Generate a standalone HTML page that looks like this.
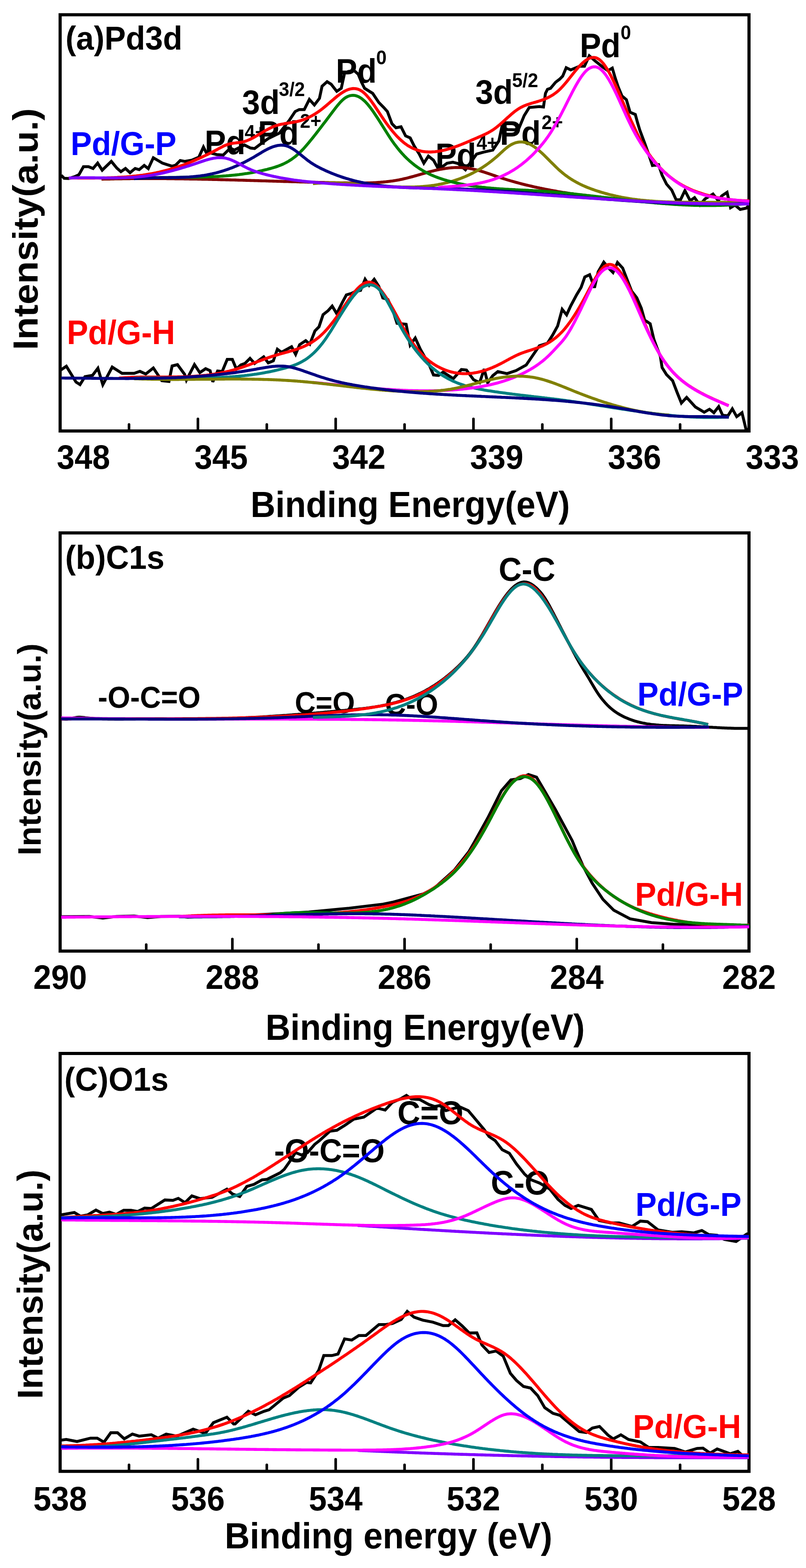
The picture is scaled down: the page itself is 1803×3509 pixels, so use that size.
<!DOCTYPE html>
<html><head><meta charset="utf-8"><style>html,body{margin:0;padding:0;background:#fff;}svg{display:block;}</style></head>
<body><svg width="1803" height="3509" viewBox="0 0 1803 3509" font-family="&quot;Liberation Sans&quot;, Arial, sans-serif" font-weight="bold">
<rect width="1803" height="3509" fill="#fff"/>
<rect x="134.5" y="33" width="1541.0" height="931.5" fill="none" stroke="#000" stroke-width="7"/>
<rect x="134.5" y="1192.6" width="1541.0" height="935.8000000000002" fill="none" stroke="#000" stroke-width="7"/>
<rect x="134.5" y="2357.5" width="1541.0" height="935.1999999999998" fill="none" stroke="#000" stroke-width="7"/>
<line x1="288.6" y1="964.5" x2="288.6" y2="950.0" stroke="#000" stroke-width="5.8" stroke-linecap="round"/>
<line x1="442.7" y1="964.5" x2="442.7" y2="937.5" stroke="#000" stroke-width="5.8" stroke-linecap="round"/>
<line x1="596.8" y1="964.5" x2="596.8" y2="950.0" stroke="#000" stroke-width="5.8" stroke-linecap="round"/>
<line x1="750.9" y1="964.5" x2="750.9" y2="937.5" stroke="#000" stroke-width="5.8" stroke-linecap="round"/>
<line x1="905.0" y1="964.5" x2="905.0" y2="950.0" stroke="#000" stroke-width="5.8" stroke-linecap="round"/>
<line x1="1059.1" y1="964.5" x2="1059.1" y2="937.5" stroke="#000" stroke-width="5.8" stroke-linecap="round"/>
<line x1="1213.2" y1="964.5" x2="1213.2" y2="950.0" stroke="#000" stroke-width="5.8" stroke-linecap="round"/>
<line x1="1367.3" y1="964.5" x2="1367.3" y2="937.5" stroke="#000" stroke-width="5.8" stroke-linecap="round"/>
<line x1="1521.4" y1="964.5" x2="1521.4" y2="950.0" stroke="#000" stroke-width="5.8" stroke-linecap="round"/>
<line x1="327.1" y1="2128.4" x2="327.1" y2="2113.9" stroke="#000" stroke-width="5.8" stroke-linecap="round"/>
<line x1="519.8" y1="2128.4" x2="519.8" y2="2101.4" stroke="#000" stroke-width="5.8" stroke-linecap="round"/>
<line x1="712.4" y1="2128.4" x2="712.4" y2="2113.9" stroke="#000" stroke-width="5.8" stroke-linecap="round"/>
<line x1="905.0" y1="2128.4" x2="905.0" y2="2101.4" stroke="#000" stroke-width="5.8" stroke-linecap="round"/>
<line x1="1097.6" y1="2128.4" x2="1097.6" y2="2113.9" stroke="#000" stroke-width="5.8" stroke-linecap="round"/>
<line x1="1290.2" y1="2128.4" x2="1290.2" y2="2101.4" stroke="#000" stroke-width="5.8" stroke-linecap="round"/>
<line x1="1482.9" y1="2128.4" x2="1482.9" y2="2113.9" stroke="#000" stroke-width="5.8" stroke-linecap="round"/>
<line x1="288.6" y1="3292.7" x2="288.6" y2="3278.2" stroke="#000" stroke-width="5.8" stroke-linecap="round"/>
<line x1="442.7" y1="3292.7" x2="442.7" y2="3265.7" stroke="#000" stroke-width="5.8" stroke-linecap="round"/>
<line x1="596.8" y1="3292.7" x2="596.8" y2="3278.2" stroke="#000" stroke-width="5.8" stroke-linecap="round"/>
<line x1="750.9" y1="3292.7" x2="750.9" y2="3265.7" stroke="#000" stroke-width="5.8" stroke-linecap="round"/>
<line x1="905.0" y1="3292.7" x2="905.0" y2="3278.2" stroke="#000" stroke-width="5.8" stroke-linecap="round"/>
<line x1="1059.1" y1="3292.7" x2="1059.1" y2="3265.7" stroke="#000" stroke-width="5.8" stroke-linecap="round"/>
<line x1="1213.2" y1="3292.7" x2="1213.2" y2="3278.2" stroke="#000" stroke-width="5.8" stroke-linecap="round"/>
<line x1="1367.3" y1="3292.7" x2="1367.3" y2="3265.7" stroke="#000" stroke-width="5.8" stroke-linecap="round"/>
<line x1="1521.4" y1="3292.7" x2="1521.4" y2="3278.2" stroke="#000" stroke-width="5.8" stroke-linecap="round"/>
<text transform="translate(126.9,1048.5) scale(1,1.05)" font-size="71.5" fill="#000">348</text>
<text transform="translate(435.1,1048.5) scale(1,1.05)" font-size="71.5" fill="#000">345</text>
<text transform="translate(743.3,1048.5) scale(1,1.05)" font-size="71.5" fill="#000">342</text>
<text transform="translate(1051.5,1048.5) scale(1,1.05)" font-size="71.5" fill="#000">339</text>
<text transform="translate(1359.7,1048.5) scale(1,1.05)" font-size="71.5" fill="#000">336</text>
<text transform="translate(1667.9,1048.5) scale(1,1.05)" font-size="71.5" fill="#000">333</text>
<text transform="translate(134.5,2213.3) scale(1,1.05)" font-size="72" fill="#000" text-anchor="middle">290</text>
<text transform="translate(519.8,2213.3) scale(1,1.05)" font-size="72" fill="#000" text-anchor="middle">288</text>
<text transform="translate(905.0,2213.3) scale(1,1.05)" font-size="72" fill="#000" text-anchor="middle">286</text>
<text transform="translate(1290.2,2213.3) scale(1,1.05)" font-size="72" fill="#000" text-anchor="middle">284</text>
<text transform="translate(1675.5,2213.3) scale(1,1.05)" font-size="72" fill="#000" text-anchor="middle">282</text>
<text transform="translate(134.5,3379.8) scale(1,1.05)" font-size="72" fill="#000" text-anchor="middle">538</text>
<text transform="translate(442.7,3379.8) scale(1,1.05)" font-size="72" fill="#000" text-anchor="middle">536</text>
<text transform="translate(750.9,3379.8) scale(1,1.05)" font-size="72" fill="#000" text-anchor="middle">534</text>
<text transform="translate(1059.1,3379.8) scale(1,1.05)" font-size="72" fill="#000" text-anchor="middle">532</text>
<text transform="translate(1367.3,3379.8) scale(1,1.05)" font-size="72" fill="#000" text-anchor="middle">530</text>
<text transform="translate(1675.5,3379.8) scale(1,1.05)" font-size="72" fill="#000" text-anchor="middle">528</text>
<text transform="translate(560.5,1156.8) scale(1,1.05)" font-size="77" fill="#000">Binding Energy(eV)</text>
<text transform="translate(593.9,2326.7) scale(1,1.05)" font-size="77" fill="#000">Binding Energy(eV)</text>
<text transform="translate(502.7,3464.8) scale(1,1.05)" font-size="77.6" fill="#000">Binding energy (eV)</text>
<text transform="translate(84.0,783.3) rotate(-90) scale(1.061,1)" font-size="78.5" fill="#000">Intensity(a.u.)</text>
<text transform="translate(90.8,1914.4) rotate(-90) scale(1.0,1)" font-size="73" fill="#000">Intensity(a.u.)</text>
<text transform="translate(95.0,3130.7) rotate(-90) scale(1.0,1)" font-size="79" fill="#000">Intensity(a.u.)</text>
<text transform="translate(146.6,110.8) scale(1,1.05)" font-size="71.3" fill="#000">(a)Pd3d</text>
<text transform="translate(145.8,1273.0) scale(1,1.05)" font-size="71.4" fill="#000">(b)C1s</text>
<text transform="translate(144.0,2440.7) scale(1,1.05)" font-size="71.1" fill="#000">(C)O1s</text>
<text transform="translate(157.9,347.1) scale(1,1.05)" font-size="71" fill="#0000FF">Pd/G-P</text>
<text transform="translate(149.4,770.0) scale(1,1.05)" font-size="71.5" fill="#FF0000">Pd/G-H</text>
<text transform="translate(541.6,254.6) scale(1,1.05)" font-size="72" fill="#000">3d</text>
<text transform="translate(623.8,214.5) scale(1,1.05)" font-size="42" fill="#000">3/2</text>
<text transform="translate(457.8,344.8) scale(1,1.05)" font-size="71.5" fill="#000">Pd</text>
<text transform="translate(547.2,311.0) scale(1,1.05)" font-size="42" fill="#000">4+</text>
<text transform="translate(577.0,324.4) scale(1,1.05)" font-size="71.5" fill="#000">Pd</text>
<text transform="translate(670.9,285.5) scale(1,1.05)" font-size="42" fill="#000">2+</text>
<text transform="translate(751.3,184.9) scale(1,1.05)" font-size="71.5" fill="#000">Pd</text>
<text transform="translate(841.4,143.5) scale(1,1.05)" font-size="42" fill="#000">0</text>
<text transform="translate(1063.2,232.0) scale(1,1.05)" font-size="72" fill="#000">3d</text>
<text transform="translate(1145.5,195.1) scale(1,1.05)" font-size="42" fill="#000">5/2</text>
<text transform="translate(973.9,373.5) scale(1,1.05)" font-size="71.5" fill="#000">Pd</text>
<text transform="translate(1065.9,335.2) scale(1,1.05)" font-size="42" fill="#000">4+</text>
<text transform="translate(1118.2,324.3) scale(1,1.05)" font-size="71.5" fill="#000">Pd</text>
<text transform="translate(1211.5,289.2) scale(1,1.05)" font-size="42" fill="#000">2+</text>
<text transform="translate(1296.9,127.7) scale(1,1.05)" font-size="71.5" fill="#000">Pd</text>
<text transform="translate(1388.3,87.5) scale(1,1.05)" font-size="42" fill="#000">0</text>
<text transform="translate(1115.5,1300.2) scale(1,1.05)" font-size="71.3" fill="#000">C-C</text>
<text transform="translate(219.0,1583.9) scale(1,1.05)" font-size="65.1" fill="#000">-O-C=O</text>
<text transform="translate(659.4,1596.3) scale(1,1.05)" font-size="64.6" fill="#000">C=O</text>
<text transform="translate(861.3,1599.8) scale(1,1.05)" font-size="64.9" fill="#000">C-O</text>
<text transform="translate(1425.8,1579.3) scale(1,1.05)" font-size="71" fill="#0000FF">Pd/G-P</text>
<text transform="translate(1420.6,2026.5) scale(1,1.05)" font-size="71.2" fill="#FF0000">Pd/G-H</text>
<text transform="translate(889.1,2516.0) scale(1,1.05)" font-size="70.8" fill="#000">C=O</text>
<text transform="translate(613.3,2600.6) scale(1,1.05)" font-size="70.1" fill="#000">-O-C=O</text>
<text transform="translate(1098.0,2673.0) scale(1,1.05)" font-size="71.5" fill="#000">C-O</text>
<text transform="translate(1421.6,2720.8) scale(1,1.05)" font-size="71.1" fill="#0000FF">Pd/G-P</text>
<text transform="translate(1415.8,3218.4) scale(1,1.05)" font-size="71.4" fill="#FF0000">Pd/G-H</text>
<path d="M137.0,392.2 L143.6,399.0 L153.8,399.4 L166.3,395.6 L176.5,391.0 L186.7,372.9 L198.0,372.9 L208.2,377.0 L218.4,365.0 L228.6,380.8 L249.0,361.1 L261.4,376.3 L270.5,384.2 L280.7,377.0 L290.9,386.5 L302.2,377.0 L311.3,379.7 L322.6,370.2 L331.7,377.4 L343.0,353.0 L363.4,365.0 L373.6,368.4 L384.9,371.8 L392.9,369.5 L403.1,359.3 L413.3,361.1 L429.0,358.5 L444.9,351.7 L455.1,329.0 L461.9,342.6 L472.1,342.6 L485.0,346.0 L499.3,347.1 L515.2,331.3 L524.2,335.8 L546.9,324.5 L560.5,331.3 L569.6,332.4 L583.2,322.2 L600.0,310.0 L625.0,298.0 L646.6,270.1 L660.2,249.7 L669.3,245.2 L680.6,245.2 L692.0,222.5 L703.3,235.0 L714.6,220.2 L720.4,193.0 L731.7,182.9 L740.8,188.5 L753.3,204.4 L763.4,197.6 L770.7,164.0 L779.3,160.0 L792.9,158.6 L801.3,166.0 L808.7,184.0 L815.6,197.6 L833.7,208.9 L847.3,229.3 L858.6,240.6 L866.6,249.7 L876.8,276.9 L885.8,286.0 L897.1,283.7 L907.3,304.1 L917.5,308.6 L926.6,326.8 L937.9,344.9 L948.1,365.3 L958.3,349.4 L969.7,358.5 L979.9,376.6 L987.8,374.3 L1000.0,365.3 L1013.0,363.0 L1025.0,366.0 L1041.2,380.0 L1066.1,344.9 L1082.0,340.3 L1102.4,335.8 L1116.0,315.4 L1122.8,283.7 L1135.0,290.0 L1152.2,290.5 L1161.3,286.0 L1172.6,258.8 L1183.9,240.6 L1206.6,238.4 L1215.7,239.5 L1220.2,208.9 L1224.7,199.9 L1231.5,197.6 L1242.9,184.0 L1251.9,177.2 L1258.7,170.4 L1266.6,151.5 L1276.6,156.5 L1296.6,148.2 L1307.4,148.2 L1318.2,124.9 L1331.5,136.6 L1348.1,149.9 L1359.7,158.2 L1369.7,152.3 L1376.3,174.8 L1383.0,194.7 L1391.3,214.7 L1401.2,223.0 L1409.5,251.2 L1421.2,256.2 L1426.2,274.5 L1431.2,291.1 L1441.8,319.5 L1449.6,341.1 L1459.5,370.5 L1473.2,368.6 L1481.1,392.1 L1490.9,411.8 L1502.7,425.5 L1512.5,447.1 L1522.3,447.1 L1532.1,426.5 L1543.9,449.1 L1553.7,442.2 L1565.5,458.9 L1577.3,445.1 L1595.0,434.3 L1606.7,449.1 L1614.6,438.3 L1626.4,430.4 L1634.2,464.8 L1644.1,458.9 L1655.8,468.7 L1669.6,465.8 L1675.5,458.9" fill="none" stroke="#000000" stroke-width="6.5" stroke-linejoin="miter" stroke-miterlimit="3"/>
<path d="M153.8,398.3 L156.8,398.3 L159.8,398.3 L162.8,398.3 L165.8,398.3 L168.8,398.3 L171.8,398.3 L174.8,398.4 L177.8,398.4 L180.8,398.4 L183.8,398.4 L186.8,398.4 L189.8,398.4 L192.8,398.4 L195.8,398.4 L198.8,398.4 L201.8,398.4 L204.8,398.4 L207.8,398.4 L210.8,398.4 L213.8,398.3 L216.8,398.3 L219.9,398.3 L222.9,398.2 L225.9,398.2 L228.9,398.2 L231.9,398.1 L234.9,398.0 L237.9,398.0 L240.9,397.9 L243.9,397.8 L246.9,397.7 L249.9,397.6 L252.9,397.5 L255.9,397.4 L258.9,397.2 L261.9,397.1 L264.9,396.9 L267.9,396.8 L270.9,396.6 L273.9,396.4 L276.9,396.2 L279.9,396.0 L282.9,395.8 L285.9,395.5 L288.9,395.3 L291.9,395.0 L294.9,394.7 L297.9,394.4 L300.9,394.1 L303.9,393.8 L306.9,393.4 L309.9,393.1 L312.9,392.7 L315.9,392.3 L318.9,391.9 L321.9,391.4 L324.9,391.0 L327.9,390.5 L330.9,390.0 L333.9,389.5 L336.9,389.0 L339.9,388.5 L342.9,387.9 L346.0,387.3 L349.0,386.7 L352.0,386.0 L355.0,385.4 L358.0,384.7 L361.0,384.0 L364.0,383.3 L367.0,382.5 L370.0,381.8 L373.0,381.0 L376.0,380.2 L379.0,379.3 L382.0,378.4 L385.0,377.5 L388.0,376.6 L391.0,375.7 L394.0,374.7 L397.0,373.7 L400.0,372.7 L403.0,371.6 L406.0,370.6 L409.0,369.5 L412.0,368.4 L415.0,367.2 L418.0,366.1 L421.0,364.9 L424.0,363.7 L427.0,362.5 L430.0,361.2 L433.0,359.9 L436.0,358.7 L439.0,357.3 L442.0,356.0 L445.0,354.7 L448.0,353.3 L451.0,351.9 L454.0,350.5 L457.0,349.1 L460.0,347.6 L463.0,346.2 L466.0,344.7 L469.0,343.2 L472.1,341.7 L475.1,340.1 L478.1,338.6 L481.1,337.0 L484.1,335.5 L487.1,333.9 L490.1,332.2 L493.1,330.6 L496.1,329.1 L499.1,327.5 L502.1,326.1 L505.1,324.8 L508.1,323.7 L511.1,322.7 L514.1,321.9 L517.1,321.2 L520.1,320.7 L523.1,320.3 L526.1,320.0 L529.1,319.6 L532.1,319.3 L535.1,319.0 L538.1,318.6 L541.1,318.0 L544.1,317.4 L547.1,316.6 L550.1,315.6 L553.1,314.5 L556.1,313.3 L559.1,312.0 L562.1,310.5 L565.1,309.0 L568.1,307.4 L571.1,305.7 L574.1,304.0 L577.1,302.2 L580.1,300.4 L583.1,298.6 L586.1,296.8 L589.1,295.0 L592.1,293.2 L595.1,291.5 L598.2,289.8 L601.2,288.2 L604.2,286.7 L607.2,285.3 L610.2,283.9 L613.2,282.7 L616.2,281.6 L619.2,280.7 L622.2,279.8 L625.2,279.0 L628.2,278.3 L631.2,277.7 L634.2,277.2 L637.2,276.6 L640.2,276.1 L643.2,275.7 L646.2,275.2 L649.2,274.8 L652.2,274.3 L655.2,273.8 L658.2,273.3 L661.2,272.7 L664.2,272.1 L667.2,271.3 L670.2,270.5 L673.2,269.7 L676.2,268.7 L679.2,267.6 L682.2,266.5 L685.2,265.2 L688.2,263.9 L691.2,262.4 L694.2,260.9 L697.2,259.3 L700.2,257.6 L703.2,255.8 L706.2,254.0 L709.2,252.0 L712.2,250.0 L715.2,247.8 L718.2,245.6 L721.2,243.3 L724.2,240.9 L727.3,238.4 L730.3,235.9 L733.3,233.3 L736.3,230.7 L739.3,228.1 L742.3,225.5 L745.3,222.9 L748.3,220.4 L751.3,217.9 L754.3,215.4 L757.3,213.1 L760.3,210.9 L763.3,208.8 L766.3,206.8 L769.3,205.0 L772.3,203.4 L775.3,201.9 L778.3,200.7 L781.3,199.7 L784.3,198.9 L787.3,198.4 L790.3,198.1 L793.3,198.2 L796.3,198.5 L799.3,199.2 L802.3,200.2 L805.3,201.6 L808.3,203.3 L811.3,205.4 L814.3,207.9 L817.3,210.7 L820.3,213.8 L823.3,217.3 L826.3,220.9 L829.3,224.8 L832.3,228.8 L835.3,233.0 L838.3,237.4 L841.3,241.8 L844.3,246.3 L847.3,250.9 L850.3,255.4 L853.4,260.0 L856.4,264.4 L859.4,268.8 L862.4,273.1 L865.4,277.3 L868.4,281.4 L871.4,285.3 L874.4,289.2 L877.4,292.9 L880.4,296.4 L883.4,299.9 L886.4,303.2 L889.4,306.4 L892.4,309.4 L895.4,312.3 L898.4,315.0 L901.4,317.6 L904.4,320.0 L907.4,322.3 L910.4,324.4 L913.4,326.4 L916.4,328.2 L919.4,329.8 L922.4,331.4 L925.4,332.7 L928.4,334.0 L931.4,335.1 L934.4,336.1 L937.4,337.0 L940.4,337.8 L943.4,338.4 L946.4,338.9 L949.4,339.4 L952.4,339.7 L955.4,339.9 L958.4,340.1 L961.4,340.1 L964.4,340.1 L967.4,339.9 L970.4,339.7 L973.4,339.5 L976.4,339.1 L979.5,338.7 L982.5,338.2 L985.5,337.7 L988.5,337.1 L991.5,336.5 L994.5,335.8 L997.5,335.0 L1000.5,334.2 L1003.5,333.3 L1006.5,332.5 L1009.5,331.5 L1012.5,330.5 L1015.5,329.5 L1018.5,328.5 L1021.5,327.4 L1024.5,326.3 L1027.5,325.1 L1030.5,324.0 L1033.5,322.8 L1036.5,321.6 L1039.5,320.3 L1042.5,319.1 L1045.5,317.8 L1048.5,316.5 L1051.5,315.2 L1054.5,313.9 L1057.5,312.6 L1060.5,311.3 L1063.5,310.0 L1066.5,308.7 L1069.5,307.4 L1072.5,306.1 L1075.5,304.8 L1078.5,303.5 L1081.5,302.1 L1084.5,300.7 L1087.5,299.3 L1090.5,297.8 L1093.5,296.2 L1096.5,294.5 L1099.5,292.7 L1102.5,290.7 L1105.6,288.7 L1108.6,286.5 L1111.6,284.1 L1114.6,281.7 L1117.6,279.2 L1120.6,276.6 L1123.6,273.9 L1126.6,271.2 L1129.6,268.5 L1132.6,265.8 L1135.6,263.0 L1138.6,260.4 L1141.6,257.7 L1144.6,255.1 L1147.6,252.6 L1150.6,250.2 L1153.6,247.9 L1156.6,245.8 L1159.6,243.8 L1162.6,241.9 L1165.6,240.2 L1168.6,238.7 L1171.6,237.3 L1174.6,236.0 L1177.6,234.9 L1180.6,233.8 L1183.6,232.8 L1186.6,231.8 L1189.6,230.9 L1192.6,230.1 L1195.6,229.2 L1198.6,228.4 L1201.6,227.5 L1204.6,226.6 L1207.6,225.7 L1210.6,224.7 L1213.6,223.6 L1216.6,222.5 L1219.6,221.2 L1222.6,219.9 L1225.6,218.5 L1228.6,217.0 L1231.6,215.4 L1234.7,213.6 L1237.7,211.7 L1240.7,209.6 L1243.7,207.4 L1246.7,205.0 L1249.7,202.4 L1252.7,199.6 L1255.7,196.5 L1258.7,193.3 L1261.7,189.9 L1264.7,186.4 L1267.7,182.8 L1270.7,179.1 L1273.7,175.3 L1276.7,171.5 L1279.7,167.7 L1282.7,164.0 L1285.7,160.2 L1288.7,156.6 L1291.7,153.1 L1294.7,149.6 L1297.7,146.4 L1300.7,143.3 L1303.7,140.5 L1306.7,137.9 L1309.7,135.5 L1312.7,133.5 L1315.7,131.7 L1318.7,130.3 L1321.7,129.3 L1324.7,128.7 L1327.7,128.5 L1330.7,128.8 L1333.7,129.5 L1336.7,130.8 L1339.7,132.6 L1342.7,134.9 L1345.7,137.8 L1348.7,141.1 L1351.7,144.9 L1354.7,149.2 L1357.7,153.9 L1360.8,158.9 L1363.8,164.3 L1366.8,169.9 L1369.8,175.9 L1372.8,182.1 L1375.8,188.5 L1378.8,195.0 L1381.8,201.7 L1384.8,208.6 L1387.8,215.5 L1390.8,222.4 L1393.8,229.4 L1396.8,236.3 L1399.8,243.2 L1402.8,250.0 L1405.8,256.7 L1408.8,263.4 L1411.8,270.0 L1414.8,276.5 L1417.8,283.0 L1420.8,289.4 L1423.8,295.7 L1426.8,301.9 L1429.8,307.9 L1432.8,313.7 L1435.8,319.2 L1438.8,324.5 L1441.8,329.6 L1444.8,334.4 L1447.8,339.1 L1450.8,343.5 L1453.8,347.8 L1456.8,351.9 L1459.8,355.8 L1462.8,359.6 L1465.8,363.3 L1468.8,366.8 L1471.8,370.2 L1474.8,373.5 L1477.8,376.7 L1480.8,379.7 L1483.8,382.7 L1486.9,385.6 L1489.9,388.3 L1492.9,391.0 L1495.9,393.5 L1498.9,396.0 L1501.9,398.4 L1504.9,400.7 L1507.9,402.9 L1510.9,405.0 L1513.9,407.0 L1516.9,409.0 L1519.9,410.8 L1522.9,412.6 L1525.9,414.4 L1528.9,416.0 L1531.9,417.6 L1534.9,419.2 L1537.9,420.6 L1540.9,422.0 L1543.9,423.4 L1546.9,424.7 L1549.9,426.0 L1552.9,427.2 L1555.9,428.3 L1558.9,429.4 L1561.9,430.5 L1564.9,431.5 L1567.9,432.5 L1570.9,433.5 L1573.9,434.4 L1576.9,435.3 L1579.9,436.2 L1582.9,437.0 L1585.9,437.8 L1588.9,438.6 L1591.9,439.4 L1594.9,440.1 L1597.9,440.8 L1600.9,441.4 L1603.9,442.0 L1606.9,442.6 L1609.9,443.2 L1613.0,443.7 L1616.0,444.3 L1619.0,444.7 L1622.0,445.2 L1625.0,445.6 L1628.0,446.1 L1631.0,446.4 L1634.0,446.8 L1637.0,447.1 L1640.0,447.4 L1643.0,447.7 L1646.0,448.0 L1649.0,448.2 L1652.0,448.5 L1655.0,448.7 L1658.0,448.8 L1661.0,449.0 L1664.0,449.1 L1667.0,449.3 L1670.0,449.4 L1673.0,449.4 L1676.0,449.5" fill="none" stroke="#FF0000" stroke-width="6.6" stroke-linejoin="round"/>
<path d="M227.0,401.0 L230.0,400.9 L233.0,400.8 L236.0,400.8 L239.0,400.7 L242.0,400.6 L245.0,400.6 L248.0,400.5 L251.0,400.4 L254.0,400.4 L257.0,400.3 L260.0,400.3 L263.0,400.2 L266.0,400.2 L269.0,400.1 L272.0,400.1 L275.0,400.0 L278.0,400.0 L281.0,400.0 L284.0,399.9 L287.0,399.9 L290.0,399.9 L293.0,399.8 L296.0,399.8 L299.0,399.8 L302.0,399.8 L305.0,399.7 L308.0,399.7 L311.0,399.7 L314.0,399.7 L317.0,399.7 L320.0,399.7 L323.0,399.7 L326.0,399.7 L329.0,399.7 L332.0,399.7 L335.0,399.7 L338.0,399.7 L341.0,399.7 L344.0,399.7 L347.0,399.7 L350.0,399.7 L353.0,399.7 L356.0,399.7 L359.0,399.8 L362.0,399.8 L365.0,399.8 L368.0,399.8 L371.0,399.8 L374.0,399.9 L377.0,399.9 L380.0,399.9 L383.0,400.0 L386.0,400.0 L389.0,400.0 L392.0,400.1 L395.0,400.1 L398.0,400.1 L401.0,400.2 L404.0,400.2 L407.0,400.3 L410.0,400.3 L413.0,400.4 L416.0,400.4 L419.0,400.5 L422.0,400.5 L425.0,400.6 L428.0,400.6 L431.0,400.7 L434.0,400.7 L437.0,400.8 L440.0,400.8 L443.0,400.9 L446.0,401.0 L449.0,401.0 L452.0,401.1 L455.0,401.1 L458.0,401.2 L461.0,401.3 L464.0,401.3 L467.0,401.4 L470.0,401.5 L473.0,401.5 L476.0,401.6 L479.0,401.7 L482.0,401.8 L485.0,401.8 L488.0,401.9 L491.0,402.0 L494.0,402.1 L497.0,402.1 L500.0,402.2 L503.0,402.3 L506.0,402.4 L509.0,402.4 L512.0,402.5 L515.0,402.6 L518.0,402.7 L521.0,402.8 L524.0,402.8 L527.0,402.9 L530.0,403.0 L533.0,403.1 L536.0,403.2 L539.0,403.3 L542.0,403.3 L545.0,403.4 L548.0,403.5 L551.0,403.6 L554.0,403.7 L557.0,403.8 L560.0,403.9 L563.0,404.0 L566.0,404.0 L569.0,404.1 L572.0,404.2 L575.0,404.3 L578.0,404.4 L581.0,404.5 L584.0,404.6 L587.0,404.7 L590.0,404.7 L593.0,404.8 L596.0,404.9 L599.0,405.0 L602.0,405.1 L605.0,405.2 L608.0,405.3 L611.0,405.4 L614.0,405.5 L617.0,405.5 L620.0,405.6 L623.0,405.7 L626.0,405.8 L629.0,405.9 L632.0,406.0 L635.0,406.1 L638.0,406.2 L641.0,406.2 L644.0,406.3 L647.0,406.4 L650.0,406.5 L653.0,406.6 L656.0,406.7 L659.0,406.8 L662.0,406.8 L665.0,406.9 L668.0,407.0 L671.0,407.1 L674.0,407.2 L677.0,407.2 L680.0,407.3 L683.0,407.4 L686.0,407.5 L689.0,407.6 L692.0,407.6 L695.0,407.7 L698.0,407.8 L701.0,407.9 L704.0,407.9 L707.0,408.0 L710.0,408.1 L713.0,408.2 L716.0,408.2 L719.0,408.3 L722.0,408.4 L725.0,408.4 L728.0,408.5 L731.0,408.6 L734.0,408.6 L737.0,408.7 L740.0,408.8 L743.0,408.8 L746.0,408.9 L749.0,408.9 L752.0,409.0 L755.0,409.1 L758.0,409.1 L761.0,409.2 L764.0,409.2 L767.0,409.3 L770.0,409.3 L773.0,409.4 L776.0,409.4 L779.0,409.5 L782.0,409.5 L785.0,409.5 L788.0,409.6 L791.0,409.6 L794.0,409.6 L797.0,409.6 L800.0,409.6 L803.0,409.6 L806.0,409.6 L809.0,409.6 L812.0,409.6 L815.0,409.5 L818.0,409.5 L821.0,409.4 L824.0,409.3 L827.0,409.2 L830.0,409.1 L833.0,409.0 L836.0,408.8 L839.0,408.7 L842.0,408.5 L845.0,408.3 L848.0,408.1 L851.0,407.9 L854.0,407.6 L857.0,407.4 L860.0,407.1 L863.0,406.8 L866.0,406.4 L869.0,406.1 L872.0,405.7 L875.0,405.3 L878.0,404.9 L881.0,404.4 L884.0,404.0 L887.0,403.5 L890.0,402.9 L893.0,402.4 L896.0,401.8 L899.0,401.2 L902.0,400.5 L905.0,399.8 L908.0,399.1 L911.0,398.4 L914.0,397.6 L917.0,396.8 L920.0,396.0 L923.0,395.2 L926.0,394.4 L929.0,393.5 L932.0,392.7 L935.0,391.8 L938.0,391.0 L941.0,390.1 L944.0,389.2 L947.0,388.4 L950.0,387.5 L953.0,386.7 L956.0,385.8 L959.0,385.0 L962.0,384.2 L965.0,383.4 L968.0,382.7 L971.0,381.9 L974.0,381.2 L977.0,380.6 L980.0,379.9 L983.0,379.3 L986.0,378.7 L989.0,378.2 L992.0,377.7 L995.0,377.2 L998.0,376.7 L1001.0,376.4 L1004.0,376.0 L1007.0,375.7 L1010.0,375.4 L1013.0,375.2 L1016.0,375.0 L1019.0,374.9 L1022.0,374.9 L1025.0,374.8 L1028.0,374.9 L1031.0,375.0 L1034.0,375.1 L1037.0,375.3 L1040.0,375.6 L1043.0,375.9 L1046.0,376.3 L1049.0,376.7 L1052.0,377.2 L1055.0,377.8 L1058.0,378.4 L1061.0,379.1 L1064.0,379.8 L1067.0,380.5 L1070.0,381.3 L1073.0,382.2 L1076.0,383.1 L1079.0,384.0 L1082.0,384.9 L1085.0,385.9 L1088.0,386.9 L1091.0,387.9 L1094.0,388.9 L1097.0,389.9 L1100.0,390.9 L1103.0,392.0 L1106.0,393.0 L1109.0,394.0 L1112.0,395.1 L1115.0,396.1 L1118.0,397.1 L1121.0,398.1 L1124.0,399.0 L1127.0,400.0 L1130.0,400.9 L1133.0,401.9 L1136.0,402.8 L1139.0,403.7 L1142.0,404.6 L1145.0,405.4 L1148.0,406.3 L1151.0,407.1 L1154.0,408.0 L1157.0,408.8 L1160.0,409.6 L1163.0,410.4 L1166.0,411.2 L1169.0,412.0 L1172.0,412.7 L1175.0,413.5 L1178.0,414.2 L1181.0,414.9 L1184.0,415.6 L1187.0,416.3 L1190.0,417.0 L1193.0,417.7 L1196.0,418.4 L1199.0,419.0 L1202.0,419.7 L1205.0,420.3 L1208.0,421.0 L1211.0,421.6 L1214.0,422.2 L1217.0,422.8 L1220.0,423.4 L1223.0,424.0 L1226.0,424.6 L1229.0,425.1 L1232.0,425.7 L1235.0,426.2 L1238.0,426.8 L1241.0,427.3 L1244.0,427.8 L1247.0,428.4 L1250.0,428.9 L1253.0,429.4 L1256.0,429.9 L1259.0,430.4 L1262.0,430.8 L1265.0,431.3 L1268.0,431.8 L1271.0,432.3 L1274.0,432.7 L1277.0,433.2 L1280.0,433.6 L1283.0,434.1 L1286.0,434.5 L1289.0,434.9 L1292.0,435.4 L1295.0,435.8 L1298.0,436.2 L1301.0,436.6 L1304.0,437.0 L1307.0,437.4 L1310.0,437.8 L1313.0,438.2 L1316.0,438.6 L1319.0,439.0 L1322.0,439.3 L1325.0,439.7 L1328.0,440.1 L1331.0,440.4 L1334.0,440.8 L1337.0,441.2 L1340.0,441.5 L1343.0,441.8 L1346.0,442.2 L1349.0,442.5 L1352.0,442.8 L1355.0,443.2 L1358.0,443.5 L1361.0,443.8 L1364.0,444.1 L1367.0,444.4 L1370.0,444.7 L1373.0,445.0 L1376.0,445.3 L1379.0,445.6 L1382.0,445.8 L1385.0,446.1 L1388.0,446.4 L1391.0,446.6 L1394.0,446.9 L1397.0,447.2 L1400.0,447.4 L1403.0,447.7 L1406.0,447.9 L1409.0,448.1 L1412.0,448.4 L1415.0,448.6 L1418.0,448.8 L1421.0,449.1 L1424.0,449.3 L1427.0,449.5 L1430.0,449.7 L1433.0,449.9 L1436.0,450.1 L1439.0,450.3 L1442.0,450.5 L1445.0,450.7 L1448.0,450.9 L1451.0,451.1 L1454.0,451.2 L1457.0,451.4 L1460.0,451.6 L1463.0,451.7 L1466.0,451.9 L1469.0,452.1 L1472.0,452.2 L1475.0,452.4 L1478.0,452.5 L1481.0,452.7 L1484.0,452.8 L1487.0,452.9 L1490.0,453.1 L1493.0,453.2 L1496.0,453.3 L1499.0,453.4 L1502.0,453.6 L1505.0,453.7 L1508.0,453.8 L1511.0,453.9 L1514.0,454.0 L1517.0,454.1 L1520.0,454.2 L1523.0,454.3 L1526.0,454.4 L1529.0,454.4 L1532.0,454.5 L1535.0,454.6 L1538.0,454.7 L1541.0,454.8 L1544.0,454.8 L1547.0,454.9 L1550.0,455.0 L1553.0,455.0 L1556.0,455.1 L1559.0,455.1 L1562.0,455.2 L1565.0,455.2 L1568.0,455.3 L1571.0,455.3 L1574.0,455.3 L1577.0,455.4 L1580.0,455.4 L1583.0,455.4 L1586.0,455.5 L1589.0,455.5 L1592.0,455.5 L1595.0,455.5 L1598.0,455.5 L1601.0,455.6 L1604.0,455.6 L1607.0,455.6 L1610.0,455.6 L1613.0,455.6 L1616.0,455.6 L1619.0,455.6 L1622.0,455.6 L1625.0,455.5 L1628.0,455.5 L1631.0,455.5 L1634.0,455.5 L1637.0,455.5 L1640.0,455.5 L1643.0,455.4 L1646.0,455.4 L1649.0,455.4 L1652.0,455.4 L1655.0,455.3 L1658.0,455.3 L1661.0,455.2 L1664.0,455.2 L1667.0,455.2 L1670.0,455.1 L1673.0,455.1 L1676.0,455.0" fill="none" stroke="#800000" stroke-width="6.6" stroke-linejoin="round"/>
<path d="M700.0,410.9 L703.0,410.6 L706.0,410.4 L709.0,410.2 L712.0,410.0 L715.0,409.9 L718.0,409.7 L721.0,409.6 L724.0,409.5 L727.0,409.4 L730.0,409.4 L733.0,409.3 L736.0,409.3 L739.0,409.3 L742.0,409.3 L745.0,409.3 L748.0,409.4 L751.1,409.4 L754.1,409.5 L757.1,409.6 L760.1,409.7 L763.1,409.8 L766.1,409.9 L769.1,410.1 L772.1,410.2 L775.1,410.4 L778.1,410.6 L781.1,410.7 L784.1,410.9 L787.1,411.1 L790.1,411.3 L793.1,411.5 L796.1,411.7 L799.1,411.9 L802.1,412.2 L805.1,412.4 L808.1,412.6 L811.1,412.9 L814.1,413.1 L817.1,413.3 L820.1,413.6 L823.1,413.8 L826.1,414.1 L829.1,414.3 L832.1,414.6 L835.1,414.8 L838.1,415.0 L841.1,415.3 L844.1,415.5 L847.2,415.7 L850.2,416.0 L853.2,416.2 L856.2,416.4 L859.2,416.6 L862.2,416.8 L865.2,417.0 L868.2,417.2 L871.2,417.4 L874.2,417.5 L877.2,417.7 L880.2,417.8 L883.2,418.0 L886.2,418.1 L889.2,418.2 L892.2,418.3 L895.2,418.4 L898.2,418.5 L901.2,418.6 L904.2,418.6 L907.2,418.6 L910.2,418.6 L913.2,418.6 L916.2,418.6 L919.2,418.6 L922.2,418.5 L925.2,418.5 L928.2,418.4 L931.2,418.2 L934.2,418.1 L937.2,418.0 L940.2,417.8 L943.2,417.6 L946.3,417.4 L949.3,417.1 L952.3,416.8 L955.3,416.5 L958.3,416.2 L961.3,415.9 L964.3,415.5 L967.3,415.1 L970.3,414.7 L973.3,414.2 L976.3,413.7 L979.3,413.2 L982.3,412.6 L985.3,412.1 L988.3,411.4 L991.3,410.8 L994.3,410.1 L997.3,409.4 L1000.3,408.7 L1003.3,407.9 L1006.3,407.1 L1009.3,406.2 L1012.3,405.4 L1015.3,404.4 L1018.3,403.5 L1021.3,402.5 L1024.3,401.5 L1027.3,400.4 L1030.3,399.3 L1033.3,398.1 L1036.3,396.9 L1039.3,395.7 L1042.4,394.4 L1045.4,393.1 L1048.4,391.7 L1051.4,390.3 L1054.4,388.8 L1057.4,387.3 L1060.4,385.7 L1063.4,384.1 L1066.4,382.4 L1069.4,380.7 L1072.4,378.9 L1075.4,377.1 L1078.4,375.2 L1081.4,373.3 L1084.4,371.3 L1087.4,369.2 L1090.4,367.1 L1093.4,364.9 L1096.4,362.6 L1099.4,360.3 L1102.4,357.9 L1105.4,355.5 L1108.4,353.0 L1111.4,350.4 L1114.4,347.7 L1117.4,345.0 L1120.4,342.2 L1123.4,339.5 L1126.4,336.7 L1129.4,334.0 L1132.4,331.5 L1135.4,329.1 L1138.4,326.9 L1141.5,324.9 L1144.5,323.2 L1147.5,321.7 L1150.5,320.5 L1153.5,319.4 L1156.5,318.7 L1159.5,318.1 L1162.5,317.8 L1165.5,317.7 L1168.5,317.8 L1171.5,318.2 L1174.5,318.8 L1177.5,319.6 L1180.5,320.6 L1183.5,321.8 L1186.5,323.3 L1189.5,325.0 L1192.5,326.8 L1195.5,328.8 L1198.5,331.0 L1201.5,333.3 L1204.5,335.8 L1207.5,338.4 L1210.5,341.1 L1213.5,343.8 L1216.5,346.7 L1219.5,349.6 L1222.5,352.6 L1225.5,355.6 L1228.5,358.6 L1231.5,361.7 L1234.5,364.7 L1237.6,367.7 L1240.6,370.7 L1243.6,373.6 L1246.6,376.5 L1249.6,379.3 L1252.6,382.0 L1255.6,384.6 L1258.6,387.1 L1261.6,389.5 L1264.6,391.8 L1267.6,394.0 L1270.6,396.2 L1273.6,398.2 L1276.6,400.2 L1279.6,402.1 L1282.6,404.0 L1285.6,405.7 L1288.6,407.4 L1291.6,409.0 L1294.6,410.6 L1297.6,412.1 L1300.6,413.6 L1303.6,415.0 L1306.6,416.3 L1309.6,417.6 L1312.6,418.9 L1315.6,420.1 L1318.6,421.2 L1321.6,422.4 L1324.6,423.5 L1327.6,424.5 L1330.6,425.6 L1333.6,426.6 L1336.7,427.6 L1339.7,428.5 L1342.7,429.5 L1345.7,430.4 L1348.7,431.3 L1351.7,432.1 L1354.7,433.0 L1357.7,433.8 L1360.7,434.6 L1363.7,435.4 L1366.7,436.1 L1369.7,436.8 L1372.7,437.6 L1375.7,438.2 L1378.7,438.9 L1381.7,439.5 L1384.7,440.2 L1387.7,440.8 L1390.7,441.4 L1393.7,441.9 L1396.7,442.5 L1399.7,443.0 L1402.7,443.5 L1405.7,444.0 L1408.7,444.5 L1411.7,444.9 L1414.7,445.4 L1417.7,445.8 L1420.7,446.2 L1423.7,446.6 L1426.7,447.0 L1429.7,447.3 L1432.8,447.7 L1435.8,448.0 L1438.8,448.3 L1441.8,448.6 L1444.8,448.9 L1447.8,449.2 L1450.8,449.4 L1453.8,449.7 L1456.8,449.9 L1459.8,450.1 L1462.8,450.3 L1465.8,450.5 L1468.8,450.7 L1471.8,450.9 L1474.8,451.0 L1477.8,451.2 L1480.8,451.3 L1483.8,451.5 L1486.8,451.6 L1489.8,451.7 L1492.8,451.8 L1495.8,451.9 L1498.8,452.0 L1501.8,452.1 L1504.8,452.2 L1507.8,452.3 L1510.8,452.3 L1513.8,452.4 L1516.8,452.4 L1519.8,452.5 L1522.8,452.5 L1525.8,452.6 L1528.8,452.6 L1531.9,452.6 L1534.9,452.6 L1537.9,452.6 L1540.9,452.7 L1543.9,452.7 L1546.9,452.7 L1549.9,452.7 L1552.9,452.7 L1555.9,452.7 L1558.9,452.7 L1561.9,452.7 L1564.9,452.7 L1567.9,452.7 L1570.9,452.7 L1573.9,452.7 L1576.9,452.7 L1579.9,452.7 L1582.9,452.7 L1585.9,452.7 L1588.9,452.7 L1591.9,452.7 L1594.9,452.7 L1597.9,452.7 L1600.9,452.7 L1603.9,452.7 L1606.9,452.8 L1609.9,452.8 L1612.9,452.8 L1615.9,452.8 L1618.9,452.9 L1621.9,452.9 L1624.9,453.0 L1628.0,453.0 L1631.0,453.1 L1634.0,453.2 L1637.0,453.2 L1640.0,453.3 L1643.0,453.4 L1646.0,453.5 L1649.0,453.6 L1652.0,453.7 L1655.0,453.9 L1658.0,454.0 L1661.0,454.1 L1664.0,454.3 L1667.0,454.4 L1670.0,454.6 L1673.0,454.8 L1676.0,455.0" fill="none" stroke="#808000" stroke-width="6.6" stroke-linejoin="round"/>
<path d="M300.0,399.5 L303.0,399.4 L306.0,399.2 L309.0,399.0 L312.0,398.8 L315.0,398.7 L318.0,398.6 L321.0,398.4 L324.0,398.3 L327.0,398.2 L330.0,398.1 L333.0,398.0 L336.1,397.9 L339.1,397.8 L342.1,397.7 L345.1,397.6 L348.1,397.6 L351.1,397.5 L354.1,397.5 L357.1,397.4 L360.1,397.4 L363.1,397.3 L366.1,397.3 L369.1,397.2 L372.1,397.2 L375.1,397.2 L378.1,397.1 L381.1,397.1 L384.1,397.1 L387.1,397.1 L390.1,397.0 L393.1,397.0 L396.1,397.0 L399.1,397.0 L402.1,396.9 L405.2,396.9 L408.2,396.9 L411.2,396.9 L414.2,396.8 L417.2,396.8 L420.2,396.8 L423.2,396.7 L426.2,396.7 L429.2,396.7 L432.2,396.6 L435.2,396.6 L438.2,396.5 L441.2,396.5 L444.2,396.4 L447.2,396.3 L450.2,396.3 L453.2,396.2 L456.2,396.1 L459.2,396.0 L462.2,395.9 L465.2,395.8 L468.2,395.7 L471.2,395.6 L474.3,395.5 L477.3,395.3 L480.3,395.2 L483.3,395.0 L486.3,394.9 L489.3,394.7 L492.3,394.5 L495.3,394.3 L498.3,394.1 L501.3,393.9 L504.3,393.7 L507.3,393.4 L510.3,393.2 L513.3,392.9 L516.3,392.6 L519.3,392.3 L522.3,392.0 L525.3,391.7 L528.3,391.4 L531.3,391.0 L534.3,390.7 L537.3,390.3 L540.3,389.9 L543.4,389.5 L546.4,389.1 L549.4,388.6 L552.4,388.2 L555.4,387.7 L558.4,387.2 L561.4,386.7 L564.4,386.2 L567.4,385.6 L570.4,385.1 L573.4,384.5 L576.4,383.9 L579.4,383.2 L582.4,382.6 L585.4,381.9 L588.4,381.2 L591.4,380.5 L594.4,379.8 L597.4,379.1 L600.4,378.3 L603.4,377.5 L606.4,376.7 L609.4,375.8 L612.5,374.9 L615.5,374.0 L618.5,373.0 L621.5,372.0 L624.5,370.8 L627.5,369.7 L630.5,368.4 L633.5,367.1 L636.5,365.6 L639.5,364.1 L642.5,362.5 L645.5,360.8 L648.5,358.9 L651.5,357.0 L654.5,354.9 L657.5,352.7 L660.5,350.4 L663.5,347.9 L666.5,345.2 L669.5,342.4 L672.5,339.5 L675.5,336.4 L678.6,333.2 L681.6,329.9 L684.6,326.4 L687.6,322.9 L690.6,319.3 L693.6,315.7 L696.6,312.0 L699.6,308.3 L702.6,304.5 L705.6,300.7 L708.6,296.9 L711.6,293.0 L714.6,289.1 L717.6,285.2 L720.6,281.3 L723.6,277.3 L726.6,273.4 L729.6,269.4 L732.6,265.4 L735.6,261.4 L738.6,257.5 L741.6,253.5 L744.6,249.5 L747.7,245.5 L750.7,241.6 L753.7,237.8 L756.7,234.1 L759.7,230.6 L762.7,227.3 L765.7,224.4 L768.7,221.7 L771.7,219.4 L774.7,217.5 L777.7,216.0 L780.7,214.8 L783.7,213.9 L786.7,213.5 L789.7,213.3 L792.7,213.5 L795.7,214.1 L798.7,215.0 L801.7,216.2 L804.7,217.8 L807.7,219.7 L810.7,221.9 L813.7,224.5 L816.8,227.3 L819.8,230.5 L822.8,233.9 L825.8,237.6 L828.8,241.4 L831.8,245.5 L834.8,249.7 L837.8,254.1 L840.8,258.6 L843.8,263.1 L846.8,267.8 L849.8,272.5 L852.8,277.3 L855.8,282.0 L858.8,286.8 L861.8,291.6 L864.8,296.3 L867.8,301.0 L870.8,305.6 L873.8,310.2 L876.8,314.6 L879.8,318.9 L882.8,323.1 L885.9,327.1 L888.9,331.0 L891.9,334.7 L894.9,338.3 L897.9,341.7 L900.9,345.1 L903.9,348.3 L906.9,351.3 L909.9,354.3 L912.9,357.1 L915.9,359.9 L918.9,362.5 L921.9,365.0 L924.9,367.4 L927.9,369.8 L930.9,372.0 L933.9,374.1 L936.9,376.2 L939.9,378.2 L942.9,380.0 L945.9,381.9 L948.9,383.6 L951.9,385.2 L955.0,386.8 L958.0,388.3 L961.0,389.8 L964.0,391.2 L967.0,392.5 L970.0,393.8 L973.0,395.0 L976.0,396.2 L979.0,397.3 L982.0,398.4 L985.0,399.4 L988.0,400.4 L991.0,401.4 L994.0,402.3 L997.0,403.2 L1000.0,404.1 L1003.0,404.9 L1006.0,405.7 L1009.0,406.5 L1012.0,407.3 L1015.0,408.0 L1018.0,408.8 L1021.0,409.5 L1024.1,410.1 L1027.1,410.8 L1030.1,411.4 L1033.1,412.0 L1036.1,412.6 L1039.1,413.2 L1042.1,413.7 L1045.1,414.3 L1048.1,414.8 L1051.1,415.3 L1054.1,415.7 L1057.1,416.2 L1060.1,416.7 L1063.1,417.1 L1066.1,417.5 L1069.1,417.9 L1072.1,418.3 L1075.1,418.6 L1078.1,419.0 L1081.1,419.3 L1084.1,419.6 L1087.1,420.0 L1090.1,420.3 L1093.2,420.5 L1096.2,420.8 L1099.2,421.1 L1102.2,421.3 L1105.2,421.6 L1108.2,421.8 L1111.2,422.1 L1114.2,422.3 L1117.2,422.5 L1120.2,422.7 L1123.2,422.9 L1126.2,423.1 L1129.2,423.3 L1132.2,423.5 L1135.2,423.6 L1138.2,423.8 L1141.2,424.0 L1144.2,424.1 L1147.2,424.3 L1150.2,424.4 L1153.2,424.6 L1156.2,424.7 L1159.2,424.9 L1162.3,425.0 L1165.3,425.2 L1168.3,425.3 L1171.3,425.5 L1174.3,425.6 L1177.3,425.8 L1180.3,425.9 L1183.3,426.1 L1186.3,426.2 L1189.3,426.4 L1192.3,426.6 L1195.3,426.7 L1198.3,426.9 L1201.3,427.1 L1204.3,427.3 L1207.3,427.5 L1210.3,427.7 L1213.3,427.9 L1216.3,428.1 L1219.3,428.3 L1222.3,428.5 L1225.3,428.7 L1228.3,429.0 L1231.4,429.2 L1234.4,429.4 L1237.4,429.7 L1240.4,429.9 L1243.4,430.2 L1246.4,430.5 L1249.4,430.7 L1252.4,431.0 L1255.4,431.3 L1258.4,431.5 L1261.4,431.8 L1264.4,432.1 L1267.4,432.4 L1270.4,432.7 L1273.4,433.0 L1276.4,433.3 L1279.4,433.6 L1282.4,433.9 L1285.4,434.2 L1288.4,434.5 L1291.4,434.9 L1294.4,435.2 L1297.4,435.5 L1300.5,435.8 L1303.5,436.2 L1306.5,436.5 L1309.5,436.8 L1312.5,437.2 L1315.5,437.5 L1318.5,437.8 L1321.5,438.2 L1324.5,438.5 L1327.5,438.9 L1330.5,439.2 L1333.5,439.6 L1336.5,439.9 L1339.5,440.3 L1342.5,440.6 L1345.5,441.0 L1348.5,441.3 L1351.5,441.7 L1354.5,442.0 L1357.5,442.4 L1360.5,442.7 L1363.5,443.1 L1366.6,443.4 L1369.6,443.8 L1372.6,444.1 L1375.6,444.5 L1378.6,444.8 L1381.6,445.2 L1384.6,445.5 L1387.6,445.8 L1390.6,446.2 L1393.6,446.5 L1396.6,446.9 L1399.6,447.2 L1402.6,447.6 L1405.6,447.9 L1408.6,448.2 L1411.6,448.6 L1414.6,448.9 L1417.6,449.2 L1420.6,449.5 L1423.6,449.9 L1426.6,450.2 L1429.6,450.5 L1432.6,450.8 L1435.7,451.1 L1438.7,451.4 L1441.7,451.7 L1444.7,452.0 L1447.7,452.3 L1450.7,452.6 L1453.7,452.9 L1456.7,453.2 L1459.7,453.5 L1462.7,453.8 L1465.7,454.1 L1468.7,454.3 L1471.7,454.6 L1474.7,454.8 L1477.7,455.1 L1480.7,455.4 L1483.7,455.6 L1486.7,455.8 L1489.7,456.1 L1492.7,456.3 L1495.7,456.5 L1498.7,456.7 L1501.7,457.0 L1504.8,457.2 L1507.8,457.4 L1510.8,457.6 L1513.8,457.7 L1516.8,457.9 L1519.8,458.1 L1522.8,458.3 L1525.8,458.4 L1528.8,458.6 L1531.8,458.7 L1534.8,458.9 L1537.8,459.0 L1540.8,459.1 L1543.8,459.2 L1546.8,459.4 L1549.8,459.5 L1552.8,459.6 L1555.8,459.6 L1558.8,459.7 L1561.8,459.8 L1564.8,459.8 L1567.8,459.9 L1570.8,459.9 L1573.9,460.0 L1576.9,460.0 L1579.9,460.0 L1582.9,460.0 L1585.9,460.0 L1588.9,460.0 L1591.9,460.0 L1594.9,460.0 L1597.9,459.9 L1600.9,459.9 L1603.9,459.8 L1606.9,459.8 L1609.9,459.7 L1612.9,459.6 L1615.9,459.5 L1618.9,459.4 L1621.9,459.2 L1624.9,459.1 L1627.9,459.0 L1630.9,458.8 L1633.9,458.6 L1636.9,458.5 L1639.9,458.3 L1643.0,458.1 L1646.0,457.9 L1649.0,457.6 L1652.0,457.4 L1655.0,457.1 L1658.0,456.9 L1661.0,456.6 L1664.0,456.3 L1667.0,456.0 L1670.0,455.7 L1673.0,455.4 L1676.0,455.0" fill="none" stroke="#008000" stroke-width="6.6" stroke-linejoin="round"/>
<path d="M300.0,399.9 L303.0,399.7 L306.0,399.4 L309.0,399.2 L312.0,399.0 L315.0,398.8 L318.0,398.7 L321.0,398.5 L324.0,398.4 L327.0,398.3 L330.0,398.2 L333.0,398.1 L336.1,398.0 L339.1,397.9 L342.1,397.8 L345.1,397.8 L348.1,397.7 L351.1,397.7 L354.1,397.7 L357.1,397.6 L360.1,397.6 L363.1,397.6 L366.1,397.5 L369.1,397.5 L372.1,397.5 L375.1,397.5 L378.1,397.4 L381.1,397.4 L384.1,397.4 L387.1,397.3 L390.1,397.3 L393.1,397.2 L396.1,397.1 L399.1,397.1 L402.1,397.0 L405.2,396.9 L408.2,396.8 L411.2,396.6 L414.2,396.5 L417.2,396.3 L420.2,396.2 L423.2,396.0 L426.2,395.7 L429.2,395.5 L432.2,395.3 L435.2,395.0 L438.2,394.7 L441.2,394.4 L444.2,394.0 L447.2,393.7 L450.2,393.3 L453.2,392.8 L456.2,392.4 L459.2,391.9 L462.2,391.4 L465.2,390.8 L468.2,390.3 L471.2,389.6 L474.3,389.0 L477.3,388.3 L480.3,387.6 L483.3,386.9 L486.3,386.1 L489.3,385.3 L492.3,384.4 L495.3,383.5 L498.3,382.6 L501.3,381.7 L504.3,380.7 L507.3,379.7 L510.3,378.6 L513.3,377.5 L516.3,376.4 L519.3,375.3 L522.3,374.1 L525.3,372.8 L528.3,371.6 L531.3,370.3 L534.3,368.9 L537.3,367.6 L540.3,366.1 L543.4,364.7 L546.4,363.2 L549.4,361.7 L552.4,360.1 L555.4,358.5 L558.4,356.9 L561.4,355.2 L564.4,353.5 L567.4,351.8 L570.4,350.0 L573.4,348.2 L576.4,346.4 L579.4,344.6 L582.4,342.8 L585.4,341.0 L588.4,339.2 L591.4,337.5 L594.4,335.9 L597.4,334.3 L600.4,332.8 L603.4,331.4 L606.4,330.1 L609.4,328.9 L612.5,327.9 L615.5,327.0 L618.5,326.2 L621.5,325.6 L624.5,325.2 L627.5,324.9 L630.5,324.9 L633.5,325.1 L636.5,325.5 L639.5,326.1 L642.5,327.0 L645.5,328.2 L648.5,329.5 L651.5,331.1 L654.5,332.9 L657.5,334.8 L660.5,336.9 L663.5,339.1 L666.5,341.4 L669.5,343.8 L672.5,346.2 L675.5,348.6 L678.6,351.1 L681.6,353.5 L684.6,355.9 L687.6,358.3 L690.6,360.5 L693.6,362.7 L696.6,364.7 L699.6,366.7 L702.6,368.5 L705.6,370.3 L708.6,372.0 L711.6,373.6 L714.6,375.2 L717.6,376.7 L720.6,378.2 L723.6,379.6 L726.6,381.0 L729.6,382.4 L732.6,383.7 L735.6,385.0 L738.6,386.3 L741.6,387.6 L744.6,388.8 L747.7,390.0 L750.7,391.1 L753.7,392.3 L756.7,393.4 L759.7,394.4 L762.7,395.5 L765.7,396.5 L768.7,397.5 L771.7,398.4 L774.7,399.3 L777.7,400.2 L780.7,401.1 L783.7,402.0 L786.7,402.8 L789.7,403.6 L792.7,404.4 L795.7,405.1 L798.7,405.9 L801.7,406.6 L804.7,407.2 L807.7,407.9 L810.7,408.5 L813.7,409.2 L816.8,409.8 L819.8,410.3 L822.8,410.9 L825.8,411.4 L828.8,411.9 L831.8,412.4 L834.8,412.9 L837.8,413.4 L840.8,413.8 L843.8,414.2 L846.8,414.6 L849.8,415.0 L852.8,415.4 L855.8,415.7 L858.8,416.1 L861.8,416.4 L864.8,416.7 L867.8,417.0 L870.8,417.3 L873.8,417.6 L876.8,417.8 L879.8,418.1 L882.8,418.3 L885.9,418.5 L888.9,418.7 L891.9,418.9 L894.9,419.1 L897.9,419.3 L900.9,419.4 L903.9,419.6 L906.9,419.7 L909.9,419.9 L912.9,420.0 L915.9,420.1 L918.9,420.2 L921.9,420.3 L924.9,420.4 L927.9,420.5 L930.9,420.6 L933.9,420.7 L936.9,420.8 L939.9,420.9 L942.9,420.9 L945.9,421.0 L948.9,421.1 L951.9,421.1 L955.0,421.2 L958.0,421.2 L961.0,421.3 L964.0,421.3 L967.0,421.4 L970.0,421.4 L973.0,421.5 L976.0,421.5 L979.0,421.6 L982.0,421.6 L985.0,421.7 L988.0,421.7 L991.0,421.8 L994.0,421.9 L997.0,421.9 L1000.0,422.0 L1003.0,422.1 L1006.0,422.1 L1009.0,422.2 L1012.0,422.3 L1015.0,422.4 L1018.0,422.5 L1021.0,422.6 L1024.1,422.7 L1027.1,422.8 L1030.1,422.9 L1033.1,423.0 L1036.1,423.1 L1039.1,423.2 L1042.1,423.3 L1045.1,423.4 L1048.1,423.6 L1051.1,423.7 L1054.1,423.8 L1057.1,424.0 L1060.1,424.1 L1063.1,424.2 L1066.1,424.4 L1069.1,424.5 L1072.1,424.7 L1075.1,424.8 L1078.1,425.0 L1081.1,425.1 L1084.1,425.3 L1087.1,425.5 L1090.1,425.6 L1093.2,425.8 L1096.2,426.0 L1099.2,426.1 L1102.2,426.3 L1105.2,426.5 L1108.2,426.7 L1111.2,426.9 L1114.2,427.0 L1117.2,427.2 L1120.2,427.4 L1123.2,427.6 L1126.2,427.8 L1129.2,428.0 L1132.2,428.2 L1135.2,428.4 L1138.2,428.6 L1141.2,428.8 L1144.2,429.0 L1147.2,429.2 L1150.2,429.4 L1153.2,429.7 L1156.2,429.9 L1159.2,430.1 L1162.3,430.3 L1165.3,430.5 L1168.3,430.7 L1171.3,431.0 L1174.3,431.2 L1177.3,431.4 L1180.3,431.6 L1183.3,431.9 L1186.3,432.1 L1189.3,432.3 L1192.3,432.6 L1195.3,432.8 L1198.3,433.0 L1201.3,433.3 L1204.3,433.5 L1207.3,433.7 L1210.3,434.0 L1213.3,434.2 L1216.3,434.5 L1219.3,434.7 L1222.3,434.9 L1225.3,435.2 L1228.3,435.4 L1231.4,435.7 L1234.4,435.9 L1237.4,436.2 L1240.4,436.4 L1243.4,436.6 L1246.4,436.9 L1249.4,437.1 L1252.4,437.4 L1255.4,437.6 L1258.4,437.9 L1261.4,438.1 L1264.4,438.4 L1267.4,438.6 L1270.4,438.9 L1273.4,439.1 L1276.4,439.4 L1279.4,439.6 L1282.4,439.9 L1285.4,440.1 L1288.4,440.4 L1291.4,440.6 L1294.4,440.8 L1297.4,441.1 L1300.5,441.3 L1303.5,441.6 L1306.5,441.8 L1309.5,442.1 L1312.5,442.3 L1315.5,442.6 L1318.5,442.8 L1321.5,443.1 L1324.5,443.3 L1327.5,443.5 L1330.5,443.8 L1333.5,444.0 L1336.5,444.3 L1339.5,444.5 L1342.5,444.7 L1345.5,445.0 L1348.5,445.2 L1351.5,445.4 L1354.5,445.7 L1357.5,445.9 L1360.5,446.1 L1363.5,446.4 L1366.6,446.6 L1369.6,446.8 L1372.6,447.0 L1375.6,447.3 L1378.6,447.5 L1381.6,447.7 L1384.6,447.9 L1387.6,448.1 L1390.6,448.4 L1393.6,448.6 L1396.6,448.8 L1399.6,449.0 L1402.6,449.2 L1405.6,449.4 L1408.6,449.6 L1411.6,449.8 L1414.6,450.0 L1417.6,450.2 L1420.6,450.4 L1423.6,450.6 L1426.6,450.8 L1429.6,451.0 L1432.6,451.2 L1435.7,451.4 L1438.7,451.5 L1441.7,451.7 L1444.7,451.9 L1447.7,452.1 L1450.7,452.3 L1453.7,452.4 L1456.7,452.6 L1459.7,452.8 L1462.7,452.9 L1465.7,453.1 L1468.7,453.2 L1471.7,453.4 L1474.7,453.6 L1477.7,453.7 L1480.7,453.8 L1483.7,454.0 L1486.7,454.1 L1489.7,454.3 L1492.7,454.4 L1495.7,454.5 L1498.7,454.7 L1501.7,454.8 L1504.8,454.9 L1507.8,455.0 L1510.8,455.1 L1513.8,455.2 L1516.8,455.4 L1519.8,455.5 L1522.8,455.6 L1525.8,455.7 L1528.8,455.8 L1531.8,455.8 L1534.8,455.9 L1537.8,456.0 L1540.8,456.1 L1543.8,456.2 L1546.8,456.2 L1549.8,456.3 L1552.8,456.4 L1555.8,456.4 L1558.8,456.5 L1561.8,456.5 L1564.8,456.6 L1567.8,456.6 L1570.8,456.7 L1573.9,456.7 L1576.9,456.7 L1579.9,456.7 L1582.9,456.8 L1585.9,456.8 L1588.9,456.8 L1591.9,456.8 L1594.9,456.8 L1597.9,456.8 L1600.9,456.8 L1603.9,456.8 L1606.9,456.8 L1609.9,456.7 L1612.9,456.7 L1615.9,456.7 L1618.9,456.6 L1621.9,456.6 L1624.9,456.6 L1627.9,456.5 L1630.9,456.5 L1633.9,456.4 L1636.9,456.3 L1639.9,456.3 L1643.0,456.2 L1646.0,456.1 L1649.0,456.0 L1652.0,455.9 L1655.0,455.8 L1658.0,455.7 L1661.0,455.6 L1664.0,455.5 L1667.0,455.4 L1670.0,455.2 L1673.0,455.1 L1676.0,455.0" fill="none" stroke="#000080" stroke-width="6.6" stroke-linejoin="round"/>
<path d="M980.0,419.7 L983.0,419.5 L986.0,419.2 L989.0,418.9 L992.0,418.7 L995.0,418.4 L998.0,418.2 L1001.0,418.0 L1004.0,417.7 L1007.0,417.5 L1010.0,417.3 L1013.0,417.0 L1016.0,416.8 L1019.0,416.6 L1022.0,416.3 L1025.0,416.1 L1028.0,415.8 L1031.0,415.5 L1034.0,415.2 L1037.0,414.9 L1040.0,414.6 L1043.0,414.3 L1046.0,413.9 L1049.0,413.5 L1052.1,413.1 L1055.1,412.7 L1058.1,412.3 L1061.1,411.8 L1064.1,411.3 L1067.1,410.8 L1070.1,410.2 L1073.1,409.7 L1076.1,409.0 L1079.1,408.4 L1082.1,407.7 L1085.1,407.0 L1088.1,406.2 L1091.1,405.4 L1094.1,404.6 L1097.1,403.7 L1100.1,402.8 L1103.1,401.8 L1106.1,400.8 L1109.1,399.7 L1112.1,398.6 L1115.1,397.5 L1118.1,396.2 L1121.1,395.0 L1124.1,393.6 L1127.1,392.3 L1130.1,390.8 L1133.1,389.3 L1136.1,387.8 L1139.1,386.1 L1142.1,384.4 L1145.1,382.7 L1148.1,380.9 L1151.1,379.0 L1154.1,377.0 L1157.1,375.0 L1160.1,372.9 L1163.1,370.7 L1166.1,368.5 L1169.1,366.1 L1172.1,363.7 L1175.1,361.2 L1178.1,358.7 L1181.1,356.0 L1184.1,353.3 L1187.1,350.5 L1190.2,347.6 L1193.2,344.6 L1196.2,341.5 L1199.2,338.3 L1202.2,335.1 L1205.2,331.7 L1208.2,328.3 L1211.2,324.7 L1214.2,321.1 L1217.2,317.3 L1220.2,313.4 L1223.2,309.3 L1226.2,305.1 L1229.2,300.7 L1232.2,296.1 L1235.2,291.3 L1238.2,286.4 L1241.2,281.2 L1244.2,276.0 L1247.2,270.6 L1250.2,265.0 L1253.2,259.4 L1256.2,253.7 L1259.2,247.8 L1262.2,242.0 L1265.2,236.0 L1268.2,230.0 L1271.2,224.0 L1274.2,218.1 L1277.2,212.2 L1280.2,206.3 L1283.2,200.6 L1286.2,195.0 L1289.2,189.7 L1292.2,184.5 L1295.2,179.5 L1298.2,174.9 L1301.2,170.5 L1304.2,166.5 L1307.2,162.8 L1310.2,159.6 L1313.2,156.7 L1316.2,154.3 L1319.2,152.4 L1322.2,151.0 L1325.2,150.0 L1328.2,149.6 L1331.3,149.6 L1334.3,150.1 L1337.3,151.1 L1340.3,152.7 L1343.3,154.8 L1346.3,157.4 L1349.3,160.5 L1352.3,164.0 L1355.3,168.0 L1358.3,172.4 L1361.3,177.2 L1364.3,182.3 L1367.3,187.7 L1370.3,193.4 L1373.3,199.3 L1376.3,205.4 L1379.3,211.7 L1382.3,218.1 L1385.3,224.7 L1388.3,231.3 L1391.3,237.9 L1394.3,244.6 L1397.3,251.2 L1400.3,257.8 L1403.3,264.3 L1406.3,270.7 L1409.3,276.9 L1412.3,283.0 L1415.3,288.9 L1418.3,294.5 L1421.3,300.1 L1424.3,305.4 L1427.3,310.6 L1430.3,315.6 L1433.3,320.5 L1436.3,325.2 L1439.3,329.7 L1442.3,334.2 L1445.3,338.4 L1448.3,342.6 L1451.3,346.6 L1454.3,350.5 L1457.3,354.3 L1460.3,358.0 L1463.3,361.5 L1466.3,365.0 L1469.4,368.4 L1472.4,371.6 L1475.4,374.8 L1478.4,377.8 L1481.4,380.8 L1484.4,383.7 L1487.4,386.5 L1490.4,389.2 L1493.4,391.9 L1496.4,394.4 L1499.4,396.9 L1502.4,399.2 L1505.4,401.5 L1508.4,403.8 L1511.4,405.9 L1514.4,408.0 L1517.4,410.0 L1520.4,411.9 L1523.4,413.8 L1526.4,415.5 L1529.4,417.3 L1532.4,418.9 L1535.4,420.5 L1538.4,422.0 L1541.4,423.5 L1544.4,424.9 L1547.4,426.3 L1550.4,427.5 L1553.4,428.8 L1556.4,430.0 L1559.4,431.1 L1562.4,432.2 L1565.4,433.2 L1568.4,434.2 L1571.4,435.1 L1574.4,436.0 L1577.4,436.9 L1580.4,437.7 L1583.4,438.4 L1586.4,439.2 L1589.4,439.8 L1592.4,440.5 L1595.4,441.1 L1598.4,441.7 L1601.4,442.3 L1604.4,442.8 L1607.5,443.3 L1610.5,443.8 L1613.5,444.2 L1616.5,444.6 L1619.5,445.0 L1622.5,445.4 L1625.5,445.8 L1628.5,446.1 L1631.5,446.5 L1634.5,446.8 L1637.5,447.1 L1640.5,447.4 L1643.5,447.7 L1646.5,447.9 L1649.5,448.2 L1652.5,448.5 L1655.5,448.7 L1658.5,449.0 L1661.5,449.2 L1664.5,449.5 L1667.5,449.7 L1670.5,450.0 L1673.5,450.3 L1676.5,450.5" fill="none" stroke="#FF00FF" stroke-width="6.6" stroke-linejoin="round"/>
<path d="M153.8,398.3 L156.8,398.2 L159.8,398.1 L162.8,398.0 L165.8,398.0 L168.8,397.9 L171.8,397.9 L174.8,397.9 L177.8,397.8 L180.8,397.8 L183.8,397.8 L186.8,397.8 L189.8,397.8 L192.8,397.8 L195.8,397.8 L198.8,397.8 L201.8,397.9 L204.8,397.9 L207.8,397.9 L210.8,397.9 L213.8,398.0 L216.8,398.0 L219.9,398.0 L222.9,398.1 L225.9,398.1 L228.9,398.1 L231.9,398.1 L234.9,398.2 L237.9,398.2 L240.9,398.2 L243.9,398.2 L246.9,398.2 L249.9,398.2 L252.9,398.2 L255.9,398.1 L258.9,398.1 L261.9,398.1 L264.9,398.0 L267.9,398.0 L270.9,397.9 L273.9,397.8 L276.9,397.7 L279.9,397.6 L282.9,397.5 L285.9,397.3 L288.9,397.2 L291.9,397.0 L294.9,396.9 L297.9,396.7 L300.9,396.5 L303.9,396.2 L306.9,396.0 L309.9,395.7 L312.9,395.4 L315.9,395.1 L318.9,394.8 L321.9,394.4 L324.9,394.1 L327.9,393.7 L330.9,393.3 L333.9,392.8 L336.9,392.4 L339.9,391.9 L342.9,391.4 L346.0,390.8 L349.0,390.3 L352.0,389.7 L355.0,389.1 L358.0,388.5 L361.0,387.8 L364.0,387.2 L367.0,386.5 L370.0,385.8 L373.0,385.1 L376.0,384.3 L379.0,383.6 L382.0,382.8 L385.0,382.0 L388.0,381.2 L391.0,380.4 L394.0,379.6 L397.0,378.7 L400.0,377.9 L403.0,377.0 L406.0,376.1 L409.0,375.2 L412.0,374.3 L415.0,373.3 L418.0,372.4 L421.0,371.5 L424.0,370.5 L427.0,369.5 L430.0,368.6 L433.0,367.6 L436.0,366.6 L439.0,365.6 L442.0,364.6 L445.0,363.5 L448.0,362.5 L451.0,361.5 L454.0,360.5 L457.0,359.5 L460.0,358.6 L463.0,357.7 L466.0,356.9 L469.0,356.1 L472.1,355.4 L475.1,354.7 L478.1,354.1 L481.1,353.7 L484.1,353.3 L487.1,353.0 L490.1,352.9 L493.1,352.8 L496.1,352.9 L499.1,353.2 L502.1,353.6 L505.1,354.1 L508.1,354.9 L511.1,355.7 L514.1,356.7 L517.1,357.9 L520.1,359.2 L523.1,360.5 L526.1,362.0 L529.1,363.5 L532.1,365.0 L535.1,366.6 L538.1,368.2 L541.1,369.9 L544.1,371.5 L547.1,373.1 L550.1,374.6 L553.1,376.1 L556.1,377.6 L559.1,378.9 L562.1,380.2 L565.1,381.4 L568.1,382.6 L571.1,383.6 L574.1,384.7 L577.1,385.6 L580.1,386.6 L583.1,387.4 L586.1,388.3 L589.1,389.1 L592.1,389.9 L595.1,390.7 L598.2,391.5 L601.2,392.2 L604.2,392.9 L607.2,393.6 L610.2,394.3 L613.2,395.0 L616.2,395.6 L619.2,396.2 L622.2,396.8 L625.2,397.4 L628.2,398.0 L631.2,398.5 L634.2,399.1 L637.2,399.6 L640.2,400.1 L643.2,400.6 L646.2,401.1 L649.2,401.6 L652.2,402.0 L655.2,402.4 L658.2,402.9 L661.2,403.3 L664.2,403.7 L667.2,404.1 L670.2,404.4 L673.2,404.8 L676.2,405.2 L679.2,405.5 L682.2,405.9 L685.2,406.2 L688.2,406.5 L691.2,406.8 L694.2,407.1 L697.2,407.4 L700.2,407.7 L703.2,408.0 L706.2,408.3 L709.2,408.5 L712.2,408.8 L715.2,409.1 L718.2,409.3 L721.2,409.6 L724.2,409.8 L727.3,410.0 L730.3,410.3 L733.3,410.5 L736.3,410.7 L739.3,411.0 L742.3,411.2 L745.3,411.4 L748.3,411.6 L751.3,411.8 L754.3,412.1 L757.3,412.3 L760.3,412.5 L763.3,412.7 L766.3,412.9 L769.3,413.0 L772.3,413.2 L775.3,413.4 L778.3,413.6 L781.3,413.8 L784.3,414.0 L787.3,414.1 L790.3,414.3 L793.3,414.5 L796.3,414.6 L799.3,414.8 L802.3,415.0 L805.3,415.1 L808.3,415.3 L811.3,415.4 L814.3,415.6 L817.3,415.7 L820.3,415.9 L823.3,416.0 L826.3,416.2 L829.3,416.3 L832.3,416.5 L835.3,416.6 L838.3,416.8 L841.3,416.9 L844.3,417.0 L847.3,417.2 L850.3,417.3 L853.4,417.4 L856.4,417.5 L859.4,417.7 L862.4,417.8 L865.4,417.9 L868.4,418.1 L871.4,418.2 L874.4,418.3 L877.4,418.4 L880.4,418.5 L883.4,418.7 L886.4,418.8 L889.4,418.9 L892.4,419.0 L895.4,419.1 L898.4,419.2 L901.4,419.4 L904.4,419.5 L907.4,419.6 L910.4,419.7 L913.4,419.8 L916.4,419.9 L919.4,420.1 L922.4,420.2 L925.4,420.3 L928.4,420.4 L931.4,420.5 L934.4,420.6 L937.4,420.8 L940.4,420.9 L943.4,421.0 L946.4,421.1 L949.4,421.2 L952.4,421.3 L955.4,421.5 L958.4,421.6 L961.4,421.7 L964.4,421.8 L967.4,422.0 L970.4,422.1 L973.4,422.2 L976.4,422.3 L979.5,422.5 L982.5,422.6 L985.5,422.7 L988.5,422.9 L991.5,423.0 L994.5,423.1 L997.5,423.3 L1000.5,423.4 L1003.5,423.5 L1006.5,423.7 L1009.5,423.8 L1012.5,424.0 L1015.5,424.1 L1018.5,424.3 L1021.5,424.4 L1024.5,424.6 L1027.5,424.7 L1030.5,424.9 L1033.5,425.0 L1036.5,425.2 L1039.5,425.3 L1042.5,425.5 L1045.5,425.7 L1048.5,425.8 L1051.5,426.0 L1054.5,426.2 L1057.5,426.3 L1060.5,426.5 L1063.5,426.7 L1066.5,426.8 L1069.5,427.0 L1072.5,427.2 L1075.5,427.3 L1078.5,427.5 L1081.5,427.7 L1084.5,427.9 L1087.5,428.1 L1090.5,428.2 L1093.5,428.4 L1096.5,428.6 L1099.5,428.8 L1102.5,429.0 L1105.6,429.1 L1108.6,429.3 L1111.6,429.5 L1114.6,429.7 L1117.6,429.9 L1120.6,430.1 L1123.6,430.3 L1126.6,430.5 L1129.6,430.7 L1132.6,430.8 L1135.6,431.0 L1138.6,431.2 L1141.6,431.4 L1144.6,431.6 L1147.6,431.8 L1150.6,432.0 L1153.6,432.2 L1156.6,432.4 L1159.6,432.6 L1162.6,432.8 L1165.6,433.0 L1168.6,433.2 L1171.6,433.4 L1174.6,433.6 L1177.6,433.8 L1180.6,434.0 L1183.6,434.2 L1186.6,434.4 L1189.6,434.6 L1192.6,434.8 L1195.6,435.0 L1198.6,435.2 L1201.6,435.4 L1204.6,435.6 L1207.6,435.8 L1210.6,436.0 L1213.6,436.3 L1216.6,436.5 L1219.6,436.7 L1222.6,436.9 L1225.6,437.1 L1228.6,437.3 L1231.6,437.5 L1234.7,437.7 L1237.7,437.9 L1240.7,438.1 L1243.7,438.3 L1246.7,438.5 L1249.7,438.7 L1252.7,438.9 L1255.7,439.1 L1258.7,439.3 L1261.7,439.5 L1264.7,439.7 L1267.7,439.9 L1270.7,440.2 L1273.7,440.4 L1276.7,440.6 L1279.7,440.8 L1282.7,441.0 L1285.7,441.2 L1288.7,441.4 L1291.7,441.6 L1294.7,441.8 L1297.7,442.0 L1300.7,442.2 L1303.7,442.4 L1306.7,442.6 L1309.7,442.8 L1312.7,443.0 L1315.7,443.2 L1318.7,443.4 L1321.7,443.6 L1324.7,443.8 L1327.7,444.0 L1330.7,444.1 L1333.7,444.3 L1336.7,444.5 L1339.7,444.7 L1342.7,444.9 L1345.7,445.1 L1348.7,445.3 L1351.7,445.5 L1354.7,445.7 L1357.7,445.9 L1360.8,446.1 L1363.8,446.2 L1366.8,446.4 L1369.8,446.6 L1372.8,446.8 L1375.8,447.0 L1378.8,447.2 L1381.8,447.3 L1384.8,447.5 L1387.8,447.7 L1390.8,447.9 L1393.8,448.0 L1396.8,448.2 L1399.8,448.4 L1402.8,448.6 L1405.8,448.7 L1408.8,448.9 L1411.8,449.1 L1414.8,449.2 L1417.8,449.4 L1420.8,449.6 L1423.8,449.7 L1426.8,449.9 L1429.8,450.1 L1432.8,450.2 L1435.8,450.4 L1438.8,450.5 L1441.8,450.7 L1444.8,450.8 L1447.8,451.0 L1450.8,451.1 L1453.8,451.3 L1456.8,451.4 L1459.8,451.6 L1462.8,451.7 L1465.8,451.9 L1468.8,452.0 L1471.8,452.2 L1474.8,452.3 L1477.8,452.4 L1480.8,452.6 L1483.8,452.7 L1486.9,452.8 L1489.9,452.9 L1492.9,453.1 L1495.9,453.2 L1498.9,453.3 L1501.9,453.4 L1504.9,453.6 L1507.9,453.7 L1510.9,453.8 L1513.9,453.9 L1516.9,454.0 L1519.9,454.1 L1522.9,454.2 L1525.9,454.3 L1528.9,454.4 L1531.9,454.5 L1534.9,454.6 L1537.9,454.7 L1540.9,454.8 L1543.9,454.9 L1546.9,455.0 L1549.9,455.1 L1552.9,455.2 L1555.9,455.3 L1558.9,455.3 L1561.9,455.4 L1564.9,455.5 L1567.9,455.6 L1570.9,455.6 L1573.9,455.7 L1576.9,455.8 L1579.9,455.8 L1582.9,455.9 L1585.9,456.0 L1588.9,456.0 L1591.9,456.1 L1594.9,456.1 L1597.9,456.2 L1600.9,456.2 L1603.9,456.3 L1606.9,456.3 L1609.9,456.3 L1613.0,456.4 L1616.0,456.4 L1619.0,456.4 L1622.0,456.5 L1625.0,456.5 L1628.0,456.5 L1631.0,456.5 L1634.0,456.5 L1637.0,456.6 L1640.0,456.6 L1643.0,456.6 L1646.0,456.6 L1649.0,456.6 L1652.0,456.6 L1655.0,456.6 L1658.0,456.6 L1661.0,456.6 L1664.0,456.5 L1667.0,456.5 L1670.0,456.5 L1673.0,456.5 L1676.0,456.4" fill="none" stroke="#8000FF" stroke-width="6.6" stroke-linejoin="round"/>
<path d="M136.0,828.0 L148.4,819.6 L170.0,855.0 L179.0,860.7 L190.0,843.0 L207.0,840.0 L219.0,824.0 L230.0,861.0 L251.0,821.4 L273.0,835.6 L300.0,835.6 L313.0,831.0 L326.0,837.0 L343.0,823.5 L362.0,852.0 L378.0,853.7 L385.0,819.0 L397.0,816.0 L413.0,837.7 L417.0,850.7 L435.0,816.0 L447.0,834.0 L460.0,825.0 L470.0,829.5 L476.0,854.6 L486.8,830.2 L497.0,831.4 L508.3,804.2 L519.7,804.2 L528.7,825.7 L538.9,816.7 L548.0,813.3 L559.3,801.9 L569.5,813.3 L589.9,798.5 L600.1,812.1 L611.4,807.6 L620.5,781.5 L629.6,788.3 L652.2,775.9 L661.3,792.9 L670.3,771.3 L683.9,762.3 L693.0,770.2 L704.5,740.5 L713.6,731.4 L722.7,704.2 L734.0,695.2 L743.1,685.0 L753.3,702.0 L765.7,677.0 L774.8,660.0 L786.1,656.7 L795.2,652.1 L806.5,649.9 L816.7,624.9 L825.8,638.5 L837.1,624.9 L847.3,640.8 L856.4,666.8 L867.7,670.2 L879.0,695.2 L888.1,723.5 L908.5,725.8 L917.5,772.2 L928.9,756.4 L940.2,781.3 L960.6,817.5 L969.7,839.1 L981.0,840.2 L991.3,832.7 L1014.0,847.4 L1032.1,827.0 L1043.4,828.1 L1059.3,849.7 L1072.9,856.5 L1083.1,825.9 L1091.0,856.5 L1102.4,840.6 L1113.7,831.5 L1134.1,836.1 L1154.5,829.3 L1177.1,816.8 L1206.6,773.7 L1224.7,768.1 L1236.1,750.0 L1247.4,729.6 L1257.6,692.2 L1267.5,704.6 L1276.6,684.6 L1289.9,659.7 L1299.9,643.1 L1308.2,619.8 L1319.0,614.8 L1329.8,643.9 L1338.1,608.2 L1350.6,586.6 L1361.4,599.9 L1371.3,609.9 L1381.3,587.4 L1392.9,599.9 L1401.2,621.5 L1412.9,651.4 L1424.5,666.3 L1434.5,689.6 L1442.0,716.2 L1454.4,724.5 L1462.7,759.4 L1469.4,777.7 L1477.1,797.0 L1481.1,822.5 L1490.9,838.2 L1504.6,851.9 L1514.4,877.5 L1524.3,902.0 L1536.0,889.3 L1555.7,910.9 L1575.3,922.6 L1587.1,915.8 L1596.9,923.6 L1607.7,909.9 L1616.6,929.5 L1628.3,930.5 L1638.2,914.8 L1648.0,932.5 L1659.8,923.6 L1668.6,960.0 L1675.0,963.9" fill="none" stroke="#000000" stroke-width="6.5" stroke-linejoin="miter" stroke-miterlimit="3"/>
<path d="M266.0,846.2 L269.0,845.9 L272.0,845.7 L275.0,845.5 L278.0,845.3 L281.0,845.1 L284.0,845.0 L287.0,844.8 L290.0,844.7 L293.0,844.5 L296.0,844.4 L299.0,844.3 L302.1,844.2 L305.1,844.1 L308.1,844.1 L311.1,844.0 L314.1,843.9 L317.1,843.9 L320.1,843.8 L323.1,843.8 L326.1,843.8 L329.1,843.8 L332.1,843.7 L335.1,843.7 L338.1,843.7 L341.1,843.7 L344.1,843.7 L347.1,843.7 L350.1,843.7 L353.1,843.7 L356.1,843.7 L359.1,843.7 L362.1,843.7 L365.1,843.7 L368.1,843.7 L371.2,843.7 L374.2,843.7 L377.2,843.6 L380.2,843.6 L383.2,843.6 L386.2,843.6 L389.2,843.6 L392.2,843.5 L395.2,843.5 L398.2,843.4 L401.2,843.4 L404.2,843.3 L407.2,843.2 L410.2,843.1 L413.2,843.0 L416.2,842.9 L419.2,842.8 L422.2,842.7 L425.2,842.5 L428.2,842.4 L431.2,842.2 L434.2,842.0 L437.3,841.8 L440.3,841.6 L443.3,841.4 L446.3,841.2 L449.3,840.9 L452.3,840.6 L455.3,840.3 L458.3,840.0 L461.3,839.7 L464.3,839.3 L467.3,839.0 L470.3,838.6 L473.3,838.1 L476.3,837.7 L479.3,837.3 L482.3,836.8 L485.3,836.3 L488.3,835.7 L491.3,835.2 L494.3,834.6 L497.3,834.0 L500.3,833.4 L503.3,832.7 L506.4,832.0 L509.4,831.3 L512.4,830.6 L515.4,829.8 L518.4,829.0 L521.4,828.2 L524.4,827.3 L527.4,826.5 L530.4,825.5 L533.4,824.6 L536.4,823.6 L539.4,822.6 L542.4,821.6 L545.4,820.6 L548.4,819.5 L551.4,818.4 L554.4,817.4 L557.4,816.3 L560.4,815.1 L563.4,814.0 L566.4,812.9 L569.4,811.8 L572.4,810.7 L575.5,809.5 L578.5,808.4 L581.5,807.3 L584.5,806.2 L587.5,805.1 L590.5,804.0 L593.5,802.9 L596.5,801.8 L599.5,800.7 L602.5,799.7 L605.5,798.7 L608.5,797.7 L611.5,796.7 L614.5,795.8 L617.5,794.9 L620.5,794.0 L623.5,793.1 L626.5,792.2 L629.5,791.4 L632.5,790.6 L635.5,789.8 L638.5,788.9 L641.6,788.1 L644.6,787.3 L647.6,786.4 L650.6,785.6 L653.6,784.7 L656.6,783.8 L659.6,782.8 L662.6,781.8 L665.6,780.8 L668.6,779.7 L671.6,778.6 L674.6,777.4 L677.6,776.2 L680.6,774.9 L683.6,773.5 L686.6,772.0 L689.6,770.5 L692.6,768.9 L695.6,767.1 L698.6,765.3 L701.6,763.3 L704.6,761.2 L707.6,759.0 L710.7,756.7 L713.7,754.3 L716.7,751.7 L719.7,748.9 L722.7,746.0 L725.7,743.0 L728.7,739.8 L731.7,736.5 L734.7,733.0 L737.7,729.4 L740.7,725.7 L743.7,721.9 L746.7,718.0 L749.7,714.0 L752.7,709.9 L755.7,705.8 L758.7,701.6 L761.7,697.3 L764.7,693.0 L767.7,688.7 L770.7,684.3 L773.7,679.9 L776.7,675.5 L779.8,671.2 L782.8,667.0 L785.8,662.9 L788.8,658.9 L791.8,655.0 L794.8,651.4 L797.8,648.0 L800.8,644.8 L803.8,641.9 L806.8,639.3 L809.8,637.0 L812.8,635.0 L815.8,633.5 L818.8,632.4 L821.8,631.7 L824.8,631.4 L827.8,631.7 L830.8,632.4 L833.8,633.6 L836.8,635.2 L839.8,637.3 L842.8,639.7 L845.9,642.6 L848.9,645.7 L851.9,649.2 L854.9,653.0 L857.9,657.1 L860.9,661.4 L863.9,665.9 L866.9,670.6 L869.9,675.6 L872.9,680.7 L875.9,685.9 L878.9,691.2 L881.9,696.6 L884.9,702.1 L887.9,707.6 L890.9,713.2 L893.9,718.7 L896.9,724.2 L899.9,729.7 L902.9,735.1 L905.9,740.4 L908.9,745.6 L911.9,750.6 L915.0,755.4 L918.0,760.1 L921.0,764.6 L924.0,768.9 L927.0,773.0 L930.0,776.9 L933.0,780.7 L936.0,784.3 L939.0,787.7 L942.0,791.0 L945.0,794.1 L948.0,797.0 L951.0,799.9 L954.0,802.6 L957.0,805.1 L960.0,807.5 L963.0,809.8 L966.0,812.0 L969.0,814.1 L972.0,816.0 L975.0,817.8 L978.0,819.6 L981.0,821.2 L984.1,822.8 L987.1,824.2 L990.1,825.6 L993.1,826.9 L996.1,828.1 L999.1,829.2 L1002.1,830.2 L1005.1,831.1 L1008.1,832.0 L1011.1,832.7 L1014.1,833.4 L1017.1,834.1 L1020.1,834.6 L1023.1,835.0 L1026.1,835.4 L1029.1,835.7 L1032.1,836.0 L1035.1,836.1 L1038.1,836.2 L1041.1,836.2 L1044.1,836.1 L1047.1,836.0 L1050.1,835.8 L1053.2,835.5 L1056.2,835.2 L1059.2,834.8 L1062.2,834.3 L1065.2,833.8 L1068.2,833.2 L1071.2,832.5 L1074.2,831.8 L1077.2,831.0 L1080.2,830.2 L1083.2,829.3 L1086.2,828.3 L1089.2,827.3 L1092.2,826.2 L1095.2,825.1 L1098.2,823.9 L1101.2,822.7 L1104.2,821.4 L1107.2,820.1 L1110.2,818.7 L1113.2,817.2 L1116.2,815.8 L1119.3,814.2 L1122.3,812.7 L1125.3,811.1 L1128.3,809.5 L1131.3,807.8 L1134.3,806.2 L1137.3,804.6 L1140.3,802.9 L1143.3,801.3 L1146.3,799.8 L1149.3,798.2 L1152.3,796.7 L1155.3,795.3 L1158.3,793.9 L1161.3,792.6 L1164.3,791.3 L1167.3,790.2 L1170.3,789.1 L1173.3,788.0 L1176.3,787.0 L1179.3,786.0 L1182.3,785.0 L1185.3,784.1 L1188.4,783.1 L1191.4,782.1 L1194.4,781.2 L1197.4,780.2 L1200.4,779.1 L1203.4,778.0 L1206.4,776.9 L1209.4,775.7 L1212.4,774.4 L1215.4,773.1 L1218.4,771.6 L1221.4,770.1 L1224.4,768.5 L1227.4,766.8 L1230.4,764.9 L1233.4,763.0 L1236.4,760.9 L1239.4,758.7 L1242.4,756.4 L1245.4,753.9 L1248.4,751.2 L1251.4,748.4 L1254.4,745.5 L1257.5,742.4 L1260.5,739.1 L1263.5,735.6 L1266.5,731.9 L1269.5,728.1 L1272.5,724.1 L1275.5,719.9 L1278.5,715.6 L1281.5,711.1 L1284.5,706.5 L1287.5,701.8 L1290.5,696.9 L1293.5,692.0 L1296.5,686.9 L1299.5,681.6 L1302.5,676.3 L1305.5,670.9 L1308.5,665.4 L1311.5,659.8 L1314.5,654.1 L1317.5,648.4 L1320.5,642.8 L1323.6,637.2 L1326.6,631.7 L1329.6,626.4 L1332.6,621.3 L1335.6,616.5 L1338.6,612.0 L1341.6,607.8 L1344.6,603.9 L1347.6,600.6 L1350.6,597.6 L1353.6,595.3 L1356.6,593.4 L1359.6,592.2 L1362.6,591.7 L1365.6,591.7 L1368.6,592.4 L1371.6,593.6 L1374.6,595.4 L1377.6,597.8 L1380.6,600.6 L1383.6,603.9 L1386.6,607.6 L1389.6,611.7 L1392.7,616.3 L1395.7,621.2 L1398.7,626.4 L1401.7,632.0 L1404.7,637.8 L1407.7,643.9 L1410.7,650.2 L1413.7,656.8 L1416.7,663.5 L1419.7,670.3 L1422.7,677.3 L1425.7,684.4 L1428.7,691.5 L1431.7,698.7 L1434.7,705.9 L1437.7,713.1 L1440.7,720.3 L1443.7,727.4 L1446.7,734.4 L1449.7,741.3 L1452.7,748.0 L1455.7,754.6 L1458.7,761.0 L1461.8,767.1 L1464.8,773.1 L1467.8,778.7 L1470.8,784.2 L1473.8,789.4 L1476.8,794.5 L1479.8,799.3 L1482.8,803.9 L1485.8,808.3 L1488.8,812.5 L1491.8,816.6 L1494.8,820.5 L1497.8,824.2 L1500.8,827.7 L1503.8,831.1 L1506.8,834.4 L1509.8,837.5 L1512.8,840.4 L1515.8,843.3 L1518.8,846.0 L1521.8,848.6 L1524.8,851.2 L1527.9,853.6 L1530.9,855.9 L1533.9,858.1 L1536.9,860.3 L1539.9,862.4 L1542.9,864.4 L1545.9,866.3 L1548.9,868.2 L1551.9,870.1 L1554.9,871.9 L1557.9,873.6 L1560.9,875.4 L1563.9,877.0 L1566.9,878.7 L1569.9,880.3 L1572.9,881.8 L1575.9,883.4 L1578.9,884.9 L1581.9,886.4 L1584.9,887.8 L1587.9,889.2 L1590.9,890.6 L1593.9,892.0 L1597.0,893.4 L1600.0,894.7 L1603.0,896.1 L1606.0,897.4 L1609.0,898.7 L1612.0,900.0 L1615.0,901.3 L1618.0,902.6 L1621.0,904.0 L1624.0,905.3 L1627.0,906.6 L1630.0,907.9" fill="none" stroke="#FF0000" stroke-width="6.6" stroke-linejoin="round"/>
<path d="M300.0,846.3 L303.0,846.2 L306.0,846.2 L309.0,846.1 L312.0,846.1 L315.0,846.0 L318.0,846.0 L321.0,845.9 L324.0,845.9 L327.0,845.9 L330.0,845.8 L333.0,845.8 L336.0,845.8 L339.0,845.8 L342.0,845.8 L345.0,845.8 L348.0,845.8 L351.0,845.8 L354.1,845.8 L357.1,845.8 L360.1,845.8 L363.1,845.8 L366.1,845.8 L369.1,845.8 L372.1,845.8 L375.1,845.9 L378.1,845.9 L381.1,845.9 L384.1,845.9 L387.1,845.9 L390.1,845.9 L393.1,846.0 L396.1,846.0 L399.1,846.0 L402.1,846.0 L405.1,846.0 L408.1,846.0 L411.1,846.0 L414.1,846.0 L417.1,846.0 L420.1,846.1 L423.1,846.1 L426.1,846.0 L429.1,846.0 L432.1,846.0 L435.1,846.0 L438.1,846.0 L441.1,846.0 L444.1,845.9 L447.1,845.9 L450.1,845.9 L453.1,845.8 L456.2,845.8 L459.2,845.7 L462.2,845.7 L465.2,845.6 L468.2,845.5 L471.2,845.5 L474.2,845.4 L477.2,845.3 L480.2,845.2 L483.2,845.1 L486.2,845.0 L489.2,844.8 L492.2,844.7 L495.2,844.6 L498.2,844.4 L501.2,844.3 L504.2,844.1 L507.2,843.9 L510.2,843.7 L513.2,843.6 L516.2,843.3 L519.2,843.1 L522.2,842.9 L525.2,842.7 L528.2,842.4 L531.2,842.2 L534.2,841.9 L537.2,841.6 L540.2,841.3 L543.2,841.0 L546.2,840.7 L549.2,840.3 L552.2,840.0 L555.2,839.6 L558.3,839.3 L561.3,838.9 L564.3,838.5 L567.3,838.1 L570.3,837.6 L573.3,837.2 L576.3,836.7 L579.3,836.3 L582.3,835.8 L585.3,835.3 L588.3,834.7 L591.3,834.2 L594.3,833.6 L597.3,833.1 L600.3,832.5 L603.3,831.9 L606.3,831.3 L609.3,830.6 L612.3,830.0 L615.3,829.3 L618.3,828.6 L621.3,827.9 L624.3,827.1 L627.3,826.4 L630.3,825.6 L633.3,824.8 L636.3,824.0 L639.3,823.2 L642.3,822.4 L645.3,821.5 L648.3,820.6 L651.3,819.6 L654.3,818.6 L657.3,817.5 L660.4,816.4 L663.4,815.2 L666.4,813.9 L669.4,812.5 L672.4,811.0 L675.4,809.4 L678.4,807.7 L681.4,805.9 L684.4,803.9 L687.4,801.9 L690.4,799.6 L693.4,797.3 L696.4,794.8 L699.4,792.1 L702.4,789.3 L705.4,786.4 L708.4,783.3 L711.4,780.0 L714.4,776.5 L717.4,772.9 L720.4,769.2 L723.4,765.2 L726.4,761.1 L729.4,756.8 L732.4,752.4 L735.4,747.8 L738.4,743.2 L741.4,738.4 L744.4,733.6 L747.4,728.7 L750.4,723.8 L753.4,718.9 L756.4,713.9 L759.4,709.0 L762.5,704.1 L765.5,699.3 L768.5,694.5 L771.5,689.8 L774.5,685.1 L777.5,680.6 L780.5,676.2 L783.5,672.0 L786.5,667.9 L789.5,664.0 L792.5,660.4 L795.5,656.9 L798.5,653.6 L801.5,650.6 L804.5,647.9 L807.5,645.4 L810.5,643.2 L813.5,641.4 L816.5,639.9 L819.5,638.7 L822.5,637.9 L825.5,637.4 L828.5,637.4 L831.5,637.7 L834.5,638.5 L837.5,639.7 L840.5,641.4 L843.5,643.5 L846.5,646.1 L849.5,649.2 L852.5,652.8 L855.5,656.8 L858.5,661.2 L861.5,666.0 L864.6,671.0 L867.6,676.3 L870.6,681.8 L873.6,687.5 L876.6,693.3 L879.6,699.1 L882.6,705.0 L885.6,710.9 L888.6,716.8 L891.6,722.5 L894.6,728.1 L897.6,733.6 L900.6,738.9 L903.6,744.1 L906.6,749.1 L909.6,754.0 L912.6,758.7 L915.6,763.3 L918.6,767.8 L921.6,772.2 L924.6,776.4 L927.6,780.4 L930.6,784.4 L933.6,788.2 L936.6,791.9 L939.6,795.5 L942.6,799.0 L945.6,802.3 L948.6,805.6 L951.6,808.7 L954.6,811.8 L957.6,814.7 L960.6,817.5 L963.6,820.2 L966.7,822.9 L969.7,825.4 L972.7,827.8 L975.7,830.2 L978.7,832.4 L981.7,834.6 L984.7,836.7 L987.7,838.7 L990.7,840.6 L993.7,842.4 L996.7,844.2 L999.7,845.9 L1002.7,847.6 L1005.7,849.1 L1008.7,850.6 L1011.7,852.1 L1014.7,853.4 L1017.7,854.7 L1020.7,856.0 L1023.7,857.2 L1026.7,858.4 L1029.7,859.5 L1032.7,860.5 L1035.7,861.5 L1038.7,862.5 L1041.7,863.4 L1044.7,864.3 L1047.7,865.1 L1050.7,865.9 L1053.7,866.7 L1056.7,867.4 L1059.7,868.1 L1062.7,868.8 L1065.7,869.5 L1068.8,870.1 L1071.8,870.7 L1074.8,871.3 L1077.8,871.8 L1080.8,872.3 L1083.8,872.9 L1086.8,873.4 L1089.8,873.9 L1092.8,874.4 L1095.8,874.8 L1098.8,875.3 L1101.8,875.8 L1104.8,876.2 L1107.8,876.7 L1110.8,877.1 L1113.8,877.5 L1116.8,878.0 L1119.8,878.4 L1122.8,878.8 L1125.8,879.2 L1128.8,879.6 L1131.8,880.0 L1134.8,880.4 L1137.8,880.8 L1140.8,881.2 L1143.8,881.6 L1146.8,882.0 L1149.8,882.3 L1152.8,882.7 L1155.8,883.1 L1158.8,883.4 L1161.8,883.8 L1164.8,884.2 L1167.8,884.5 L1170.9,884.9 L1173.9,885.2 L1176.9,885.6 L1179.9,885.9 L1182.9,886.3 L1185.9,886.6 L1188.9,887.0 L1191.9,887.3 L1194.9,887.7 L1197.9,888.0 L1200.9,888.4 L1203.9,888.7 L1206.9,889.1 L1209.9,889.4 L1212.9,889.8 L1215.9,890.1 L1218.9,890.5 L1221.9,890.8 L1224.9,891.2 L1227.9,891.5 L1230.9,891.9 L1233.9,892.3 L1236.9,892.6 L1239.9,893.0 L1242.9,893.4 L1245.9,893.7 L1248.9,894.1 L1251.9,894.5 L1254.9,894.9 L1257.9,895.3 L1260.9,895.7 L1263.9,896.1 L1266.9,896.5 L1269.9,896.9 L1273.0,897.3 L1276.0,897.7 L1279.0,898.2 L1282.0,898.6 L1285.0,899.0 L1288.0,899.5 L1291.0,899.9 L1294.0,900.3 L1297.0,900.8 L1300.0,901.2 L1303.0,901.7 L1306.0,902.1 L1309.0,902.6 L1312.0,903.0 L1315.0,903.5 L1318.0,904.0 L1321.0,904.4 L1324.0,904.9 L1327.0,905.4 L1330.0,905.8 L1333.0,906.3 L1336.0,906.8 L1339.0,907.2 L1342.0,907.7 L1345.0,908.2 L1348.0,908.6 L1351.0,909.1 L1354.0,909.6 L1357.0,910.1 L1360.0,910.5 L1363.0,911.0 L1366.0,911.5 L1369.0,911.9 L1372.0,912.4 L1375.1,912.9 L1378.1,913.3 L1381.1,913.8 L1384.1,914.3 L1387.1,914.7 L1390.1,915.2 L1393.1,915.7 L1396.1,916.1 L1399.1,916.6 L1402.1,917.0 L1405.1,917.5 L1408.1,917.9 L1411.1,918.4 L1414.1,918.8 L1417.1,919.2 L1420.1,919.7 L1423.1,920.1 L1426.1,920.5 L1429.1,921.0 L1432.1,921.4 L1435.1,921.8 L1438.1,922.2 L1441.1,922.6 L1444.1,923.0 L1447.1,923.4 L1450.1,923.8 L1453.1,924.2 L1456.1,924.6 L1459.1,925.0 L1462.1,925.4 L1465.1,925.7 L1468.1,926.1 L1471.1,926.4 L1474.1,926.8 L1477.2,927.1 L1480.2,927.5 L1483.2,927.8 L1486.2,928.1 L1489.2,928.5 L1492.2,928.8 L1495.2,929.1 L1498.2,929.4 L1501.2,929.7 L1504.2,930.0 L1507.2,930.2 L1510.2,930.5 L1513.2,930.8 L1516.2,931.0 L1519.2,931.3 L1522.2,931.5 L1525.2,931.7 L1528.2,931.9 L1531.2,932.1 L1534.2,932.3 L1537.2,932.5 L1540.2,932.7 L1543.2,932.9 L1546.2,933.1 L1549.2,933.2 L1552.2,933.4 L1555.2,933.5 L1558.2,933.6 L1561.2,933.7 L1564.2,933.8 L1567.2,933.9 L1570.2,934.0 L1573.2,934.1 L1576.2,934.1 L1579.3,934.2 L1582.3,934.2 L1585.3,934.2 L1588.3,934.3 L1591.3,934.3 L1594.3,934.2 L1597.3,934.2 L1600.3,934.2 L1603.3,934.1 L1606.3,934.1 L1609.3,934.0 L1612.3,933.9 L1615.3,933.8 L1618.3,933.7 L1621.3,933.6 L1624.3,933.4 L1627.3,933.3 L1630.3,933.1" fill="none" stroke="#008080" stroke-width="6.6" stroke-linejoin="round"/>
<path d="M700.0,855.9 L703.0,856.2 L706.0,856.4 L709.0,856.7 L712.0,857.0 L715.0,857.3 L718.0,857.6 L721.0,857.9 L724.0,858.2 L727.0,858.5 L730.0,858.8 L733.0,859.1 L736.0,859.4 L739.0,859.7 L742.0,860.0 L745.0,860.3 L748.0,860.6 L751.0,860.9 L754.0,861.2 L757.0,861.5 L760.0,861.8 L763.0,862.1 L766.0,862.4 L769.0,862.7 L772.0,863.0 L775.0,863.3 L778.0,863.6 L781.0,863.9 L784.0,864.2 L787.0,864.5 L790.0,864.8 L793.0,865.1 L796.0,865.3 L799.0,865.6 L802.0,865.9 L805.0,866.2 L808.0,866.5 L811.0,866.8 L814.0,867.0 L817.0,867.3 L820.0,867.6 L823.0,867.9 L826.0,868.1 L829.0,868.4 L832.0,868.6 L835.0,868.9 L838.0,869.2 L841.0,869.4 L844.0,869.7 L847.0,869.9 L850.0,870.1 L853.0,870.4 L856.0,870.6 L859.0,870.8 L862.0,871.0 L865.0,871.2 L868.0,871.4 L871.0,871.6 L874.0,871.8 L877.0,872.0 L880.0,872.2 L883.0,872.4 L886.0,872.6 L889.0,872.7 L892.0,872.9 L895.0,873.1 L898.0,873.2 L901.0,873.4 L904.0,873.5 L907.0,873.6 L910.0,873.7 L913.0,873.9 L916.0,874.0 L919.0,874.1 L922.0,874.1 L925.0,874.2 L928.0,874.3 L931.0,874.4 L934.0,874.4 L937.0,874.5 L940.0,874.5 L943.0,874.6 L946.0,874.6 L949.0,874.6 L952.0,874.6 L955.0,874.6 L958.0,874.6 L961.0,874.6 L964.0,874.5 L967.0,874.5 L970.0,874.5 L973.0,874.4 L976.0,874.3 L979.0,874.2 L982.0,874.2 L985.0,874.1 L988.0,873.9 L991.0,873.8 L994.0,873.7 L997.0,873.5 L1000.0,873.4 L1003.0,873.2 L1006.0,873.0 L1009.0,872.8 L1012.0,872.6 L1015.0,872.4 L1018.0,872.2 L1021.0,871.9 L1024.0,871.7 L1027.0,871.4 L1030.0,871.1 L1033.0,870.9 L1036.0,870.6 L1039.0,870.2 L1042.0,869.9 L1045.0,869.6 L1048.0,869.2 L1051.0,868.8 L1054.0,868.4 L1057.0,868.0 L1060.0,867.6 L1063.0,867.2 L1066.0,866.7 L1069.0,866.3 L1072.0,865.8 L1075.0,865.3 L1078.0,864.8 L1081.0,864.2 L1084.0,863.6 L1087.0,863.1 L1090.0,862.4 L1093.0,861.8 L1096.0,861.2 L1099.0,860.5 L1102.0,859.8 L1105.0,859.0 L1108.0,858.3 L1111.0,857.5 L1114.0,856.7 L1117.0,855.8 L1120.0,854.9 L1123.0,854.0 L1126.0,853.1 L1129.0,852.1 L1132.0,851.1 L1135.0,850.1 L1138.0,849.1 L1141.0,848.0 L1144.0,846.8 L1147.0,845.7 L1150.0,844.5 L1153.0,843.2 L1156.0,842.0 L1159.0,840.6 L1162.0,839.3 L1165.0,837.9 L1168.0,836.5 L1171.0,835.0 L1174.0,833.5 L1177.0,831.9 L1180.0,830.3 L1183.0,828.7 L1186.0,827.0 L1189.0,825.2 L1192.0,823.4 L1195.0,821.5 L1198.0,819.5 L1201.0,817.5 L1204.0,815.4 L1207.0,813.2 L1210.0,810.9 L1213.0,808.6 L1216.0,806.1 L1219.0,803.6 L1222.0,800.9 L1225.0,798.2 L1228.0,795.3 L1231.0,792.4 L1234.0,789.3 L1237.0,786.2 L1240.0,783.0 L1243.0,779.8 L1246.0,776.5 L1249.0,773.2 L1252.0,770.0 L1255.0,766.7 L1258.0,763.4 L1261.0,759.7 L1264.0,755.8 L1267.0,751.6 L1270.0,747.0 L1273.0,742.2 L1276.0,737.2 L1279.0,732.0 L1282.0,726.5 L1285.0,720.9 L1288.0,715.1 L1291.0,709.1 L1294.0,703.1 L1297.0,696.9 L1300.0,690.7 L1303.0,684.4 L1306.0,678.1 L1309.0,671.8 L1312.0,665.5 L1315.0,659.2 L1318.0,653.0 L1321.0,647.0 L1324.0,641.1 L1327.0,635.5 L1330.0,630.1 L1333.0,625.1 L1336.0,620.4 L1339.0,616.1 L1342.0,612.2 L1345.0,608.8 L1348.0,606.0 L1351.0,603.6 L1354.0,601.7 L1357.0,600.4 L1360.0,599.6 L1363.0,599.2 L1366.0,599.4 L1369.0,600.1 L1372.0,601.3 L1375.0,603.1 L1378.0,605.3 L1381.0,608.1 L1384.0,611.3 L1387.0,614.9 L1390.0,619.0 L1393.0,623.5 L1396.0,628.3 L1399.0,633.5 L1402.0,638.9 L1405.0,644.7 L1408.0,650.6 L1411.0,656.8 L1414.0,663.2 L1417.0,669.7 L1420.0,676.4 L1423.0,683.1 L1426.0,690.0 L1429.0,696.9 L1432.0,703.8 L1435.0,710.7 L1438.0,717.5 L1441.0,724.3 L1444.0,731.0 L1447.0,737.5 L1450.0,743.9 L1453.0,750.2 L1456.0,756.3 L1459.0,762.3 L1462.0,768.2 L1465.0,773.8 L1468.0,779.3 L1471.0,784.6 L1474.0,789.8 L1477.0,794.7 L1480.0,799.5 L1483.0,804.1 L1486.0,808.4 L1489.0,812.6 L1492.0,816.7 L1495.0,820.5 L1498.0,824.2 L1501.0,827.8 L1504.0,831.2 L1507.0,834.4 L1510.0,837.5 L1513.0,840.5 L1516.0,843.4 L1519.0,846.2 L1522.0,848.8 L1525.0,851.3 L1528.0,853.8 L1531.0,856.1 L1534.0,858.4 L1537.0,860.6 L1540.0,862.7 L1543.0,864.7 L1546.0,866.7 L1549.0,868.6 L1552.0,870.5 L1555.0,872.3 L1558.0,874.1 L1561.0,875.8 L1564.0,877.5 L1567.0,879.1 L1570.0,880.7 L1573.0,882.3 L1576.0,883.8 L1579.0,885.3 L1582.0,886.8 L1585.0,888.2 L1588.0,889.7 L1591.0,891.1 L1594.0,892.4 L1597.0,893.8 L1600.0,895.1 L1603.0,896.4 L1606.0,897.7 L1609.0,899.1 L1612.0,900.3 L1615.0,901.6 L1618.0,902.9 L1621.0,904.2 L1624.0,905.5 L1627.0,906.8 L1630.0,908.1" fill="none" stroke="#FF00FF" stroke-width="6.6" stroke-linejoin="round"/>
<path d="M300.0,847.4 L303.0,847.6 L306.0,847.7 L309.0,847.8 L312.0,847.9 L315.0,848.0 L318.0,848.1 L321.0,848.2 L324.1,848.3 L327.1,848.3 L330.1,848.4 L333.1,848.5 L336.1,848.5 L339.1,848.6 L342.1,848.7 L345.1,848.7 L348.1,848.8 L351.1,848.8 L354.1,848.8 L357.1,848.9 L360.1,848.9 L363.1,848.9 L366.1,849.0 L369.2,849.0 L372.2,849.0 L375.2,849.0 L378.2,849.0 L381.2,849.0 L384.2,849.1 L387.2,849.1 L390.2,849.1 L393.2,849.1 L396.2,849.1 L399.2,849.1 L402.2,849.0 L405.2,849.0 L408.2,849.0 L411.3,849.0 L414.3,849.0 L417.3,849.0 L420.3,849.0 L423.3,849.0 L426.3,848.9 L429.3,848.9 L432.3,848.9 L435.3,848.9 L438.3,848.8 L441.3,848.8 L444.3,848.8 L447.3,848.8 L450.3,848.7 L453.3,848.7 L456.4,848.7 L459.4,848.7 L462.4,848.6 L465.4,848.6 L468.4,848.6 L471.4,848.6 L474.4,848.5 L477.4,848.5 L480.4,848.5 L483.4,848.5 L486.4,848.4 L489.4,848.4 L492.4,848.4 L495.4,848.4 L498.4,848.4 L501.5,848.4 L504.5,848.3 L507.5,848.3 L510.5,848.3 L513.5,848.3 L516.5,848.3 L519.5,848.3 L522.5,848.3 L525.5,848.3 L528.5,848.3 L531.5,848.3 L534.5,848.3 L537.5,848.3 L540.5,848.4 L543.5,848.4 L546.6,848.4 L549.6,848.4 L552.6,848.4 L555.6,848.5 L558.6,848.5 L561.6,848.5 L564.6,848.6 L567.6,848.6 L570.6,848.7 L573.6,848.7 L576.6,848.8 L579.6,848.9 L582.6,848.9 L585.6,849.0 L588.7,849.1 L591.7,849.2 L594.7,849.2 L597.7,849.3 L600.7,849.4 L603.7,849.5 L606.7,849.6 L609.7,849.8 L612.7,849.9 L615.7,850.0 L618.7,850.1 L621.7,850.3 L624.7,850.4 L627.7,850.5 L630.7,850.7 L633.8,850.9 L636.8,851.0 L639.8,851.2 L642.8,851.4 L645.8,851.6 L648.8,851.8 L651.8,852.0 L654.8,852.2 L657.8,852.4 L660.8,852.6 L663.8,852.8 L666.8,853.1 L669.8,853.3 L672.8,853.6 L675.8,853.8 L678.9,854.1 L681.9,854.4 L684.9,854.6 L687.9,854.9 L690.9,855.2 L693.9,855.5 L696.9,855.8 L699.9,856.1 L702.9,856.4 L705.9,856.7 L708.9,857.0 L711.9,857.3 L714.9,857.7 L717.9,858.0 L720.9,858.3 L724.0,858.7 L727.0,859.0 L730.0,859.3 L733.0,859.7 L736.0,860.0 L739.0,860.4 L742.0,860.7 L745.0,861.1 L748.0,861.4 L751.0,861.8 L754.0,862.1 L757.0,862.5 L760.0,862.8 L763.0,863.2 L766.1,863.5 L769.1,863.9 L772.1,864.2 L775.1,864.6 L778.1,864.9 L781.1,865.3 L784.1,865.6 L787.1,866.0 L790.1,866.3 L793.1,866.7 L796.1,867.0 L799.1,867.4 L802.1,867.7 L805.1,868.0 L808.1,868.4 L811.2,868.7 L814.2,869.0 L817.2,869.3 L820.2,869.6 L823.2,870.0 L826.2,870.3 L829.2,870.6 L832.2,870.9 L835.2,871.2 L838.2,871.5 L841.2,871.7 L844.2,872.0 L847.2,872.3 L850.2,872.6 L853.2,872.8 L856.3,873.1 L859.3,873.3 L862.3,873.6 L865.3,873.8 L868.3,874.0 L871.3,874.2 L874.3,874.5 L877.3,874.7 L880.3,874.9 L883.3,875.0 L886.3,875.2 L889.3,875.4 L892.3,875.5 L895.3,875.7 L898.4,875.8 L901.4,876.0 L904.4,876.1 L907.4,876.2 L910.4,876.3 L913.4,876.4 L916.4,876.5 L919.4,876.5 L922.4,876.6 L925.4,876.6 L928.4,876.6 L931.4,876.6 L934.4,876.6 L937.4,876.6 L940.4,876.6 L943.5,876.5 L946.5,876.5 L949.5,876.4 L952.5,876.3 L955.5,876.2 L958.5,876.1 L961.5,875.9 L964.5,875.7 L967.5,875.5 L970.5,875.3 L973.5,875.1 L976.5,874.9 L979.5,874.6 L982.5,874.3 L985.5,874.0 L988.6,873.6 L991.6,873.3 L994.6,872.9 L997.6,872.5 L1000.6,872.1 L1003.6,871.6 L1006.6,871.2 L1009.6,870.7 L1012.6,870.1 L1015.6,869.6 L1018.6,869.0 L1021.6,868.4 L1024.6,867.8 L1027.6,867.1 L1030.6,866.4 L1033.7,865.7 L1036.7,865.0 L1039.7,864.3 L1042.7,863.5 L1045.7,862.8 L1048.7,862.0 L1051.7,861.2 L1054.7,860.5 L1057.7,859.7 L1060.7,858.9 L1063.7,858.1 L1066.7,857.3 L1069.7,856.5 L1072.7,855.7 L1075.8,854.9 L1078.8,854.1 L1081.8,853.4 L1084.8,852.6 L1087.8,851.9 L1090.8,851.1 L1093.8,850.4 L1096.8,849.7 L1099.8,849.0 L1102.8,848.4 L1105.8,847.7 L1108.8,847.1 L1111.8,846.5 L1114.8,846.0 L1117.8,845.5 L1120.9,845.0 L1123.9,844.5 L1126.9,844.1 L1129.9,843.7 L1132.9,843.4 L1135.9,843.0 L1138.9,842.7 L1141.9,842.5 L1144.9,842.3 L1147.9,842.1 L1150.9,842.0 L1153.9,841.9 L1156.9,841.8 L1159.9,841.8 L1162.9,841.9 L1166.0,841.9 L1169.0,842.0 L1172.0,842.2 L1175.0,842.4 L1178.0,842.6 L1181.0,842.9 L1184.0,843.3 L1187.0,843.7 L1190.0,844.1 L1193.0,844.6 L1196.0,845.1 L1199.0,845.7 L1202.0,846.3 L1205.0,847.0 L1208.0,847.8 L1211.1,848.5 L1214.1,849.3 L1217.1,850.2 L1220.1,851.1 L1223.1,852.0 L1226.1,853.0 L1229.1,854.0 L1232.1,855.0 L1235.1,856.0 L1238.1,857.1 L1241.1,858.2 L1244.1,859.3 L1247.1,860.5 L1250.1,861.6 L1253.2,862.8 L1256.2,864.0 L1259.2,865.2 L1262.2,866.4 L1265.2,867.6 L1268.2,868.9 L1271.2,870.1 L1274.2,871.3 L1277.2,872.5 L1280.2,873.8 L1283.2,875.0 L1286.2,876.2 L1289.2,877.4 L1292.2,878.6 L1295.2,879.8 L1298.3,881.0 L1301.3,882.1 L1304.3,883.3 L1307.3,884.4 L1310.3,885.6 L1313.3,886.7 L1316.3,887.8 L1319.3,888.9 L1322.3,890.0 L1325.3,891.1 L1328.3,892.1 L1331.3,893.2 L1334.3,894.2 L1337.3,895.3 L1340.3,896.3 L1343.4,897.3 L1346.4,898.3 L1349.4,899.3 L1352.4,900.3 L1355.4,901.2 L1358.4,902.2 L1361.4,903.1 L1364.4,904.0 L1367.4,904.9 L1370.4,905.8 L1373.4,906.7 L1376.4,907.5 L1379.4,908.4 L1382.4,909.2 L1385.4,910.0 L1388.5,910.8 L1391.5,911.6 L1394.5,912.4 L1397.5,913.2 L1400.5,913.9 L1403.5,914.6 L1406.5,915.4 L1409.5,916.1 L1412.5,916.7 L1415.5,917.4 L1418.5,918.1 L1421.5,918.7 L1424.5,919.3 L1427.5,919.9 L1430.6,920.5 L1433.6,921.1 L1436.6,921.6 L1439.6,922.2 L1442.6,922.7 L1445.6,923.2 L1448.6,923.7 L1451.6,924.1 L1454.6,924.6 L1457.6,925.0 L1460.6,925.4 L1463.6,925.8 L1466.6,926.2 L1469.6,926.5 L1472.6,926.9 L1475.7,927.2 L1478.7,927.5 L1481.7,927.8 L1484.7,928.0 L1487.7,928.3 L1490.7,928.5 L1493.7,928.7 L1496.7,928.9" fill="none" stroke="#808000" stroke-width="6.6" stroke-linejoin="round"/>
<path d="M137.0,846.0 L140.0,846.0 L143.0,846.0 L146.0,846.1 L149.0,846.1 L152.0,846.1 L155.0,846.1 L158.0,846.1 L161.0,846.2 L164.0,846.2 L167.0,846.2 L170.1,846.2 L173.1,846.3 L176.1,846.3 L179.1,846.3 L182.1,846.3 L185.1,846.4 L188.1,846.4 L191.1,846.4 L194.1,846.5 L197.1,846.5 L200.1,846.5 L203.1,846.5 L206.1,846.6 L209.1,846.6 L212.1,846.6 L215.1,846.7 L218.1,846.7 L221.1,846.7 L224.1,846.7 L227.1,846.8 L230.1,846.8 L233.1,846.8 L236.2,846.8 L239.2,846.9 L242.2,846.9 L245.2,846.9 L248.2,846.9 L251.2,846.9 L254.2,847.0 L257.2,847.0 L260.2,847.0 L263.2,847.0 L266.2,847.0 L269.2,847.0 L272.2,847.0 L275.2,847.0 L278.2,847.0 L281.2,847.1 L284.2,847.1 L287.2,847.1 L290.2,847.0 L293.2,847.0 L296.2,847.0 L299.2,847.0 L302.3,847.0 L305.3,847.0 L308.3,847.0 L311.3,847.0 L314.3,846.9 L317.3,846.9 L320.3,846.9 L323.3,846.8 L326.3,846.8 L329.3,846.8 L332.3,846.7 L335.3,846.7 L338.3,846.6 L341.3,846.6 L344.3,846.5 L347.3,846.5 L350.3,846.4 L353.3,846.3 L356.3,846.3 L359.3,846.2 L362.3,846.1 L365.4,846.0 L368.4,845.9 L371.4,845.9 L374.4,845.8 L377.4,845.7 L380.4,845.6 L383.4,845.4 L386.4,845.3 L389.4,845.2 L392.4,845.1 L395.4,845.0 L398.4,844.8 L401.4,844.7 L404.4,844.6 L407.4,844.4 L410.4,844.3 L413.4,844.1 L416.4,843.9 L419.4,843.8 L422.4,843.6 L425.4,843.4 L428.4,843.2 L431.5,843.0 L434.5,842.8 L437.5,842.6 L440.5,842.4 L443.5,842.2 L446.5,842.0 L449.5,841.8 L452.5,841.5 L455.5,841.3 L458.5,841.0 L461.5,840.8 L464.5,840.5 L467.5,840.3 L470.5,840.0 L473.5,839.7 L476.5,839.4 L479.5,839.1 L482.5,838.8 L485.5,838.5 L488.5,838.2 L491.5,837.9 L494.6,837.6 L497.6,837.2 L500.6,836.9 L503.6,836.5 L506.6,836.2 L509.6,835.8 L512.6,835.4 L515.6,835.1 L518.6,834.7 L521.6,834.3 L524.6,833.9 L527.6,833.4 L530.6,833.0 L533.6,832.6 L536.6,832.1 L539.6,831.7 L542.6,831.2 L545.6,830.8 L548.6,830.3 L551.6,829.8 L554.6,829.3 L557.6,828.8 L560.7,828.3 L563.7,827.8 L566.7,827.3 L569.7,826.7 L572.7,826.2 L575.7,825.6 L578.7,825.1 L581.7,824.5 L584.7,824.0 L587.7,823.5 L590.7,822.9 L593.7,822.4 L596.7,821.9 L599.7,821.5 L602.7,821.1 L605.7,820.7 L608.7,820.3 L611.7,820.0 L614.7,819.8 L617.7,819.5 L620.7,819.4 L623.7,819.3 L626.8,819.3 L629.8,819.3 L632.8,819.4 L635.8,819.6 L638.8,819.9 L641.8,820.2 L644.8,820.6 L647.8,821.2 L650.8,821.8 L653.8,822.4 L656.8,823.2 L659.8,824.0 L662.8,824.8 L665.8,825.8 L668.8,826.7 L671.8,827.7 L674.8,828.7 L677.8,829.7 L680.8,830.8 L683.8,831.8 L686.8,832.9 L689.9,834.0 L692.9,835.0 L695.9,836.1 L698.9,837.2 L701.9,838.2 L704.9,839.2 L707.9,840.3 L710.9,841.3 L713.9,842.3 L716.9,843.3 L719.9,844.3 L722.9,845.2 L725.9,846.2 L728.9,847.1 L731.9,848.0 L734.9,848.9 L737.9,849.7 L740.9,850.5 L743.9,851.3 L746.9,852.1 L749.9,852.9 L752.9,853.6 L756.0,854.3 L759.0,855.0 L762.0,855.7 L765.0,856.4 L768.0,857.0 L771.0,857.7 L774.0,858.3 L777.0,858.9 L780.0,859.5 L783.0,860.1 L786.0,860.6 L789.0,861.2 L792.0,861.7 L795.0,862.3 L798.0,862.8 L801.0,863.3 L804.0,863.8 L807.0,864.3 L810.0,864.7 L813.0,865.2 L816.0,865.7 L819.1,866.1 L822.1,866.6 L825.1,867.0 L828.1,867.5 L831.1,867.9 L834.1,868.3 L837.1,868.7 L840.1,869.1 L843.1,869.5 L846.1,869.9 L849.1,870.3 L852.1,870.7 L855.1,871.1 L858.1,871.4 L861.1,871.8 L864.1,872.2 L867.1,872.5 L870.1,872.9 L873.1,873.2 L876.1,873.5 L879.1,873.9 L882.1,874.2 L885.2,874.5 L888.2,874.8 L891.2,875.1 L894.2,875.4 L897.2,875.7 L900.2,876.0 L903.2,876.3 L906.2,876.6 L909.2,876.9 L912.2,877.1 L915.2,877.4 L918.2,877.7 L921.2,877.9 L924.2,878.2 L927.2,878.4 L930.2,878.7 L933.2,878.9 L936.2,879.1 L939.2,879.4 L942.2,879.6 L945.2,879.8 L948.2,880.1 L951.3,880.3 L954.3,880.5 L957.3,880.7 L960.3,880.9 L963.3,881.1 L966.3,881.3 L969.3,881.5 L972.3,881.7 L975.3,881.9 L978.3,882.1 L981.3,882.3 L984.3,882.4 L987.3,882.6 L990.3,882.8 L993.3,883.0 L996.3,883.1 L999.3,883.3 L1002.3,883.5 L1005.3,883.6 L1008.3,883.8 L1011.3,884.0 L1014.4,884.1 L1017.4,884.3 L1020.4,884.4 L1023.4,884.6 L1026.4,884.7 L1029.4,884.9 L1032.4,885.0 L1035.4,885.2 L1038.4,885.3 L1041.4,885.4 L1044.4,885.6 L1047.4,885.7 L1050.4,885.9 L1053.4,886.0 L1056.4,886.1 L1059.4,886.3 L1062.4,886.4 L1065.4,886.5 L1068.4,886.7 L1071.4,886.8 L1074.4,886.9 L1077.4,887.1 L1080.5,887.2 L1083.5,887.3 L1086.5,887.5 L1089.5,887.6 L1092.5,887.7 L1095.5,887.9 L1098.5,888.0 L1101.5,888.1 L1104.5,888.3 L1107.5,888.4 L1110.5,888.5 L1113.5,888.7 L1116.5,888.8 L1119.5,888.9 L1122.5,889.1 L1125.5,889.2 L1128.5,889.3 L1131.5,889.5 L1134.5,889.6 L1137.5,889.8 L1140.5,889.9 L1143.6,890.0 L1146.6,890.2 L1149.6,890.3 L1152.6,890.5 L1155.6,890.6 L1158.6,890.8 L1161.6,890.9 L1164.6,891.1 L1167.6,891.2 L1170.6,891.4 L1173.6,891.6 L1176.6,891.7 L1179.6,891.9 L1182.6,892.1 L1185.6,892.2 L1188.6,892.4 L1191.6,892.6 L1194.6,892.8 L1197.6,892.9 L1200.6,893.1 L1203.6,893.3 L1206.6,893.5 L1209.7,893.7 L1212.7,893.9 L1215.7,894.1 L1218.7,894.3 L1221.7,894.5 L1224.7,894.7 L1227.7,894.9 L1230.7,895.1 L1233.7,895.4 L1236.7,895.6 L1239.7,895.8 L1242.7,896.0 L1245.7,896.3 L1248.7,896.5 L1251.7,896.8 L1254.7,897.0 L1257.7,897.3 L1260.7,897.5 L1263.7,897.8 L1266.7,898.1 L1269.7,898.3 L1272.7,898.6 L1275.8,898.9 L1278.8,899.2 L1281.8,899.5 L1284.8,899.8 L1287.8,900.1 L1290.8,900.4 L1293.8,900.7 L1296.8,901.0 L1299.8,901.3 L1302.8,901.7 L1305.8,902.0 L1308.8,902.3 L1311.8,902.7 L1314.8,903.0 L1317.8,903.4 L1320.8,903.7 L1323.8,904.1 L1326.8,904.5 L1329.8,904.9 L1332.8,905.3 L1335.8,905.7 L1338.9,906.1 L1341.9,906.5 L1344.9,906.9 L1347.9,907.3 L1350.9,907.7 L1353.9,908.2 L1356.9,908.6 L1359.9,909.1 L1362.9,909.5 L1365.9,910.0 L1368.9,910.4 L1371.9,910.9 L1374.9,911.4 L1377.9,911.9 L1380.9,912.4 L1383.9,912.9 L1386.9,913.4 L1389.9,913.9 L1392.9,914.5 L1395.9,915.0 L1398.9,915.5 L1401.9,916.1 L1405.0,916.6 L1408.0,917.1 L1411.0,917.7 L1414.0,918.2 L1417.0,918.7 L1420.0,919.3 L1423.0,919.8 L1426.0,920.3 L1429.0,920.9 L1432.0,921.4 L1435.0,921.9 L1438.0,922.4 L1441.0,922.9 L1444.0,923.4 L1447.0,923.9 L1450.0,924.4 L1453.0,924.8 L1456.0,925.3 L1459.0,925.8 L1462.0,926.2 L1465.0,926.6 L1468.1,927.0 L1471.1,927.4 L1474.1,927.8 L1477.1,928.2 L1480.1,928.6 L1483.1,928.9 L1486.1,929.2 L1489.1,929.5 L1492.1,929.8 L1495.1,930.1 L1498.1,930.4 L1501.1,930.6 L1504.1,930.8 L1507.1,931.0 L1510.1,931.2 L1513.1,931.3 L1516.1,931.5 L1519.1,931.6 L1522.1,931.7 L1525.1,931.8 L1528.1,931.9 L1531.1,932.0 L1534.2,932.1 L1537.2,932.1 L1540.2,932.2 L1543.2,932.2 L1546.2,932.3 L1549.2,932.3 L1552.2,932.3 L1555.2,932.3 L1558.2,932.4 L1561.2,932.4 L1564.2,932.4 L1567.2,932.4 L1570.2,932.4 L1573.2,932.4 L1576.2,932.4 L1579.2,932.4 L1582.2,932.4 L1585.2,932.5 L1588.2,932.5 L1591.2,932.5 L1594.2,932.5 L1597.2,932.6 L1600.3,932.6 L1603.3,932.7 L1606.3,932.7 L1609.3,932.8 L1612.3,932.9 L1615.3,933.0 L1618.3,933.1 L1621.3,933.2 L1624.3,933.4 L1627.3,933.5 L1630.3,933.7" fill="none" stroke="#000080" stroke-width="6.6" stroke-linejoin="round"/>
<path d="M137.0,1607.6 L140.0,1608.5 L143.0,1609.0 L146.0,1609.2 L149.0,1609.2 L152.0,1608.9 L155.0,1608.5 L158.0,1607.9 L161.0,1607.3 L164.0,1606.7 L167.0,1606.1 L170.0,1605.6 L173.0,1605.2 L176.0,1605.0 L179.0,1605.0 L182.0,1605.2 L185.0,1605.5 L188.0,1605.8 L191.0,1606.2 L194.0,1606.5 L197.0,1606.8 L200.0,1607.1 L203.0,1607.4 L206.0,1607.6 L209.0,1607.8 L212.0,1608.0 L215.0,1608.2 L218.0,1608.4 L221.0,1608.5 L224.0,1608.7 L227.0,1608.8 L230.0,1608.9 L233.0,1609.0 L236.0,1609.0 L239.0,1609.1 L242.0,1609.2 L245.0,1609.2 L248.0,1609.2 L251.0,1609.2 L254.0,1609.3 L257.0,1609.3 L260.0,1609.3 L263.0,1609.2 L266.0,1609.2 L269.0,1609.2 L272.0,1609.2 L275.0,1609.2 L278.0,1609.1 L281.0,1609.1 L284.0,1609.1 L287.0,1609.0 L290.0,1609.0 L293.0,1608.9 L296.0,1608.9 L299.0,1608.9 L302.0,1608.9 L305.0,1608.8 L308.0,1608.8 L311.0,1608.8 L314.0,1608.8 L317.0,1608.8 L320.0,1608.8 L323.0,1608.7 L326.0,1608.7 L329.0,1608.7 L332.0,1608.7 L335.0,1608.7 L338.0,1608.7 L341.0,1608.8 L344.0,1608.8 L347.0,1608.8 L350.0,1608.8 L353.0,1608.8 L356.0,1608.8 L359.0,1608.8 L362.0,1608.8 L365.0,1608.8 L368.0,1608.9 L371.0,1608.9 L374.0,1608.9 L377.0,1608.9 L380.0,1608.9 L383.0,1608.9 L386.0,1609.0 L389.0,1609.0 L392.0,1609.0 L395.0,1609.0 L398.0,1609.0 L401.0,1609.0 L404.0,1609.0 L407.0,1609.1 L410.0,1609.1 L413.0,1609.1 L416.0,1609.1 L419.0,1609.1 L422.0,1609.1 L425.0,1609.1 L428.0,1609.1 L431.0,1609.1 L434.0,1609.1 L437.0,1609.1 L440.0,1609.1 L443.0,1609.0 L446.0,1609.0 L449.0,1609.0 L452.0,1609.0 L455.0,1609.0 L458.0,1608.9 L461.0,1608.9 L464.0,1608.9 L467.0,1608.8 L470.0,1608.8 L473.0,1608.7 L476.0,1608.7 L479.0,1608.6 L482.0,1608.5 L485.0,1608.5 L488.0,1608.4 L491.0,1608.3 L494.0,1608.3 L497.0,1608.2 L500.0,1608.1 L503.0,1608.0 L506.0,1607.9 L509.0,1607.8 L512.0,1607.7 L515.0,1607.6 L518.0,1607.5 L521.0,1607.4 L524.0,1607.3 L527.0,1607.2 L530.0,1607.1 L533.0,1606.9 L536.0,1606.8 L539.0,1606.7 L542.0,1606.6 L545.0,1606.4 L548.0,1606.3 L551.0,1606.1 L554.0,1606.0 L557.0,1605.8 L560.0,1605.7 L563.0,1605.5 L566.0,1605.4 L569.0,1605.2 L572.0,1605.1 L575.0,1604.9 L578.0,1604.7 L581.0,1604.6 L584.0,1604.4 L587.0,1604.2 L590.0,1604.0 L593.0,1603.9 L596.0,1603.7 L599.0,1603.5 L602.0,1603.3 L605.0,1603.1 L608.0,1602.9 L611.0,1602.7 L614.0,1602.5 L617.0,1602.3 L620.0,1602.1 L623.0,1601.9 L626.0,1601.7 L629.0,1601.5 L632.0,1601.3 L635.0,1601.1 L638.0,1600.9 L641.0,1600.7 L644.0,1600.4 L647.0,1600.2 L650.0,1600.0 L653.0,1599.8 L656.0,1599.5 L659.0,1599.3 L662.0,1599.1 L665.0,1598.9 L668.0,1598.6 L671.0,1598.4 L674.0,1598.2 L677.0,1597.9 L680.0,1597.7 L683.0,1597.4 L686.0,1597.2 L689.0,1597.0 L692.0,1596.7 L695.0,1596.5 L698.0,1596.2 L701.0,1596.0 L704.0,1595.7 L707.0,1595.5 L710.0,1595.2 L713.0,1594.9 L716.0,1594.7 L719.0,1594.4 L722.0,1594.2 L725.0,1593.9 L728.0,1593.6 L731.0,1593.4 L734.0,1593.1 L737.0,1592.9 L740.0,1592.6 L743.0,1592.3 L746.0,1592.1 L749.0,1591.8 L752.0,1591.5 L755.0,1591.2 L758.0,1591.0 L761.0,1590.7 L764.0,1590.4 L767.0,1590.1 L770.0,1589.9 L773.0,1589.6 L776.0,1589.3 L779.0,1589.0 L782.0,1588.7 L785.0,1588.5 L788.0,1588.2 L791.0,1587.9 L794.0,1587.6 L797.0,1587.3 L800.0,1586.9 L803.0,1586.6 L806.0,1586.3 L809.0,1586.0 L812.0,1585.6 L815.0,1585.2 L818.0,1584.9 L821.0,1584.5 L824.0,1584.1 L827.0,1583.7 L830.0,1583.3 L833.0,1582.8 L836.0,1582.4 L839.0,1581.9 L842.0,1581.4 L845.0,1580.9 L848.0,1580.4 L851.0,1579.9 L854.0,1579.3 L857.0,1578.7 L860.0,1578.1 L863.0,1577.5 L866.0,1576.8 L869.0,1576.2 L872.0,1575.5 L875.0,1574.7 L878.0,1574.0 L881.0,1573.2 L884.0,1572.4 L887.0,1571.6 L890.0,1570.7 L893.0,1569.8 L896.0,1568.9 L899.0,1568.0 L902.0,1567.0 L905.0,1566.0 L908.0,1565.0 L911.0,1563.9 L914.0,1562.8 L917.0,1561.6 L920.0,1560.4 L923.0,1559.2 L926.0,1558.0 L929.0,1556.7 L932.0,1555.3 L935.0,1554.0 L938.0,1552.5 L941.0,1551.1 L944.0,1549.6 L947.0,1548.1 L950.0,1546.5 L953.0,1544.9 L956.0,1543.2 L959.0,1541.5 L962.0,1539.7 L965.0,1537.9 L968.0,1536.1 L971.0,1534.2 L974.0,1532.3 L977.0,1530.3 L980.0,1528.2 L983.0,1526.1 L986.0,1524.0 L989.0,1521.8 L992.0,1519.6 L995.0,1517.3 L998.0,1514.9 L1001.0,1512.5 L1004.0,1510.1 L1007.0,1507.6 L1010.0,1505.0 L1013.0,1502.4 L1016.0,1499.7 L1019.0,1497.0 L1022.0,1494.2 L1025.0,1491.3 L1028.0,1488.3 L1031.0,1485.3 L1034.0,1482.2 L1037.0,1478.9 L1040.0,1475.6 L1043.0,1472.1 L1046.0,1468.6 L1049.0,1464.9 L1052.0,1461.0 L1055.0,1457.0 L1058.0,1452.9 L1061.0,1448.6 L1064.0,1444.1 L1067.0,1439.5 L1070.0,1434.7 L1073.0,1429.8 L1076.0,1424.8 L1079.0,1419.8 L1082.0,1414.6 L1085.0,1409.4 L1088.0,1404.1 L1091.0,1398.9 L1094.0,1393.6 L1097.0,1388.3 L1100.0,1383.0 L1103.0,1377.8 L1106.0,1372.6 L1109.0,1367.5 L1112.0,1362.5 L1115.0,1357.5 L1118.0,1352.7 L1121.0,1348.0 L1124.0,1343.5 L1127.0,1339.1 L1130.0,1334.9 L1133.0,1330.9 L1136.0,1327.1 L1139.0,1323.6 L1142.0,1320.2 L1145.0,1317.1 L1148.0,1314.3 L1151.0,1311.7 L1154.0,1309.4 L1157.0,1307.4 L1160.0,1305.7 L1163.0,1304.4 L1166.0,1303.4 L1169.0,1302.7 L1172.0,1302.3 L1175.0,1302.4 L1178.0,1302.8 L1181.0,1303.6 L1184.0,1304.8 L1187.0,1306.3 L1190.0,1308.1 L1193.0,1310.2 L1196.0,1312.5 L1199.0,1315.0 L1202.0,1317.8 L1205.0,1320.9 L1208.0,1324.2 L1211.0,1327.7 L1214.0,1331.6 L1217.0,1335.8 L1220.0,1340.4 L1223.0,1345.2 L1226.0,1350.3 L1229.0,1355.7 L1232.0,1361.2 L1235.0,1366.9 L1238.0,1372.6 L1241.0,1378.4 L1244.0,1384.3 L1247.0,1390.1 L1250.0,1396.0 L1253.0,1401.8 L1256.0,1407.7 L1259.0,1413.5 L1262.0,1419.3 L1265.0,1425.1 L1268.0,1430.9 L1271.0,1436.7 L1274.0,1442.5 L1277.0,1448.2 L1280.0,1453.8 L1283.0,1459.5 L1286.0,1465.0 L1289.0,1470.6 L1292.0,1476.0 L1295.0,1481.4 L1298.0,1486.6 L1301.0,1491.7 L1304.0,1496.7 L1307.0,1501.5 L1310.0,1506.4 L1313.0,1511.2 L1316.0,1516.1 L1319.0,1521.2 L1322.0,1526.3 L1325.0,1531.4 L1328.0,1536.5 L1331.0,1541.5 L1334.0,1546.4 L1337.0,1551.0 L1340.0,1555.4 L1343.0,1559.6 L1346.0,1563.5 L1349.0,1567.2 L1352.0,1570.7 L1355.0,1574.1 L1358.0,1577.2 L1361.0,1580.2 L1364.0,1583.0 L1367.0,1585.6 L1370.0,1588.1 L1373.0,1590.4 L1376.0,1592.6 L1379.0,1594.7 L1382.0,1596.6 L1385.0,1598.4 L1388.0,1600.1 L1391.0,1601.7 L1394.0,1603.3 L1397.0,1604.7 L1400.0,1606.1 L1403.0,1607.3 L1406.0,1608.6 L1409.0,1609.7 L1412.0,1610.8 L1415.0,1611.9 L1418.0,1612.9 L1421.0,1613.8 L1424.0,1614.7 L1427.0,1615.5 L1430.0,1616.2 L1433.0,1617.0 L1436.0,1617.6 L1439.0,1618.3 L1442.0,1618.8 L1445.0,1619.4 L1448.0,1619.9 L1451.0,1620.3 L1454.0,1620.8 L1457.0,1621.2 L1460.0,1621.5 L1463.0,1621.8 L1466.0,1622.1 L1469.0,1622.4 L1472.0,1622.6 L1475.0,1622.9 L1478.0,1623.1 L1481.0,1623.2 L1484.0,1623.4 L1487.0,1623.5 L1490.0,1623.6 L1493.0,1623.7 L1496.0,1623.8 L1499.0,1623.9 L1502.0,1624.0 L1505.0,1624.1 L1508.0,1624.1 L1511.0,1624.2 L1514.0,1624.2 L1517.0,1624.3 L1520.0,1624.4 L1523.0,1624.4 L1526.0,1624.5 L1529.0,1624.6 L1532.0,1624.7 L1535.0,1624.8 L1538.0,1624.9 L1541.0,1625.0 L1544.0,1625.1 L1547.0,1625.2 L1550.0,1625.4 L1553.0,1625.5 L1556.0,1625.6 L1559.0,1625.8 L1562.0,1625.9 L1565.0,1626.1 L1568.0,1626.3 L1571.0,1626.4 L1574.0,1626.6 L1577.0,1626.8 L1580.0,1626.9 L1583.0,1627.1 L1586.0,1627.3 L1589.0,1627.4 L1592.0,1627.6 L1595.0,1627.8 L1598.0,1627.9 L1601.0,1628.1 L1604.0,1628.3 L1607.0,1628.4 L1610.0,1628.6 L1613.0,1628.7 L1616.0,1628.9 L1619.0,1629.0 L1622.0,1629.2 L1625.0,1629.3 L1628.0,1629.4 L1631.0,1629.5 L1634.0,1629.6 L1637.0,1629.7 L1640.0,1629.8 L1643.0,1629.9 L1646.0,1630.0 L1649.0,1630.0 L1652.0,1630.1 L1655.0,1630.1 L1658.0,1630.1 L1661.0,1630.1 L1664.0,1630.1 L1667.0,1630.1 L1670.0,1630.1 L1673.0,1630.1 L1676.0,1630.0" fill="none" stroke="#000000" stroke-width="6.5" stroke-linejoin="round"/>
<path d="M137.0,1609.1 L140.0,1609.1 L143.0,1609.0 L146.0,1609.0 L149.0,1609.0 L152.0,1608.9 L155.0,1608.9 L158.0,1608.9 L161.0,1608.8 L164.0,1608.8 L167.0,1608.8 L170.0,1608.8 L173.0,1608.7 L176.0,1608.7 L179.0,1608.7 L182.0,1608.7 L185.0,1608.7 L188.0,1608.6 L191.0,1608.6 L194.0,1608.6 L197.0,1608.6 L200.1,1608.6 L203.1,1608.6 L206.1,1608.6 L209.1,1608.6 L212.1,1608.5 L215.1,1608.5 L218.1,1608.5 L221.1,1608.5 L224.1,1608.5 L227.1,1608.5 L230.1,1608.5 L233.1,1608.5 L236.1,1608.5 L239.1,1608.5 L242.1,1608.5 L245.1,1608.5 L248.1,1608.5 L251.1,1608.5 L254.1,1608.5 L257.1,1608.5 L260.1,1608.5 L263.1,1608.5 L266.1,1608.5 L269.1,1608.5 L272.1,1608.5 L275.1,1608.5 L278.1,1608.5 L281.1,1608.5 L284.1,1608.5 L287.1,1608.5 L290.1,1608.5 L293.1,1608.5 L296.1,1608.5 L299.1,1608.5 L302.1,1608.5 L305.1,1608.5 L308.1,1608.5 L311.1,1608.5 L314.1,1608.5 L317.1,1608.5 L320.2,1608.5 L323.2,1608.5 L326.2,1608.5 L329.2,1608.5 L332.2,1608.5 L335.2,1608.5 L338.2,1608.5 L341.2,1608.5 L344.2,1608.5 L347.2,1608.5 L350.2,1608.5 L353.2,1608.5 L356.2,1608.5 L359.2,1608.5 L362.2,1608.5 L365.2,1608.5 L368.2,1608.5 L371.2,1608.5 L374.2,1608.5 L377.2,1608.5 L380.2,1608.5 L383.2,1608.5 L386.2,1608.5 L389.2,1608.5 L392.2,1608.4 L395.2,1608.4 L398.2,1608.4 L401.2,1608.4 L404.2,1608.4 L407.2,1608.4 L410.2,1608.4 L413.2,1608.4 L416.2,1608.3 L419.2,1608.3 L422.2,1608.3 L425.2,1608.3 L428.2,1608.3 L431.2,1608.2 L434.2,1608.2 L437.2,1608.2 L440.3,1608.2 L443.3,1608.1 L446.3,1608.1 L449.3,1608.1 L452.3,1608.0 L455.3,1608.0 L458.3,1608.0 L461.3,1607.9 L464.3,1607.9 L467.3,1607.9 L470.3,1607.8 L473.3,1607.8 L476.3,1607.7 L479.3,1607.7 L482.3,1607.7 L485.3,1607.6 L488.3,1607.6 L491.3,1607.5 L494.3,1607.5 L497.3,1607.4 L500.3,1607.3 L503.3,1607.3 L506.3,1607.2 L509.3,1607.2 L512.3,1607.1 L515.3,1607.0 L518.3,1607.0 L521.3,1606.9 L524.3,1606.8 L527.3,1606.8 L530.3,1606.7 L533.3,1606.6 L536.3,1606.5 L539.3,1606.4 L542.3,1606.4 L545.3,1606.3 L548.3,1606.2 L551.3,1606.1 L554.3,1606.0 L557.3,1605.9 L560.4,1605.8 L563.4,1605.7 L566.4,1605.6 L569.4,1605.5 L572.4,1605.4 L575.4,1605.3 L578.4,1605.2 L581.4,1605.1 L584.4,1604.9 L587.4,1604.8 L590.4,1604.7 L593.4,1604.6 L596.4,1604.4 L599.4,1604.3 L602.4,1604.2 L605.4,1604.1 L608.4,1603.9 L611.4,1603.8 L614.4,1603.6 L617.4,1603.5 L620.4,1603.3 L623.4,1603.2 L626.4,1603.0 L629.4,1602.9 L632.4,1602.7 L635.4,1602.5 L638.4,1602.4 L641.4,1602.2 L644.4,1602.0 L647.4,1601.9 L650.4,1601.7 L653.4,1601.5 L656.4,1601.3 L659.4,1601.1 L662.4,1600.9 L665.4,1600.7 L668.4,1600.5 L671.4,1600.3 L674.4,1600.1 L677.4,1599.9 L680.5,1599.7 L683.5,1599.5 L686.5,1599.3 L689.5,1599.1 L692.5,1598.8 L695.5,1598.6 L698.5,1598.4 L701.5,1598.1 L704.5,1597.9 L707.5,1597.6 L710.5,1597.4 L713.5,1597.2 L716.5,1596.9 L719.5,1596.6 L722.5,1596.4 L725.5,1596.1 L728.5,1595.8 L731.5,1595.6 L734.5,1595.3 L737.5,1595.0 L740.5,1594.7 L743.5,1594.4 L746.5,1594.1 L749.5,1593.8 L752.5,1593.5 L755.5,1593.2 L758.5,1592.9 L761.5,1592.6 L764.5,1592.2 L767.5,1591.9 L770.5,1591.6 L773.5,1591.2 L776.5,1590.9 L779.5,1590.5 L782.5,1590.2 L785.5,1589.8 L788.5,1589.4 L791.5,1589.0 L794.5,1588.6 L797.5,1588.3 L800.6,1587.9 L803.6,1587.5 L806.6,1587.0 L809.6,1586.6 L812.6,1586.2 L815.6,1585.8 L818.6,1585.3 L821.6,1584.9 L824.6,1584.4 L827.6,1584.0 L830.6,1583.5 L833.6,1583.0 L836.6,1582.5 L839.6,1582.1 L842.6,1581.5 L845.6,1581.0 L848.6,1580.5 L851.6,1580.0 L854.6,1579.4 L857.6,1578.8 L860.6,1578.3 L863.6,1577.7 L866.6,1577.0 L869.6,1576.4 L872.6,1575.7 L875.6,1575.0 L878.6,1574.3 L881.6,1573.6 L884.6,1572.8 L887.6,1572.1 L890.6,1571.3 L893.6,1570.4 L896.6,1569.5 L899.6,1568.6 L902.6,1567.7 L905.6,1566.7 L908.6,1565.7 L911.6,1564.7 L914.6,1563.6 L917.6,1562.5 L920.6,1561.4 L923.7,1560.2 L926.7,1559.0 L929.7,1557.7 L932.7,1556.4 L935.7,1555.1 L938.7,1553.7 L941.7,1552.2 L944.7,1550.7 L947.7,1549.2 L950.7,1547.6 L953.7,1546.0 L956.7,1544.4 L959.7,1542.7 L962.7,1540.9 L965.7,1539.1 L968.7,1537.3 L971.7,1535.4 L974.7,1533.4 L977.7,1531.4 L980.7,1529.4 L983.7,1527.3 L986.7,1525.1 L989.7,1522.9 L992.7,1520.6 L995.7,1518.3 L998.7,1516.0 L1001.7,1513.6 L1004.7,1511.1 L1007.7,1508.6 L1010.7,1506.0 L1013.7,1503.3 L1016.7,1500.6 L1019.7,1497.9 L1022.7,1495.1 L1025.7,1492.2 L1028.7,1489.2 L1031.7,1486.1 L1034.7,1483.0 L1037.7,1479.7 L1040.7,1476.4 L1043.8,1472.9 L1046.8,1469.3 L1049.8,1465.5 L1052.8,1461.6 L1055.8,1457.6 L1058.8,1453.4 L1061.8,1449.1 L1064.8,1444.6 L1067.8,1440.0 L1070.8,1435.2 L1073.8,1430.3 L1076.8,1425.3 L1079.8,1420.2 L1082.8,1415.1 L1085.8,1409.9 L1088.8,1404.6 L1091.8,1399.4 L1094.8,1394.1 L1097.8,1388.9 L1100.8,1383.6 L1103.8,1378.4 L1106.8,1373.3 L1109.8,1368.3 L1112.8,1363.3 L1115.8,1358.4 L1118.8,1353.7 L1121.8,1349.1 L1124.8,1344.6 L1127.8,1340.4 L1130.8,1336.3 L1133.8,1332.4 L1136.8,1328.7 L1139.8,1325.2 L1142.8,1322.0 L1145.8,1319.1 L1148.8,1316.4 L1151.8,1314.1 L1154.8,1312.0 L1157.8,1310.3 L1160.8,1308.8 L1163.9,1307.7 L1166.9,1306.9 L1169.9,1306.4 L1172.9,1306.3 L1175.9,1306.5 L1178.9,1307.0 L1181.9,1307.8 L1184.9,1308.9 L1187.9,1310.4 L1190.9,1312.2 L1193.9,1314.4 L1196.9,1316.9 L1199.9,1319.7 L1202.9,1322.9 L1205.9,1326.3 L1208.9,1330.0 L1211.9,1333.9 L1214.9,1338.1 L1217.9,1342.5 L1220.9,1347.1 L1223.9,1351.9 L1226.9,1356.8 L1229.9,1361.9 L1232.9,1367.1 L1235.9,1372.4 L1238.9,1377.8 L1241.9,1383.3 L1244.9,1388.8 L1247.9,1394.4 L1250.9,1400.0 L1253.9,1405.5 L1256.9,1411.1 L1259.9,1416.7 L1262.9,1422.2 L1265.9,1427.7 L1268.9,1433.1 L1271.9,1438.5 L1274.9,1443.8 L1277.9,1448.9 L1280.9,1454.0 L1284.0,1458.9 L1287.0,1463.7 L1290.0,1468.3 L1293.0,1472.8 L1296.0,1477.1 L1299.0,1481.4 L1302.0,1485.4 L1305.0,1489.4 L1308.0,1493.2 L1311.0,1497.0 L1314.0,1500.6 L1317.0,1504.1 L1320.0,1507.5 L1323.0,1510.8 L1326.0,1514.1 L1329.0,1517.2 L1332.0,1520.3 L1335.0,1523.3 L1338.0,1526.3 L1341.0,1529.1 L1344.0,1531.9 L1347.0,1534.6 L1350.0,1537.3 L1353.0,1539.8 L1356.0,1542.4 L1359.0,1544.8 L1362.0,1547.2 L1365.0,1549.5 L1368.0,1551.7 L1371.0,1553.9 L1374.0,1556.1 L1377.0,1558.1 L1380.0,1560.1 L1383.0,1562.1 L1386.0,1564.0 L1389.0,1565.8 L1392.0,1567.6 L1395.0,1569.4 L1398.0,1571.0 L1401.0,1572.7 L1404.1,1574.3 L1407.1,1575.8 L1410.1,1577.3 L1413.1,1578.7 L1416.1,1580.1 L1419.1,1581.5 L1422.1,1582.8 L1425.1,1584.1 L1428.1,1585.3 L1431.1,1586.5 L1434.1,1587.6 L1437.1,1588.7 L1440.1,1589.8 L1443.1,1590.9 L1446.1,1591.9 L1449.1,1592.8 L1452.1,1593.8 L1455.1,1594.7 L1458.1,1595.6 L1461.1,1596.4 L1464.1,1597.3 L1467.1,1598.1 L1470.1,1598.9 L1473.1,1599.6 L1476.1,1600.4 L1479.1,1601.1 L1482.1,1601.8 L1485.1,1602.4 L1488.1,1603.1 L1491.1,1603.7 L1494.1,1604.3 L1497.1,1604.9 L1500.1,1605.5 L1503.1,1606.1 L1506.1,1606.7 L1509.1,1607.2 L1512.1,1607.8 L1515.1,1608.3 L1518.1,1608.9 L1521.1,1609.4 L1524.2,1609.9 L1527.2,1610.5 L1530.2,1611.0 L1533.2,1611.5 L1536.2,1612.0 L1539.2,1612.5 L1542.2,1613.1 L1545.2,1613.6 L1548.2,1614.1 L1551.2,1614.6 L1554.2,1615.2 L1557.2,1615.7 L1560.2,1616.3 L1563.2,1616.9 L1566.2,1617.4 L1569.2,1618.0 L1572.2,1618.6 L1575.2,1619.3 L1578.2,1619.9 L1581.2,1620.5 L1584.2,1621.2" fill="none" stroke="#FF0000" stroke-width="6.6" stroke-linejoin="round"/>
<path d="M137.0,1606.5 L140.0,1606.6 L143.0,1606.7 L146.0,1606.7 L149.0,1606.8 L152.0,1606.8 L155.0,1606.9 L158.0,1606.9 L161.0,1607.0 L164.1,1607.1 L167.1,1607.1 L170.1,1607.2 L173.1,1607.2 L176.1,1607.3 L179.1,1607.3 L182.1,1607.4 L185.1,1607.4 L188.1,1607.5 L191.1,1607.5 L194.1,1607.5 L197.1,1607.6 L200.1,1607.6 L203.1,1607.7 L206.1,1607.7 L209.1,1607.8 L212.1,1607.8 L215.2,1607.8 L218.2,1607.9 L221.2,1607.9 L224.2,1608.0 L227.2,1608.0 L230.2,1608.0 L233.2,1608.1 L236.2,1608.1 L239.2,1608.1 L242.2,1608.2 L245.2,1608.2 L248.2,1608.2 L251.2,1608.3 L254.2,1608.3 L257.2,1608.3 L260.2,1608.4 L263.2,1608.4 L266.2,1608.4 L269.3,1608.4 L272.3,1608.5 L275.3,1608.5 L278.3,1608.5 L281.3,1608.5 L284.3,1608.6 L287.3,1608.6 L290.3,1608.6 L293.3,1608.6 L296.3,1608.7 L299.3,1608.7 L302.3,1608.7 L305.3,1608.7 L308.3,1608.7 L311.3,1608.8 L314.3,1608.8 L317.3,1608.8 L320.4,1608.8 L323.4,1608.8 L326.4,1608.9 L329.4,1608.9 L332.4,1608.9 L335.4,1608.9 L338.4,1608.9 L341.4,1608.9 L344.4,1608.9 L347.4,1609.0 L350.4,1609.0 L353.4,1609.0 L356.4,1609.0 L359.4,1609.0 L362.4,1609.0 L365.4,1609.0 L368.4,1609.0 L371.5,1609.1 L374.5,1609.1 L377.5,1609.1 L380.5,1609.1 L383.5,1609.1 L386.5,1609.1 L389.5,1609.1 L392.5,1609.1 L395.5,1609.1 L398.5,1609.1 L401.5,1609.1 L404.5,1609.1 L407.5,1609.2 L410.5,1609.2 L413.5,1609.2 L416.5,1609.2 L419.5,1609.2 L422.6,1609.2 L425.6,1609.2 L428.6,1609.2 L431.6,1609.2 L434.6,1609.2 L437.6,1609.2 L440.6,1609.2 L443.6,1609.2 L446.6,1609.2 L449.6,1609.2 L452.6,1609.2 L455.6,1609.2 L458.6,1609.2 L461.6,1609.2 L464.6,1609.2 L467.6,1609.2 L470.6,1609.2 L473.7,1609.2 L476.7,1609.2 L479.7,1609.2 L482.7,1609.2 L485.7,1609.2 L488.7,1609.2 L491.7,1609.2 L494.7,1609.2 L497.7,1609.2 L500.7,1609.2 L503.7,1609.3 L506.7,1609.3 L509.7,1609.3 L512.7,1609.3 L515.7,1609.3 L518.7,1609.3 L521.7,1609.3 L524.7,1609.3 L527.8,1609.3 L530.8,1609.3 L533.8,1609.3 L536.8,1609.3 L539.8,1609.3 L542.8,1609.3 L545.8,1609.3 L548.8,1609.3 L551.8,1609.3 L554.8,1609.3 L557.8,1609.3 L560.8,1609.3 L563.8,1609.3 L566.8,1609.3 L569.8,1609.3 L572.8,1609.3 L575.8,1609.3 L578.9,1609.3 L581.9,1609.3 L584.9,1609.3 L587.9,1609.3 L590.9,1609.3 L593.9,1609.3 L596.9,1609.3 L599.9,1609.3 L602.9,1609.3 L605.9,1609.3 L608.9,1609.3 L611.9,1609.3 L614.9,1609.3 L617.9,1609.3 L620.9,1609.3 L623.9,1609.3 L626.9,1609.3 L630.0,1609.3 L633.0,1609.3 L636.0,1609.3 L639.0,1609.3 L642.0,1609.3 L645.0,1609.3 L648.0,1609.4 L651.0,1609.4 L654.0,1609.4 L657.0,1609.4 L660.0,1609.4 L663.0,1609.4 L666.0,1609.4 L669.0,1609.4 L672.0,1609.4 L675.0,1609.4 L678.0,1609.4 L681.1,1609.4 L684.1,1609.4 L687.1,1609.5 L690.1,1609.5 L693.1,1609.5 L696.1,1609.5 L699.1,1609.5 L702.1,1609.5 L705.1,1609.5 L708.1,1609.5 L711.1,1609.6 L714.1,1609.6 L717.1,1609.6 L720.1,1609.6 L723.1,1609.6 L726.1,1609.6 L729.1,1609.6 L732.2,1609.7 L735.2,1609.7 L738.2,1609.7 L741.2,1609.7 L744.2,1609.7 L747.2,1609.8 L750.2,1609.8 L753.2,1609.8 L756.2,1609.8 L759.2,1609.8 L762.2,1609.9 L765.2,1609.9 L768.2,1609.9 L771.2,1609.9 L774.2,1610.0 L777.2,1610.0 L780.2,1610.0 L783.2,1610.0 L786.3,1610.1 L789.3,1610.1 L792.3,1610.1 L795.3,1610.1 L798.3,1610.2 L801.3,1610.2 L804.3,1610.2 L807.3,1610.3 L810.3,1610.3 L813.3,1610.3 L816.3,1610.4 L819.3,1610.4 L822.3,1610.4 L825.3,1610.5 L828.3,1610.5 L831.3,1610.5 L834.3,1610.6 L837.4,1610.6 L840.4,1610.6 L843.4,1610.7 L846.4,1610.7 L849.4,1610.8 L852.4,1610.8 L855.4,1610.9 L858.4,1610.9 L861.4,1610.9 L864.4,1611.0 L867.4,1611.0 L870.4,1611.1 L873.4,1611.1 L876.4,1611.2 L879.4,1611.2 L882.4,1611.3 L885.4,1611.3 L888.5,1611.4 L891.5,1611.4 L894.5,1611.5 L897.5,1611.5 L900.5,1611.6 L903.5,1611.6 L906.5,1611.7 L909.5,1611.8 L912.5,1611.8 L915.5,1611.9 L918.5,1611.9 L921.5,1612.0 L924.5,1612.1 L927.5,1612.1 L930.5,1612.2 L933.5,1612.2 L936.5,1612.3 L939.6,1612.4 L942.6,1612.4 L945.6,1612.5 L948.6,1612.6 L951.6,1612.6 L954.6,1612.7 L957.6,1612.8 L960.6,1612.9 L963.6,1612.9 L966.6,1613.0 L969.6,1613.1 L972.6,1613.2 L975.6,1613.2 L978.6,1613.3 L981.6,1613.4 L984.6,1613.5 L987.6,1613.5 L990.6,1613.6 L993.7,1613.7 L996.7,1613.8 L999.7,1613.8 L1002.7,1613.9 L1005.7,1614.0 L1008.7,1614.1 L1011.7,1614.2 L1014.7,1614.2 L1017.7,1614.3 L1020.7,1614.4 L1023.7,1614.5 L1026.7,1614.6 L1029.7,1614.7 L1032.7,1614.7 L1035.7,1614.8 L1038.7,1614.9 L1041.7,1615.0 L1044.8,1615.1 L1047.8,1615.2 L1050.8,1615.3 L1053.8,1615.3 L1056.8,1615.4 L1059.8,1615.5 L1062.8,1615.6 L1065.8,1615.7 L1068.8,1615.8 L1071.8,1615.9 L1074.8,1616.0 L1077.8,1616.1 L1080.8,1616.2 L1083.8,1616.2 L1086.8,1616.3 L1089.8,1616.4 L1092.8,1616.5 L1095.9,1616.6 L1098.9,1616.7 L1101.9,1616.8 L1104.9,1616.9 L1107.9,1617.0 L1110.9,1617.1 L1113.9,1617.2 L1116.9,1617.3 L1119.9,1617.4 L1122.9,1617.4 L1125.9,1617.5 L1128.9,1617.6 L1131.9,1617.7 L1134.9,1617.8 L1137.9,1617.9 L1140.9,1618.0 L1143.9,1618.1 L1147.0,1618.2 L1150.0,1618.3 L1153.0,1618.4 L1156.0,1618.5 L1159.0,1618.6 L1162.0,1618.7 L1165.0,1618.8 L1168.0,1618.9 L1171.0,1619.0 L1174.0,1619.1 L1177.0,1619.1 L1180.0,1619.2 L1183.0,1619.3 L1186.0,1619.4 L1189.0,1619.5 L1192.0,1619.6 L1195.0,1619.7 L1198.1,1619.8 L1201.1,1619.9 L1204.1,1620.0 L1207.1,1620.1 L1210.1,1620.2 L1213.1,1620.3 L1216.1,1620.4 L1219.1,1620.5 L1222.1,1620.6 L1225.1,1620.7 L1228.1,1620.7 L1231.1,1620.8 L1234.1,1620.9 L1237.1,1621.0 L1240.1,1621.1 L1243.1,1621.2 L1246.1,1621.3 L1249.1,1621.4 L1252.2,1621.5 L1255.2,1621.6 L1258.2,1621.7 L1261.2,1621.8 L1264.2,1621.8 L1267.2,1621.9 L1270.2,1622.0 L1273.2,1622.1 L1276.2,1622.2 L1279.2,1622.3 L1282.2,1622.4 L1285.2,1622.5 L1288.2,1622.6 L1291.2,1622.6 L1294.2,1622.7 L1297.2,1622.8 L1300.2,1622.9 L1303.3,1623.0 L1306.3,1623.1 L1309.3,1623.2 L1312.3,1623.2 L1315.3,1623.3 L1318.3,1623.4 L1321.3,1623.5 L1324.3,1623.6 L1327.3,1623.7 L1330.3,1623.7 L1333.3,1623.8 L1336.3,1623.9 L1339.3,1624.0 L1342.3,1624.0 L1345.3,1624.1 L1348.3,1624.2 L1351.3,1624.3 L1354.4,1624.4 L1357.4,1624.4 L1360.4,1624.5 L1363.4,1624.6 L1366.4,1624.7 L1369.4,1624.7 L1372.4,1624.8 L1375.4,1624.9 L1378.4,1624.9 L1381.4,1625.0 L1384.4,1625.1 L1387.4,1625.2 L1390.4,1625.2 L1393.4,1625.3 L1396.4,1625.4 L1399.4,1625.4 L1402.4,1625.5 L1405.5,1625.6 L1408.5,1625.6 L1411.5,1625.7 L1414.5,1625.7 L1417.5,1625.8 L1420.5,1625.9 L1423.5,1625.9 L1426.5,1626.0 L1429.5,1626.0 L1432.5,1626.1 L1435.5,1626.2 L1438.5,1626.2 L1441.5,1626.3 L1444.5,1626.3 L1447.5,1626.4 L1450.5,1626.4 L1453.5,1626.5 L1456.6,1626.5 L1459.6,1626.6 L1462.6,1626.6 L1465.6,1626.7 L1468.6,1626.7 L1471.6,1626.8 L1474.6,1626.8 L1477.6,1626.8 L1480.6,1626.9 L1483.6,1626.9 L1486.6,1627.0 L1489.6,1627.0 L1492.6,1627.0 L1495.6,1627.1 L1498.6,1627.1 L1501.6,1627.1 L1504.6,1627.2 L1507.6,1627.2 L1510.7,1627.2 L1513.7,1627.3 L1516.7,1627.3 L1519.7,1627.3 L1522.7,1627.4 L1525.7,1627.4 L1528.7,1627.4 L1531.7,1627.4 L1534.7,1627.4 L1537.7,1627.5 L1540.7,1627.5 L1543.7,1627.5 L1546.7,1627.5 L1549.7,1627.5 L1552.7,1627.6 L1555.7,1627.6 L1558.7,1627.6 L1561.8,1627.6 L1564.8,1627.6 L1567.8,1627.6 L1570.8,1627.6 L1573.8,1627.6 L1576.8,1627.6 L1579.8,1627.6 L1582.8,1627.6 L1585.8,1627.6" fill="none" stroke="#FF00FF" stroke-width="6.6" stroke-linejoin="round"/>
<path d="M137.0,1608.9 L140.0,1608.9 L143.0,1608.9 L146.0,1608.9 L149.0,1608.9 L152.0,1608.9 L155.0,1608.9 L158.0,1608.9 L161.0,1608.9 L164.1,1608.9 L167.1,1608.9 L170.1,1608.9 L173.1,1608.9 L176.1,1608.9 L179.1,1608.9 L182.1,1608.9 L185.1,1608.9 L188.1,1608.9 L191.1,1608.9 L194.1,1608.9 L197.1,1608.9 L200.1,1608.9 L203.1,1608.9 L206.1,1608.9 L209.1,1608.9 L212.1,1608.9 L215.2,1608.9 L218.2,1608.9 L221.2,1608.9 L224.2,1608.9 L227.2,1608.9 L230.2,1609.0 L233.2,1609.0 L236.2,1609.0 L239.2,1609.0 L242.2,1609.0 L245.2,1609.0 L248.2,1609.0 L251.2,1609.0 L254.2,1609.0 L257.2,1609.1 L260.2,1609.1 L263.2,1609.1 L266.2,1609.1 L269.3,1609.1 L272.3,1609.1 L275.3,1609.1 L278.3,1609.1 L281.3,1609.2 L284.3,1609.2 L287.3,1609.2 L290.3,1609.2 L293.3,1609.2 L296.3,1609.2 L299.3,1609.2 L302.3,1609.2 L305.3,1609.3 L308.3,1609.3 L311.3,1609.3 L314.3,1609.3 L317.3,1609.3 L320.4,1609.3 L323.4,1609.3 L326.4,1609.3 L329.4,1609.3 L332.4,1609.4 L335.4,1609.4 L338.4,1609.4 L341.4,1609.4 L344.4,1609.4 L347.4,1609.4 L350.4,1609.4 L353.4,1609.4 L356.4,1609.4 L359.4,1609.4 L362.4,1609.4 L365.4,1609.4 L368.4,1609.4 L371.5,1609.4 L374.5,1609.5 L377.5,1609.5 L380.5,1609.5 L383.5,1609.5 L386.5,1609.5 L389.5,1609.5 L392.5,1609.5 L395.5,1609.5 L398.5,1609.5 L401.5,1609.5 L404.5,1609.5 L407.5,1609.5 L410.5,1609.4 L413.5,1609.4 L416.5,1609.4 L419.5,1609.4 L422.6,1609.4 L425.6,1609.4 L428.6,1609.4 L431.6,1609.4 L434.6,1609.4 L437.6,1609.4 L440.6,1609.4 L443.6,1609.3 L446.6,1609.3 L449.6,1609.3 L452.6,1609.3 L455.6,1609.3 L458.6,1609.3 L461.6,1609.2 L464.6,1609.2 L467.6,1609.2 L470.6,1609.2 L473.7,1609.1 L476.7,1609.1 L479.7,1609.1 L482.7,1609.1 L485.7,1609.0 L488.7,1609.0 L491.7,1609.0 L494.7,1608.9 L497.7,1608.9 L500.7,1608.9 L503.7,1608.8 L506.7,1608.8 L509.7,1608.7 L512.7,1608.7 L515.7,1608.7 L518.7,1608.6 L521.7,1608.6 L524.7,1608.5 L527.8,1608.5 L530.8,1608.4 L533.8,1608.4 L536.8,1608.3 L539.8,1608.3 L542.8,1608.2 L545.8,1608.1 L548.8,1608.1 L551.8,1608.0 L554.8,1608.0 L557.8,1607.9 L560.8,1607.8 L563.8,1607.8 L566.8,1607.7 L569.8,1607.6 L572.8,1607.5 L575.8,1607.5 L578.9,1607.4 L581.9,1607.3 L584.9,1607.2 L587.9,1607.1 L590.9,1607.1 L593.9,1607.0 L596.9,1606.9 L599.9,1606.8 L602.9,1606.7 L605.9,1606.6 L608.9,1606.5 L611.9,1606.4 L614.9,1606.3 L617.9,1606.2 L620.9,1606.1 L623.9,1606.0 L626.9,1605.9 L630.0,1605.8 L633.0,1605.6 L636.0,1605.5 L639.0,1605.4 L642.0,1605.3 L645.0,1605.2 L648.0,1605.0 L651.0,1604.9 L654.0,1604.8 L657.0,1604.7 L660.0,1604.6 L663.0,1604.4 L666.0,1604.3 L669.0,1604.2 L672.0,1604.0 L675.0,1603.9 L678.0,1603.8 L681.1,1603.7 L684.1,1603.5 L687.1,1603.4 L690.1,1603.3 L693.1,1603.1 L696.1,1603.0 L699.1,1602.9 L702.1,1602.8 L705.1,1602.6 L708.1,1602.5 L711.1,1602.4 L714.1,1602.3 L717.1,1602.1 L720.1,1602.0 L723.1,1601.9 L726.1,1601.8 L729.1,1601.7 L732.2,1601.6 L735.2,1601.4 L738.2,1601.3 L741.2,1601.2 L744.2,1601.1 L747.2,1601.0 L750.2,1600.9 L753.2,1600.8 L756.2,1600.7 L759.2,1600.6 L762.2,1600.5 L765.2,1600.4 L768.2,1600.4 L771.2,1600.3 L774.2,1600.2 L777.2,1600.1 L780.2,1600.0 L783.2,1600.0 L786.3,1599.9 L789.3,1599.8 L792.3,1599.8 L795.3,1599.7 L798.3,1599.7 L801.3,1599.6 L804.3,1599.6 L807.3,1599.6 L810.3,1599.5 L813.3,1599.5 L816.3,1599.5 L819.3,1599.4 L822.3,1599.4 L825.3,1599.4 L828.3,1599.4 L831.3,1599.4 L834.3,1599.4 L837.4,1599.4 L840.4,1599.4 L843.4,1599.5 L846.4,1599.5 L849.4,1599.5 L852.4,1599.6 L855.4,1599.6 L858.4,1599.7 L861.4,1599.7 L864.4,1599.8 L867.4,1599.8 L870.4,1599.9 L873.4,1600.0 L876.4,1600.1 L879.4,1600.1 L882.4,1600.2 L885.4,1600.3 L888.5,1600.4 L891.5,1600.5 L894.5,1600.6 L897.5,1600.8 L900.5,1600.9 L903.5,1601.0 L906.5,1601.1 L909.5,1601.3 L912.5,1601.4 L915.5,1601.5 L918.5,1601.7 L921.5,1601.8 L924.5,1602.0 L927.5,1602.2 L930.5,1602.3 L933.5,1602.5 L936.5,1602.7 L939.6,1602.8 L942.6,1603.0 L945.6,1603.2 L948.6,1603.4 L951.6,1603.5 L954.6,1603.7 L957.6,1603.9 L960.6,1604.1 L963.6,1604.3 L966.6,1604.5 L969.6,1604.7 L972.6,1604.9 L975.6,1605.1 L978.6,1605.3 L981.6,1605.5 L984.6,1605.8 L987.6,1606.0 L990.6,1606.2 L993.7,1606.4 L996.7,1606.6 L999.7,1606.8 L1002.7,1607.1 L1005.7,1607.3 L1008.7,1607.5 L1011.7,1607.7 L1014.7,1607.9 L1017.7,1608.2 L1020.7,1608.4 L1023.7,1608.6 L1026.7,1608.9 L1029.7,1609.1 L1032.7,1609.3 L1035.7,1609.5 L1038.7,1609.8 L1041.7,1610.0 L1044.8,1610.2 L1047.8,1610.4 L1050.8,1610.7 L1053.8,1610.9 L1056.8,1611.1 L1059.8,1611.3 L1062.8,1611.6 L1065.8,1611.8 L1068.8,1612.0 L1071.8,1612.2 L1074.8,1612.5 L1077.8,1612.7 L1080.8,1612.9 L1083.8,1613.1 L1086.8,1613.3 L1089.8,1613.5 L1092.8,1613.7 L1095.9,1614.0 L1098.9,1614.2 L1101.9,1614.4 L1104.9,1614.6 L1107.9,1614.8 L1110.9,1615.0 L1113.9,1615.2 L1116.9,1615.4 L1119.9,1615.6 L1122.9,1615.8 L1125.9,1616.0 L1128.9,1616.2 L1131.9,1616.4 L1134.9,1616.6 L1137.9,1616.8 L1140.9,1617.0 L1143.9,1617.2 L1147.0,1617.4 L1150.0,1617.5 L1153.0,1617.7 L1156.0,1617.9 L1159.0,1618.1 L1162.0,1618.3 L1165.0,1618.4 L1168.0,1618.6 L1171.0,1618.8 L1174.0,1618.9 L1177.0,1619.1 L1180.0,1619.3 L1183.0,1619.4 L1186.0,1619.6 L1189.0,1619.8 L1192.0,1619.9 L1195.0,1620.1 L1198.1,1620.2 L1201.1,1620.4 L1204.1,1620.6 L1207.1,1620.7 L1210.1,1620.9 L1213.1,1621.0 L1216.1,1621.1 L1219.1,1621.3 L1222.1,1621.4 L1225.1,1621.6 L1228.1,1621.7 L1231.1,1621.8 L1234.1,1622.0 L1237.1,1622.1 L1240.1,1622.3 L1243.1,1622.4 L1246.1,1622.5 L1249.1,1622.6 L1252.2,1622.8 L1255.2,1622.9 L1258.2,1623.0 L1261.2,1623.1 L1264.2,1623.2 L1267.2,1623.4 L1270.2,1623.5 L1273.2,1623.6 L1276.2,1623.7 L1279.2,1623.8 L1282.2,1623.9 L1285.2,1624.0 L1288.2,1624.1 L1291.2,1624.2 L1294.2,1624.3 L1297.2,1624.4 L1300.2,1624.5 L1303.3,1624.6 L1306.3,1624.7 L1309.3,1624.8 L1312.3,1624.9 L1315.3,1625.0 L1318.3,1625.1 L1321.3,1625.2 L1324.3,1625.3 L1327.3,1625.3 L1330.3,1625.4 L1333.3,1625.5 L1336.3,1625.6 L1339.3,1625.7 L1342.3,1625.7 L1345.3,1625.8 L1348.3,1625.9 L1351.3,1626.0 L1354.4,1626.0 L1357.4,1626.1 L1360.4,1626.2 L1363.4,1626.2 L1366.4,1626.3 L1369.4,1626.4 L1372.4,1626.4 L1375.4,1626.5 L1378.4,1626.5 L1381.4,1626.6 L1384.4,1626.6 L1387.4,1626.7 L1390.4,1626.7 L1393.4,1626.8 L1396.4,1626.8 L1399.4,1626.9 L1402.4,1626.9 L1405.5,1627.0 L1408.5,1627.0 L1411.5,1627.1 L1414.5,1627.1 L1417.5,1627.1 L1420.5,1627.2 L1423.5,1627.2 L1426.5,1627.2 L1429.5,1627.3 L1432.5,1627.3 L1435.5,1627.3 L1438.5,1627.4 L1441.5,1627.4 L1444.5,1627.4 L1447.5,1627.4 L1450.5,1627.5 L1453.5,1627.5 L1456.6,1627.5 L1459.6,1627.5 L1462.6,1627.5 L1465.6,1627.5 L1468.6,1627.6 L1471.6,1627.6 L1474.6,1627.6 L1477.6,1627.6 L1480.6,1627.6 L1483.6,1627.6 L1486.6,1627.6 L1489.6,1627.6 L1492.6,1627.6 L1495.6,1627.6 L1498.6,1627.6 L1501.6,1627.6 L1504.6,1627.6 L1507.6,1627.6 L1510.7,1627.6 L1513.7,1627.6 L1516.7,1627.6 L1519.7,1627.6 L1522.7,1627.5 L1525.7,1627.5 L1528.7,1627.5 L1531.7,1627.5 L1534.7,1627.5 L1537.7,1627.5 L1540.7,1627.5 L1543.7,1627.4 L1546.7,1627.4 L1549.7,1627.4 L1552.7,1627.4 L1555.7,1627.3 L1558.7,1627.3 L1561.8,1627.3 L1564.8,1627.2 L1567.8,1627.2 L1570.8,1627.2 L1573.8,1627.1 L1576.8,1627.1 L1579.8,1627.1 L1582.8,1627.0 L1585.8,1627.0" fill="none" stroke="#000080" stroke-width="6.6" stroke-linejoin="round"/>
<path d="M700.0,1605.5 L703.0,1605.4 L706.0,1605.3 L709.0,1605.2 L712.0,1605.1 L715.0,1605.0 L718.0,1605.0 L721.1,1604.9 L724.1,1604.8 L727.1,1604.7 L730.1,1604.6 L733.1,1604.5 L736.1,1604.4 L739.1,1604.3 L742.1,1604.2 L745.1,1604.1 L748.1,1604.0 L751.1,1603.9 L754.1,1603.8 L757.1,1603.7 L760.1,1603.6 L763.2,1603.4 L766.2,1603.3 L769.2,1603.1 L772.2,1602.9 L775.2,1602.8 L778.2,1602.6 L781.2,1602.4 L784.2,1602.2 L787.2,1602.0 L790.2,1601.7 L793.2,1601.5 L796.2,1601.2 L799.2,1600.9 L802.3,1600.6 L805.3,1600.3 L808.3,1600.0 L811.3,1599.7 L814.3,1599.3 L817.3,1598.9 L820.3,1598.5 L823.3,1598.1 L826.3,1597.7 L829.3,1597.2 L832.3,1596.7 L835.3,1596.2 L838.3,1595.7 L841.4,1595.2 L844.4,1594.6 L847.4,1594.0 L850.4,1593.4 L853.4,1592.7 L856.4,1592.1 L859.4,1591.4 L862.4,1590.6 L865.4,1589.9 L868.4,1589.1 L871.4,1588.3 L874.4,1587.4 L877.4,1586.6 L880.4,1585.7 L883.5,1584.7 L886.5,1583.8 L889.5,1582.8 L892.5,1581.7 L895.5,1580.7 L898.5,1579.6 L901.5,1578.4 L904.5,1577.3 L907.5,1576.1 L910.5,1574.8 L913.5,1573.5 L916.5,1572.2 L919.5,1570.9 L922.6,1569.5 L925.6,1568.0 L928.6,1566.5 L931.6,1565.0 L934.6,1563.5 L937.6,1561.9 L940.6,1560.2 L943.6,1558.5 L946.6,1556.8 L949.6,1555.0 L952.6,1553.2 L955.6,1551.3 L958.6,1549.4 L961.7,1547.5 L964.7,1545.4 L967.7,1543.4 L970.7,1541.3 L973.7,1539.1 L976.7,1536.9 L979.7,1534.7 L982.7,1532.4 L985.7,1530.0 L988.7,1527.6 L991.7,1525.1 L994.7,1522.6 L997.7,1520.0 L1000.7,1517.4 L1003.8,1514.7 L1006.8,1512.0 L1009.8,1509.2 L1012.8,1506.3 L1015.8,1503.4 L1018.8,1500.4 L1021.8,1497.3 L1024.8,1494.1 L1027.8,1490.9 L1030.8,1487.6 L1033.8,1484.3 L1036.8,1480.8 L1039.8,1477.3 L1042.9,1473.7 L1045.9,1470.0 L1048.9,1466.3 L1051.9,1462.4 L1054.9,1458.5 L1057.9,1454.4 L1060.9,1450.3 L1063.9,1446.1 L1066.9,1441.8 L1069.9,1437.4 L1072.9,1432.9 L1075.9,1428.3 L1078.9,1423.6 L1082.0,1418.8 L1085.0,1413.9 L1088.0,1408.8 L1091.0,1403.7 L1094.0,1398.6 L1097.0,1393.4 L1100.0,1388.2 L1103.0,1383.0 L1106.0,1377.8 L1109.0,1372.6 L1112.0,1367.5 L1115.0,1362.5 L1118.0,1357.5 L1121.0,1352.7 L1124.1,1348.0 L1127.1,1343.5 L1130.1,1339.1 L1133.1,1334.9 L1136.1,1331.0 L1139.1,1327.3 L1142.1,1323.8 L1145.1,1320.6 L1148.1,1317.7 L1151.1,1315.1 L1154.1,1312.8 L1157.1,1310.9 L1160.1,1309.3 L1163.2,1308.2 L1166.2,1307.4 L1169.2,1307.0 L1172.2,1307.0 L1175.2,1307.4 L1178.2,1308.1 L1181.2,1309.2 L1184.2,1310.6 L1187.2,1312.4 L1190.2,1314.4 L1193.2,1316.7 L1196.2,1319.4 L1199.2,1322.2 L1202.2,1325.4 L1205.3,1328.7 L1208.3,1332.3 L1211.3,1336.1 L1214.3,1340.2 L1217.3,1344.4 L1220.3,1348.8 L1223.3,1353.3 L1226.3,1358.0 L1229.3,1362.8 L1232.3,1367.8 L1235.3,1372.9 L1238.3,1378.0 L1241.3,1383.3 L1244.4,1388.6 L1247.4,1394.0 L1250.4,1399.5 L1253.4,1404.9 L1256.4,1410.4 L1259.4,1415.9 L1262.4,1421.3 L1265.4,1426.8 L1268.4,1432.2 L1271.4,1437.5 L1274.4,1442.7 L1277.4,1447.9 L1280.4,1453.0 L1283.5,1457.9 L1286.5,1462.7 L1289.5,1467.4 L1292.5,1471.9 L1295.5,1476.3 L1298.5,1480.6 L1301.5,1484.7 L1304.5,1488.7 L1307.5,1492.6 L1310.5,1496.4 L1313.5,1500.1 L1316.5,1503.7 L1319.5,1507.2 L1322.5,1510.5 L1325.6,1513.8 L1328.6,1517.0 L1331.6,1520.2 L1334.6,1523.2 L1337.6,1526.2 L1340.6,1529.1 L1343.6,1531.9 L1346.6,1534.7 L1349.6,1537.3 L1352.6,1539.9 L1355.6,1542.5 L1358.6,1544.9 L1361.6,1547.3 L1364.7,1549.7 L1367.7,1551.9 L1370.7,1554.1 L1373.7,1556.3 L1376.7,1558.4 L1379.7,1560.4 L1382.7,1562.3 L1385.7,1564.2 L1388.7,1566.1 L1391.7,1567.9 L1394.7,1569.6 L1397.7,1571.3 L1400.7,1572.9 L1403.8,1574.5 L1406.8,1576.0 L1409.8,1577.5 L1412.8,1578.9 L1415.8,1580.3 L1418.8,1581.6 L1421.8,1582.9 L1424.8,1584.2 L1427.8,1585.4 L1430.8,1586.6 L1433.8,1587.7 L1436.8,1588.8 L1439.8,1589.9 L1442.8,1590.9 L1445.9,1591.9 L1448.9,1592.8 L1451.9,1593.8 L1454.9,1594.6 L1457.9,1595.5 L1460.9,1596.4 L1463.9,1597.2 L1466.9,1597.9 L1469.9,1598.7 L1472.9,1599.4 L1475.9,1600.2 L1478.9,1600.9 L1481.9,1601.5 L1485.0,1602.2 L1488.0,1602.8 L1491.0,1603.5 L1494.0,1604.1 L1497.0,1604.7 L1500.0,1605.2 L1503.0,1605.8 L1506.0,1606.4 L1509.0,1606.9 L1512.0,1607.5 L1515.0,1608.0 L1518.0,1608.5 L1521.0,1609.1 L1524.1,1609.6 L1527.1,1610.1 L1530.1,1610.7 L1533.1,1611.2 L1536.1,1611.7 L1539.1,1612.2 L1542.1,1612.8 L1545.1,1613.3 L1548.1,1613.9 L1551.1,1614.4 L1554.1,1615.0 L1557.1,1615.6 L1560.1,1616.2 L1563.1,1616.8 L1566.2,1617.4 L1569.2,1618.0 L1572.2,1618.7 L1575.2,1619.3 L1578.2,1620.0 L1581.2,1620.7 L1584.2,1621.4" fill="none" stroke="#008080" stroke-width="6.6" stroke-linejoin="round"/>
<path d="M137.0,2051.5 L200.0,2051.0 L230.0,2054.5 L260.0,2051.0 L300.0,2050.0 L330.0,2053.5 L360.0,2051.0 L400.0,2050.5 L420.0,2052.5 L450.0,2051.0 L500.0,2050.0 L600.0,2046.1 L690.6,2041.0 L781.3,2032.5 L856.8,2023.4 L880.0,2018.7 L946.5,2000.6 L970.6,1988.5 L1016.0,1947.7 L1049.2,1905.4 L1061.3,1884.3 L1091.5,1829.9 L1121.7,1769.5 L1142.8,1745.3 L1164.0,1742.3 L1182.1,1733.2 L1200.2,1739.3 L1221.4,1775.5 L1242.5,1811.8 L1280.0,1881.3 L1288.3,1901.5 L1305.3,1940.2 L1324.6,1976.4 L1348.8,2012.7 L1372.9,2036.9 L1409.2,2056.2 L1457.5,2064.7 L1505.9,2068.3 L1560.0,2069.5 L1676.0,2071.0" fill="none" stroke="#000000" stroke-width="6.5" stroke-linejoin="miter" stroke-miterlimit="3"/>
<path d="M400.0,2051.2 L403.0,2050.9 L406.0,2050.7 L409.0,2050.6 L412.0,2050.4 L415.0,2050.2 L418.0,2050.0 L421.0,2049.9 L424.0,2049.7 L427.0,2049.6 L430.0,2049.4 L433.0,2049.3 L436.0,2049.1 L439.0,2049.0 L442.0,2048.9 L445.0,2048.8 L448.0,2048.7 L451.0,2048.6 L454.0,2048.5 L457.0,2048.4 L460.0,2048.3 L463.0,2048.2 L466.1,2048.1 L469.1,2048.0 L472.1,2048.0 L475.1,2047.9 L478.1,2047.8 L481.1,2047.8 L484.1,2047.7 L487.1,2047.7 L490.1,2047.6 L493.1,2047.6 L496.1,2047.5 L499.1,2047.5 L502.1,2047.5 L505.1,2047.4 L508.1,2047.4 L511.1,2047.4 L514.1,2047.4 L517.1,2047.3 L520.1,2047.3 L523.1,2047.3 L526.1,2047.3 L529.1,2047.3 L532.1,2047.3 L535.1,2047.2 L538.1,2047.2 L541.1,2047.2 L544.1,2047.2 L547.1,2047.2 L550.1,2047.2 L553.1,2047.2 L556.1,2047.2 L559.1,2047.2 L562.1,2047.2 L565.1,2047.2 L568.1,2047.2 L571.1,2047.2 L574.1,2047.2 L577.1,2047.2 L580.1,2047.2 L583.1,2047.2 L586.1,2047.2 L589.1,2047.2 L592.2,2047.2 L595.2,2047.2 L598.2,2047.2 L601.2,2047.2 L604.2,2047.2 L607.2,2047.2 L610.2,2047.2 L613.2,2047.2 L616.2,2047.2 L619.2,2047.2 L622.2,2047.2 L625.2,2047.2 L628.2,2047.1 L631.2,2047.1 L634.2,2047.1 L637.2,2047.1 L640.2,2047.0 L643.2,2047.0 L646.2,2047.0 L649.2,2046.9 L652.2,2046.9 L655.2,2046.9 L658.2,2046.8 L661.2,2046.8 L664.2,2046.7 L667.2,2046.6 L670.2,2046.6 L673.2,2046.5 L676.2,2046.4 L679.2,2046.4 L682.2,2046.3 L685.2,2046.2 L688.2,2046.1 L691.2,2046.0 L694.2,2045.9 L697.2,2045.8 L700.2,2045.7 L703.2,2045.6 L706.2,2045.5 L709.2,2045.3 L712.2,2045.2 L715.2,2045.1 L718.2,2044.9 L721.3,2044.8 L724.3,2044.6 L727.3,2044.4 L730.3,2044.3 L733.3,2044.1 L736.3,2043.9 L739.3,2043.7 L742.3,2043.5 L745.3,2043.3 L748.3,2043.1 L751.3,2042.9 L754.3,2042.7 L757.3,2042.4 L760.3,2042.2 L763.3,2041.9 L766.3,2041.7 L769.3,2041.4 L772.3,2041.1 L775.3,2040.8 L778.3,2040.6 L781.3,2040.3 L784.3,2039.9 L787.3,2039.6 L790.3,2039.3 L793.3,2039.0 L796.3,2038.6 L799.3,2038.3 L802.3,2037.9 L805.3,2037.5 L808.3,2037.1 L811.3,2036.7 L814.3,2036.3 L817.3,2035.9 L820.3,2035.5 L823.3,2035.0 L826.3,2034.6 L829.3,2034.1 L832.3,2033.7 L835.3,2033.2 L838.3,2032.7 L841.3,2032.2 L844.3,2031.7 L847.4,2031.2 L850.4,2030.6 L853.4,2030.1 L856.4,2029.5 L859.4,2028.9 L862.4,2028.3 L865.4,2027.7 L868.4,2027.1 L871.4,2026.5 L874.4,2025.8 L877.4,2025.2 L880.4,2024.5 L883.4,2023.8 L886.4,2023.0 L889.4,2022.3 L892.4,2021.5 L895.4,2020.6 L898.4,2019.8 L901.4,2018.9 L904.4,2018.0 L907.4,2017.1 L910.4,2016.1 L913.4,2015.1 L916.4,2014.0 L919.4,2012.9 L922.4,2011.8 L925.4,2010.6 L928.4,2009.4 L931.4,2008.2 L934.4,2006.8 L937.4,2005.5 L940.4,2004.1 L943.4,2002.7 L946.4,2001.2 L949.4,1999.6 L952.4,1998.0 L955.4,1996.4 L958.4,1994.6 L961.4,1992.9 L964.4,1991.0 L967.4,1989.2 L970.4,1987.2 L973.4,1985.2 L976.5,1983.1 L979.5,1981.0 L982.5,1978.8 L985.5,1976.5 L988.5,1974.2 L991.5,1971.8 L994.5,1969.3 L997.5,1966.7 L1000.5,1964.1 L1003.5,1961.4 L1006.5,1958.6 L1009.5,1955.7 L1012.5,1952.8 L1015.5,1949.8 L1018.5,1946.6 L1021.5,1943.4 L1024.5,1940.2 L1027.5,1936.8 L1030.5,1933.3 L1033.5,1929.8 L1036.5,1926.1 L1039.5,1922.4 L1042.5,1918.5 L1045.5,1914.6 L1048.5,1910.6 L1051.5,1906.4 L1054.5,1902.2 L1057.5,1897.8 L1060.5,1893.4 L1063.5,1888.8 L1066.5,1884.1 L1069.5,1879.3 L1072.5,1874.5 L1075.5,1869.5 L1078.5,1864.4 L1081.5,1859.2 L1084.5,1853.9 L1087.5,1848.5 L1090.5,1843.1 L1093.5,1837.5 L1096.5,1831.9 L1099.5,1826.2 L1102.6,1820.5 L1105.6,1814.8 L1108.6,1809.1 L1111.6,1803.5 L1114.6,1798.1 L1117.6,1792.7 L1120.6,1787.4 L1123.6,1782.4 L1126.6,1777.5 L1129.6,1772.8 L1132.6,1768.4 L1135.6,1764.2 L1138.6,1760.2 L1141.6,1756.5 L1144.6,1753.0 L1147.6,1749.8 L1150.6,1747.0 L1153.6,1744.4 L1156.6,1742.1 L1159.6,1740.2 L1162.6,1738.6 L1165.6,1737.4 L1168.6,1736.6 L1171.6,1736.1 L1174.6,1736.0 L1177.6,1736.3 L1180.6,1737.1 L1183.6,1738.3 L1186.6,1739.9 L1189.6,1741.9 L1192.6,1744.3 L1195.6,1747.1 L1198.6,1750.3 L1201.6,1753.8 L1204.6,1757.5 L1207.6,1761.6 L1210.6,1766.0 L1213.6,1770.6 L1216.6,1775.5 L1219.6,1780.6 L1222.6,1785.9 L1225.6,1791.4 L1228.6,1797.0 L1231.7,1802.8 L1234.7,1808.7 L1237.7,1814.7 L1240.7,1820.8 L1243.7,1827.0 L1246.7,1833.2 L1249.7,1839.4 L1252.7,1845.7 L1255.7,1852.0 L1258.7,1858.2 L1261.7,1864.4 L1264.7,1870.5 L1267.7,1876.5 L1270.7,1882.5 L1273.7,1888.3 L1276.7,1894.0 L1279.7,1899.5 L1282.7,1904.8 L1285.7,1910.0 L1288.7,1915.0 L1291.7,1919.8 L1294.7,1924.4 L1297.7,1929.0 L1300.7,1933.3 L1303.7,1937.5 L1306.7,1941.6 L1309.7,1945.6 L1312.7,1949.4 L1315.7,1953.1 L1318.7,1956.7 L1321.7,1960.1 L1324.7,1963.5 L1327.7,1966.7 L1330.7,1969.9 L1333.7,1973.0 L1336.7,1976.0 L1339.7,1978.9 L1342.7,1981.7 L1345.7,1984.5 L1348.7,1987.1 L1351.7,1989.7 L1354.7,1992.3 L1357.8,1994.7 L1360.8,1997.1 L1363.8,1999.4 L1366.8,2001.7 L1369.8,2003.9 L1372.8,2006.0 L1375.8,2008.0 L1378.8,2010.0 L1381.8,2012.0 L1384.8,2013.9 L1387.8,2015.7 L1390.8,2017.4 L1393.8,2019.2 L1396.8,2020.8 L1399.8,2022.4 L1402.8,2024.0 L1405.8,2025.5 L1408.8,2027.0 L1411.8,2028.4 L1414.8,2029.8 L1417.8,2031.2 L1420.8,2032.5 L1423.8,2033.7 L1426.8,2034.9 L1429.8,2036.1 L1432.8,2037.3 L1435.8,2038.4 L1438.8,2039.5 L1441.8,2040.6 L1444.8,2041.6 L1447.8,2042.6 L1450.8,2043.6 L1453.8,2044.6 L1456.8,2045.5 L1459.8,2046.4 L1462.8,2047.3 L1465.8,2048.2 L1468.8,2049.0 L1471.8,2049.9 L1474.8,2050.7 L1477.8,2051.5 L1480.8,2052.3 L1483.8,2053.0 L1486.9,2053.8 L1489.9,2054.5 L1492.9,2055.2 L1495.9,2055.9 L1498.9,2056.6 L1501.9,2057.2 L1504.9,2057.8 L1507.9,2058.5 L1510.9,2059.0 L1513.9,2059.6 L1516.9,2060.2 L1519.9,2060.7 L1522.9,2061.3 L1525.9,2061.8 L1528.9,2062.3 L1531.9,2062.7 L1534.9,2063.2 L1537.9,2063.7 L1540.9,2064.1 L1543.9,2064.5 L1546.9,2064.9 L1549.9,2065.3 L1552.9,2065.7 L1555.9,2066.0 L1558.9,2066.4 L1561.9,2066.7 L1564.9,2067.0 L1567.9,2067.3 L1570.9,2067.6 L1573.9,2067.8 L1576.9,2068.1 L1579.9,2068.3 L1582.9,2068.6 L1585.9,2068.8 L1588.9,2069.0 L1591.9,2069.2 L1594.9,2069.4 L1597.9,2069.5 L1600.9,2069.7 L1603.9,2069.8 L1606.9,2069.9 L1609.9,2070.1 L1613.0,2070.2 L1616.0,2070.3 L1619.0,2070.3 L1622.0,2070.4 L1625.0,2070.5 L1628.0,2070.5 L1631.0,2070.6 L1634.0,2070.6 L1637.0,2070.6 L1640.0,2070.6 L1643.0,2070.6 L1646.0,2070.6 L1649.0,2070.6 L1652.0,2070.6 L1655.0,2070.5 L1658.0,2070.5 L1661.0,2070.4 L1664.0,2070.3 L1667.0,2070.3 L1670.0,2070.2 L1673.0,2070.1 L1676.0,2070.0" fill="none" stroke="#FF0000" stroke-width="6.6" stroke-linejoin="round"/>
<path d="M600.0,2049.0 L603.0,2048.4 L606.0,2047.9 L609.0,2047.4 L612.0,2046.9 L615.0,2046.5 L618.0,2046.1 L621.0,2045.7 L624.0,2045.3 L627.1,2045.0 L630.1,2044.7 L633.1,2044.4 L636.1,2044.1 L639.1,2043.8 L642.1,2043.6 L645.1,2043.4 L648.1,2043.2 L651.1,2043.0 L654.1,2042.9 L657.1,2042.8 L660.1,2042.6 L663.1,2042.5 L666.1,2042.4 L669.1,2042.4 L672.1,2042.3 L675.1,2042.3 L678.1,2042.2 L681.2,2042.2 L684.2,2042.2 L687.2,2042.2 L690.2,2042.2 L693.2,2042.2 L696.2,2042.3 L699.2,2042.3 L702.2,2042.3 L705.2,2042.4 L708.2,2042.4 L711.2,2042.5 L714.2,2042.5 L717.2,2042.6 L720.2,2042.7 L723.2,2042.7 L726.2,2042.8 L729.2,2042.9 L732.2,2042.9 L735.3,2043.0 L738.3,2043.1 L741.3,2043.1 L744.3,2043.2 L747.3,2043.3 L750.3,2043.3 L753.3,2043.4 L756.3,2043.4 L759.3,2043.4 L762.3,2043.5 L765.3,2043.5 L768.3,2043.5 L771.3,2043.5 L774.3,2043.5 L777.3,2043.5 L780.3,2043.4 L783.3,2043.4 L786.3,2043.3 L789.4,2043.3 L792.4,2043.2 L795.4,2043.1 L798.4,2043.0 L801.4,2042.8 L804.4,2042.7 L807.4,2042.5 L810.4,2042.3 L813.4,2042.1 L816.4,2041.9 L819.4,2041.7 L822.4,2041.4 L825.4,2041.1 L828.4,2040.8 L831.4,2040.5 L834.4,2040.1 L837.4,2039.7 L840.4,2039.3 L843.5,2038.9 L846.5,2038.4 L849.5,2037.9 L852.5,2037.4 L855.5,2036.9 L858.5,2036.3 L861.5,2035.7 L864.5,2035.0 L867.5,2034.4 L870.5,2033.7 L873.5,2032.9 L876.5,2032.2 L879.5,2031.4 L882.5,2030.5 L885.5,2029.6 L888.5,2028.7 L891.5,2027.8 L894.5,2026.8 L897.6,2025.8 L900.6,2024.7 L903.6,2023.6 L906.6,2022.4 L909.6,2021.2 L912.6,2020.0 L915.6,2018.7 L918.6,2017.4 L921.6,2016.1 L924.6,2014.7 L927.6,2013.2 L930.6,2011.7 L933.6,2010.2 L936.6,2008.7 L939.6,2007.1 L942.6,2005.4 L945.6,2003.8 L948.6,2002.0 L951.7,2000.3 L954.7,1998.5 L957.7,1996.7 L960.7,1994.8 L963.7,1992.9 L966.7,1991.0 L969.7,1989.1 L972.7,1987.1 L975.7,1985.0 L978.7,1983.0 L981.7,1980.9 L984.7,1978.7 L987.7,1976.5 L990.7,1974.2 L993.7,1971.9 L996.7,1969.5 L999.7,1967.0 L1002.7,1964.4 L1005.8,1961.8 L1008.8,1959.1 L1011.8,1956.3 L1014.8,1953.4 L1017.8,1950.4 L1020.8,1947.3 L1023.8,1944.1 L1026.8,1940.8 L1029.8,1937.4 L1032.8,1933.8 L1035.8,1930.2 L1038.8,1926.4 L1041.8,1922.5 L1044.8,1918.5 L1047.8,1914.4 L1050.8,1910.1 L1053.8,1905.8 L1056.8,1901.3 L1059.9,1896.8 L1062.9,1892.1 L1065.9,1887.4 L1068.9,1882.5 L1071.9,1877.6 L1074.9,1872.5 L1077.9,1867.4 L1080.9,1862.2 L1083.9,1856.9 L1086.9,1851.5 L1089.9,1846.0 L1092.9,1840.4 L1095.9,1834.7 L1098.9,1829.1 L1101.9,1823.3 L1104.9,1817.6 L1107.9,1811.9 L1110.9,1806.3 L1114.0,1800.7 L1117.0,1795.2 L1120.0,1789.9 L1123.0,1784.7 L1126.0,1779.6 L1129.0,1774.8 L1132.0,1770.1 L1135.0,1765.7 L1138.0,1761.6 L1141.0,1757.7 L1144.0,1754.2 L1147.0,1751.0 L1150.0,1748.2 L1153.0,1745.7 L1156.0,1743.5 L1159.0,1741.7 L1162.0,1740.3 L1165.1,1739.2 L1168.1,1738.5 L1171.1,1738.1 L1174.1,1738.1 L1177.1,1738.5 L1180.1,1739.2 L1183.1,1740.3 L1186.1,1741.7 L1189.1,1743.5 L1192.1,1745.7 L1195.1,1748.2 L1198.1,1751.1 L1201.1,1754.4 L1204.1,1758.0 L1207.1,1761.9 L1210.1,1766.2 L1213.1,1770.8 L1216.1,1775.6 L1219.2,1780.7 L1222.2,1786.0 L1225.2,1791.4 L1228.2,1797.1 L1231.2,1802.9 L1234.2,1808.8 L1237.2,1814.8 L1240.2,1820.9 L1243.2,1827.1 L1246.2,1833.3 L1249.2,1839.5 L1252.2,1845.7 L1255.2,1851.9 L1258.2,1858.0 L1261.2,1864.1 L1264.2,1870.2 L1267.2,1876.2 L1270.2,1882.1 L1273.3,1888.0 L1276.3,1893.7 L1279.3,1899.3 L1282.3,1904.7 L1285.3,1910.0 L1288.3,1915.2 L1291.3,1920.1 L1294.3,1924.9 L1297.3,1929.5 L1300.3,1934.0 L1303.3,1938.3 L1306.3,1942.4 L1309.3,1946.4 L1312.3,1950.2 L1315.3,1953.9 L1318.3,1957.5 L1321.3,1961.0 L1324.3,1964.3 L1327.4,1967.5 L1330.4,1970.6 L1333.4,1973.6 L1336.4,1976.5 L1339.4,1979.3 L1342.4,1982.1 L1345.4,1984.7 L1348.4,1987.2 L1351.4,1989.7 L1354.4,1992.2 L1357.4,1994.5 L1360.4,1996.8 L1363.4,1999.1 L1366.4,2001.3 L1369.4,2003.4 L1372.4,2005.5 L1375.4,2007.6 L1378.4,2009.6 L1381.5,2011.6 L1384.5,2013.5 L1387.5,2015.4 L1390.5,2017.2 L1393.5,2019.0 L1396.5,2020.7 L1399.5,2022.4 L1402.5,2024.1 L1405.5,2025.7 L1408.5,2027.3 L1411.5,2028.8 L1414.5,2030.3 L1417.5,2031.8 L1420.5,2033.2 L1423.5,2034.6 L1426.5,2035.9 L1429.5,2037.2 L1432.5,2038.5 L1435.6,2039.7 L1438.6,2040.9 L1441.6,2042.0 L1444.6,2043.2 L1447.6,2044.3 L1450.6,2045.3 L1453.6,2046.3 L1456.6,2047.3 L1459.6,2048.3 L1462.6,2049.2 L1465.6,2050.1 L1468.6,2051.0 L1471.6,2051.8 L1474.6,2052.6 L1477.6,2053.4 L1480.6,2054.2 L1483.6,2054.9 L1486.6,2055.6 L1489.7,2056.3 L1492.7,2056.9 L1495.7,2057.5 L1498.7,2058.1 L1501.7,2058.7 L1504.7,2059.3 L1507.7,2059.8 L1510.7,2060.3 L1513.7,2060.8 L1516.7,2061.3 L1519.7,2061.7 L1522.7,2062.1 L1525.7,2062.5 L1528.7,2062.9 L1531.7,2063.3 L1534.7,2063.6 L1537.7,2064.0 L1540.7,2064.3 L1543.8,2064.6 L1546.8,2064.9 L1549.8,2065.2 L1552.8,2065.4 L1555.8,2065.7 L1558.8,2065.9 L1561.8,2066.1 L1564.8,2066.3 L1567.8,2066.5 L1570.8,2066.7 L1573.8,2066.9 L1576.8,2067.1 L1579.8,2067.2 L1582.8,2067.4 L1585.8,2067.5 L1588.8,2067.6 L1591.8,2067.8 L1594.8,2067.9 L1597.9,2068.0 L1600.9,2068.1 L1603.9,2068.2 L1606.9,2068.3 L1609.9,2068.4 L1612.9,2068.5 L1615.9,2068.6 L1618.9,2068.7 L1621.9,2068.8 L1624.9,2068.9 L1627.9,2069.0 L1630.9,2069.1 L1633.9,2069.2 L1636.9,2069.3 L1639.9,2069.4 L1642.9,2069.5 L1645.9,2069.6 L1648.9,2069.7 L1652.0,2069.8 L1655.0,2069.9 L1658.0,2070.1 L1661.0,2070.2 L1664.0,2070.3 L1667.0,2070.5 L1670.0,2070.6 L1673.0,2070.8 L1676.0,2071.0" fill="none" stroke="#008000" stroke-width="6.6" stroke-linejoin="round"/>
<path d="M400.0,2051.6 L403.0,2051.6 L406.0,2051.7 L409.0,2051.7 L412.0,2051.7 L415.0,2051.8 L418.0,2051.8 L421.0,2051.8 L424.0,2051.8 L427.0,2051.9 L430.0,2051.9 L433.0,2051.9 L436.0,2051.9 L439.0,2051.9 L442.0,2051.9 L445.0,2051.9 L448.0,2051.9 L451.0,2051.9 L454.0,2051.8 L457.0,2051.8 L460.0,2051.8 L463.0,2051.8 L466.1,2051.8 L469.1,2051.7 L472.1,2051.7 L475.1,2051.7 L478.1,2051.6 L481.1,2051.6 L484.1,2051.6 L487.1,2051.5 L490.1,2051.5 L493.1,2051.4 L496.1,2051.4 L499.1,2051.3 L502.1,2051.3 L505.1,2051.2 L508.1,2051.2 L511.1,2051.1 L514.1,2051.1 L517.1,2051.0 L520.1,2050.9 L523.1,2050.9 L526.1,2050.8 L529.1,2050.8 L532.1,2050.7 L535.1,2050.6 L538.1,2050.5 L541.1,2050.5 L544.1,2050.4 L547.1,2050.3 L550.1,2050.3 L553.1,2050.2 L556.1,2050.1 L559.1,2050.0 L562.1,2049.9 L565.1,2049.9 L568.1,2049.8 L571.1,2049.7 L574.1,2049.6 L577.1,2049.5 L580.1,2049.4 L583.1,2049.4 L586.1,2049.3 L589.1,2049.2 L592.2,2049.1 L595.2,2049.0 L598.2,2048.9 L601.2,2048.8 L604.2,2048.7 L607.2,2048.7 L610.2,2048.6 L613.2,2048.5 L616.2,2048.4 L619.2,2048.3 L622.2,2048.2 L625.2,2048.1 L628.2,2048.0 L631.2,2047.9 L634.2,2047.9 L637.2,2047.8 L640.2,2047.7 L643.2,2047.6 L646.2,2047.5 L649.2,2047.4 L652.2,2047.3 L655.2,2047.2 L658.2,2047.2 L661.2,2047.1 L664.2,2047.0 L667.2,2046.9 L670.2,2046.8 L673.2,2046.7 L676.2,2046.7 L679.2,2046.6 L682.2,2046.5 L685.2,2046.4 L688.2,2046.4 L691.2,2046.3 L694.2,2046.2 L697.2,2046.1 L700.2,2046.1 L703.2,2046.0 L706.2,2045.9 L709.2,2045.9 L712.2,2045.8 L715.2,2045.7 L718.2,2045.7 L721.3,2045.6 L724.3,2045.5 L727.3,2045.5 L730.3,2045.4 L733.3,2045.4 L736.3,2045.3 L739.3,2045.3 L742.3,2045.2 L745.3,2045.2 L748.3,2045.1 L751.3,2045.1 L754.3,2045.1 L757.3,2045.0 L760.3,2045.0 L763.3,2045.0 L766.3,2044.9 L769.3,2044.9 L772.3,2044.9 L775.3,2044.9 L778.3,2044.8 L781.3,2044.8 L784.3,2044.8 L787.3,2044.8 L790.3,2044.8 L793.3,2044.8 L796.3,2044.8 L799.3,2044.8 L802.3,2044.8 L805.3,2044.8 L808.3,2044.8 L811.3,2044.8 L814.3,2044.8 L817.3,2044.9 L820.3,2044.9 L823.3,2044.9 L826.3,2044.9 L829.3,2045.0 L832.3,2045.0 L835.3,2045.1 L838.3,2045.1 L841.3,2045.1 L844.3,2045.2 L847.4,2045.2 L850.4,2045.3 L853.4,2045.4 L856.4,2045.4 L859.4,2045.5 L862.4,2045.6 L865.4,2045.7 L868.4,2045.7 L871.4,2045.8 L874.4,2045.9 L877.4,2046.0 L880.4,2046.1 L883.4,2046.2 L886.4,2046.3 L889.4,2046.4 L892.4,2046.5 L895.4,2046.6 L898.4,2046.7 L901.4,2046.8 L904.4,2046.9 L907.4,2047.0 L910.4,2047.1 L913.4,2047.3 L916.4,2047.4 L919.4,2047.5 L922.4,2047.6 L925.4,2047.8 L928.4,2047.9 L931.4,2048.0 L934.4,2048.2 L937.4,2048.3 L940.4,2048.4 L943.4,2048.6 L946.4,2048.7 L949.4,2048.9 L952.4,2049.0 L955.4,2049.2 L958.4,2049.3 L961.4,2049.4 L964.4,2049.6 L967.4,2049.7 L970.4,2049.9 L973.4,2050.1 L976.5,2050.2 L979.5,2050.4 L982.5,2050.5 L985.5,2050.7 L988.5,2050.8 L991.5,2051.0 L994.5,2051.1 L997.5,2051.3 L1000.5,2051.5 L1003.5,2051.6 L1006.5,2051.8 L1009.5,2052.0 L1012.5,2052.1 L1015.5,2052.3 L1018.5,2052.5 L1021.5,2052.6 L1024.5,2052.8 L1027.5,2053.0 L1030.5,2053.1 L1033.5,2053.3 L1036.5,2053.5 L1039.5,2053.6 L1042.5,2053.8 L1045.5,2054.0 L1048.5,2054.1 L1051.5,2054.3 L1054.5,2054.5 L1057.5,2054.7 L1060.5,2054.8 L1063.5,2055.0 L1066.5,2055.2 L1069.5,2055.4 L1072.5,2055.5 L1075.5,2055.7 L1078.5,2055.9 L1081.5,2056.1 L1084.5,2056.2 L1087.5,2056.4 L1090.5,2056.6 L1093.5,2056.8 L1096.5,2057.0 L1099.5,2057.1 L1102.6,2057.3 L1105.6,2057.5 L1108.6,2057.7 L1111.6,2057.9 L1114.6,2058.0 L1117.6,2058.2 L1120.6,2058.4 L1123.6,2058.6 L1126.6,2058.8 L1129.6,2058.9 L1132.6,2059.1 L1135.6,2059.3 L1138.6,2059.5 L1141.6,2059.7 L1144.6,2059.8 L1147.6,2060.0 L1150.6,2060.2 L1153.6,2060.4 L1156.6,2060.5 L1159.6,2060.7 L1162.6,2060.9 L1165.6,2061.1 L1168.6,2061.3 L1171.6,2061.4 L1174.6,2061.6 L1177.6,2061.8 L1180.6,2062.0 L1183.6,2062.2 L1186.6,2062.3 L1189.6,2062.5 L1192.6,2062.7 L1195.6,2062.9 L1198.6,2063.0 L1201.6,2063.2 L1204.6,2063.4 L1207.6,2063.6 L1210.6,2063.7 L1213.6,2063.9 L1216.6,2064.1 L1219.6,2064.3 L1222.6,2064.4 L1225.6,2064.6 L1228.6,2064.8 L1231.7,2064.9 L1234.7,2065.1 L1237.7,2065.3 L1240.7,2065.4 L1243.7,2065.6 L1246.7,2065.8 L1249.7,2065.9 L1252.7,2066.1 L1255.7,2066.3 L1258.7,2066.4 L1261.7,2066.6 L1264.7,2066.8 L1267.7,2066.9 L1270.7,2067.1 L1273.7,2067.3 L1276.7,2067.4 L1279.7,2067.6 L1282.7,2067.7 L1285.7,2067.9 L1288.7,2068.0 L1291.7,2068.2 L1294.7,2068.3 L1297.7,2068.5 L1300.7,2068.6 L1303.7,2068.8 L1306.7,2068.9 L1309.7,2069.1 L1312.7,2069.2 L1315.7,2069.4 L1318.7,2069.5 L1321.7,2069.7 L1324.7,2069.8 L1327.7,2070.0 L1330.7,2070.1 L1333.7,2070.2 L1336.7,2070.4 L1339.7,2070.5 L1342.7,2070.7 L1345.7,2070.8 L1348.7,2070.9 L1351.7,2071.0 L1354.7,2071.2 L1357.8,2071.3 L1360.8,2071.4 L1363.8,2071.6 L1366.8,2071.7 L1369.8,2071.8 L1372.8,2071.9 L1375.8,2072.0 L1378.8,2072.2 L1381.8,2072.3 L1384.8,2072.4 L1387.8,2072.5 L1390.8,2072.6 L1393.8,2072.7 L1396.8,2072.8 L1399.8,2072.9 L1402.8,2073.1 L1405.8,2073.2 L1408.8,2073.3 L1411.8,2073.4 L1414.8,2073.5 L1417.8,2073.6 L1420.8,2073.7 L1423.8,2073.7 L1426.8,2073.8 L1429.8,2073.9 L1432.8,2074.0 L1435.8,2074.1 L1438.8,2074.2 L1441.8,2074.3 L1444.8,2074.3 L1447.8,2074.4 L1450.8,2074.5 L1453.8,2074.6 L1456.8,2074.6 L1459.8,2074.7 L1462.8,2074.8 L1465.8,2074.9 L1468.8,2074.9 L1471.8,2075.0 L1474.8,2075.0 L1477.8,2075.1 L1480.8,2075.2 L1483.8,2075.2 L1486.9,2075.3 L1489.9,2075.3 L1492.9,2075.4 L1495.9,2075.4 L1498.9,2075.4 L1501.9,2075.5 L1504.9,2075.5 L1507.9,2075.6 L1510.9,2075.6 L1513.9,2075.6 L1516.9,2075.6 L1519.9,2075.7 L1522.9,2075.7 L1525.9,2075.7 L1528.9,2075.7 L1531.9,2075.8 L1534.9,2075.8 L1537.9,2075.8 L1540.9,2075.8 L1543.9,2075.8 L1546.9,2075.8 L1549.9,2075.8 L1552.9,2075.8 L1555.9,2075.8 L1558.9,2075.8 L1561.9,2075.8 L1564.9,2075.8 L1567.9,2075.7 L1570.9,2075.7 L1573.9,2075.7 L1576.9,2075.7 L1579.9,2075.7 L1582.9,2075.6 L1585.9,2075.6 L1588.9,2075.6 L1591.9,2075.5 L1594.9,2075.5 L1597.9,2075.4 L1600.9,2075.4 L1603.9,2075.4 L1606.9,2075.3 L1609.9,2075.2 L1613.0,2075.2 L1616.0,2075.1 L1619.0,2075.1 L1622.0,2075.0 L1625.0,2074.9 L1628.0,2074.9 L1631.0,2074.8 L1634.0,2074.7 L1637.0,2074.6 L1640.0,2074.5 L1643.0,2074.4 L1646.0,2074.4 L1649.0,2074.3 L1652.0,2074.2 L1655.0,2074.1 L1658.0,2074.0 L1661.0,2073.8 L1664.0,2073.7 L1667.0,2073.6 L1670.0,2073.5 L1673.0,2073.4 L1676.0,2073.3" fill="none" stroke="#000080" stroke-width="6.6" stroke-linejoin="round"/>
<path d="M137.0,2052.6 L140.0,2052.6 L143.0,2052.6 L146.0,2052.6 L149.0,2052.5 L152.0,2052.5 L155.0,2052.5 L158.0,2052.4 L161.0,2052.4 L164.0,2052.4 L167.0,2052.4 L170.0,2052.3 L173.0,2052.3 L176.0,2052.3 L179.0,2052.2 L182.0,2052.2 L185.0,2052.2 L188.0,2052.2 L191.0,2052.1 L194.0,2052.1 L197.0,2052.1 L200.0,2052.1 L203.0,2052.0 L206.0,2052.0 L209.0,2052.0 L212.0,2052.0 L215.0,2051.9 L218.0,2051.9 L221.0,2051.9 L224.0,2051.9 L227.0,2051.8 L230.0,2051.8 L233.0,2051.8 L236.0,2051.8 L239.0,2051.7 L242.0,2051.7 L245.0,2051.7 L248.0,2051.7 L251.0,2051.7 L254.0,2051.6 L257.0,2051.6 L260.0,2051.6 L263.0,2051.6 L266.0,2051.5 L269.0,2051.5 L272.0,2051.5 L275.0,2051.5 L278.0,2051.5 L281.0,2051.4 L284.0,2051.4 L287.0,2051.4 L290.0,2051.4 L293.0,2051.4 L296.0,2051.3 L299.0,2051.3 L302.0,2051.3 L305.0,2051.3 L308.0,2051.3 L311.0,2051.3 L314.0,2051.2 L317.0,2051.2 L320.0,2051.2 L323.0,2051.2 L326.0,2051.2 L329.0,2051.1 L332.0,2051.1 L335.0,2051.1 L338.0,2051.1 L341.0,2051.1 L344.0,2051.1 L347.0,2051.1 L350.0,2051.0 L353.0,2051.0 L356.0,2051.0 L359.0,2051.0 L362.0,2051.0 L365.0,2051.0 L368.0,2051.0 L371.0,2051.0 L374.0,2050.9 L377.0,2050.9 L380.0,2050.9 L383.0,2050.9 L386.0,2050.9 L389.0,2050.9 L392.0,2050.9 L395.0,2050.9 L398.0,2050.9 L401.0,2050.9 L404.0,2050.8 L407.0,2050.8 L410.0,2050.8 L413.0,2050.8 L416.0,2050.8 L419.0,2050.8 L422.0,2050.8 L425.0,2050.8 L428.0,2050.8 L431.0,2050.8 L434.0,2050.8 L437.0,2050.8 L440.0,2050.8 L443.0,2050.8 L446.0,2050.8 L449.0,2050.8 L452.0,2050.8 L455.0,2050.8 L458.0,2050.8 L461.0,2050.8 L464.0,2050.8 L467.0,2050.8 L470.0,2050.8 L473.0,2050.8 L476.0,2050.8 L479.0,2050.8 L482.0,2050.8 L485.0,2050.8 L488.0,2050.8 L491.0,2050.8 L494.0,2050.8 L497.0,2050.8 L500.0,2050.8 L503.0,2050.8 L506.0,2050.8 L509.0,2050.8 L512.0,2050.8 L515.0,2050.8 L518.0,2050.8 L521.0,2050.8 L524.0,2050.8 L527.0,2050.8 L530.0,2050.8 L533.0,2050.9 L536.0,2050.9 L539.0,2050.9 L542.0,2050.9 L545.0,2050.9 L548.0,2050.9 L551.0,2050.9 L554.0,2050.9 L557.0,2050.9 L560.0,2051.0 L563.0,2051.0 L566.0,2051.0 L569.0,2051.0 L572.0,2051.0 L575.0,2051.0 L578.0,2051.0 L581.0,2051.1 L584.0,2051.1 L587.0,2051.1 L590.0,2051.1 L593.0,2051.1 L596.0,2051.2 L599.0,2051.2 L602.0,2051.2 L605.0,2051.2 L608.0,2051.2 L611.0,2051.3 L614.0,2051.3 L617.0,2051.3 L620.0,2051.3 L623.0,2051.3 L626.0,2051.4 L629.0,2051.4 L632.0,2051.4 L635.0,2051.5 L638.0,2051.5 L641.0,2051.5 L644.0,2051.5 L647.0,2051.6 L650.0,2051.6 L653.0,2051.6 L656.0,2051.7 L659.0,2051.7 L662.0,2051.7 L665.0,2051.7 L668.0,2051.8 L671.0,2051.8 L674.0,2051.8 L677.0,2051.9 L680.0,2051.9 L683.0,2051.9 L686.0,2052.0 L689.0,2052.0 L692.0,2052.1 L695.0,2052.1 L698.0,2052.1 L701.0,2052.2 L704.0,2052.2 L707.0,2052.3 L710.0,2052.3 L713.0,2052.3 L716.0,2052.4 L719.0,2052.4 L722.0,2052.5 L725.0,2052.5 L728.0,2052.6 L731.0,2052.6 L734.0,2052.6 L737.0,2052.7 L740.0,2052.7 L743.0,2052.8 L746.0,2052.8 L749.0,2052.9 L752.0,2052.9 L755.0,2053.0 L758.0,2053.0 L761.0,2053.1 L764.0,2053.1 L767.0,2053.2 L770.0,2053.2 L773.0,2053.3 L776.0,2053.4 L779.0,2053.4 L782.0,2053.5 L785.0,2053.5 L788.0,2053.6 L791.0,2053.6 L794.0,2053.7 L797.0,2053.8 L800.0,2053.8 L803.0,2053.9 L806.0,2053.9 L809.0,2054.0 L812.0,2054.1 L815.0,2054.1 L818.0,2054.2 L821.0,2054.3 L824.0,2054.3 L827.0,2054.4 L830.0,2054.5 L833.0,2054.5 L836.0,2054.6 L839.0,2054.7 L842.0,2054.7 L845.0,2054.8 L848.0,2054.9 L851.0,2055.0 L854.0,2055.0 L857.0,2055.1 L860.0,2055.2 L863.0,2055.3 L866.0,2055.3 L869.0,2055.4 L872.0,2055.5 L875.0,2055.6 L878.0,2055.7 L881.0,2055.7 L884.0,2055.8 L887.0,2055.9 L890.0,2056.0 L893.0,2056.1 L896.0,2056.1 L899.0,2056.2 L902.0,2056.3 L905.0,2056.4 L908.0,2056.5 L911.0,2056.6 L914.0,2056.7 L917.0,2056.8 L920.0,2056.8 L923.0,2056.9 L926.0,2057.0 L929.0,2057.1 L932.0,2057.2 L935.0,2057.3 L938.0,2057.4 L941.0,2057.5 L944.0,2057.6 L947.0,2057.7 L950.0,2057.8 L953.0,2057.9 L956.0,2058.0 L959.0,2058.1 L962.0,2058.2 L965.0,2058.3 L968.0,2058.4 L971.0,2058.5 L974.0,2058.6 L977.0,2058.7 L980.0,2058.8 L983.0,2058.9 L986.0,2059.0 L989.0,2059.1 L992.0,2059.2 L995.0,2059.3 L998.0,2059.4 L1001.0,2059.5 L1004.0,2059.6 L1007.0,2059.7 L1010.0,2059.8 L1013.0,2059.9 L1016.0,2060.0 L1019.0,2060.1 L1022.0,2060.2 L1025.0,2060.3 L1028.0,2060.4 L1031.0,2060.5 L1034.0,2060.6 L1037.0,2060.8 L1040.0,2060.9 L1043.0,2061.0 L1046.0,2061.1 L1049.0,2061.2 L1052.0,2061.3 L1055.0,2061.4 L1058.0,2061.5 L1061.0,2061.6 L1064.0,2061.7 L1067.0,2061.8 L1070.0,2061.9 L1073.0,2062.1 L1076.0,2062.2 L1079.0,2062.3 L1082.0,2062.4 L1085.0,2062.5 L1088.0,2062.6 L1091.0,2062.7 L1094.0,2062.8 L1097.0,2062.9 L1100.0,2063.1 L1103.0,2063.2 L1106.0,2063.3 L1109.0,2063.4 L1112.0,2063.5 L1115.0,2063.6 L1118.0,2063.7 L1121.0,2063.8 L1124.0,2063.9 L1127.0,2064.1 L1130.0,2064.2 L1133.0,2064.3 L1136.0,2064.4 L1139.0,2064.5 L1142.0,2064.6 L1145.0,2064.7 L1148.0,2064.8 L1151.0,2064.9 L1154.0,2065.1 L1157.0,2065.2 L1160.0,2065.3 L1163.0,2065.4 L1166.0,2065.5 L1169.0,2065.6 L1172.0,2065.7 L1175.0,2065.8 L1178.0,2065.9 L1181.0,2066.0 L1184.0,2066.2 L1187.0,2066.3 L1190.0,2066.4 L1193.0,2066.5 L1196.0,2066.6 L1199.0,2066.7 L1202.0,2066.8 L1205.0,2066.9 L1208.0,2067.0 L1211.0,2067.1 L1214.0,2067.2 L1217.0,2067.3 L1220.0,2067.4 L1223.0,2067.6 L1226.0,2067.7 L1229.0,2067.8 L1232.0,2067.9 L1235.0,2068.0 L1238.0,2068.1 L1241.0,2068.2 L1244.0,2068.3 L1247.0,2068.4 L1250.0,2068.5 L1253.0,2068.6 L1256.0,2068.7 L1259.0,2068.8 L1262.0,2068.9 L1265.0,2069.0 L1268.0,2069.1 L1271.0,2069.2 L1274.0,2069.3 L1277.0,2069.4 L1280.0,2069.5 L1283.0,2069.6 L1286.0,2069.7 L1289.0,2069.8 L1292.0,2069.9 L1295.0,2070.0 L1298.0,2070.1 L1301.0,2070.2 L1304.0,2070.3 L1307.0,2070.3 L1310.0,2070.4 L1313.0,2070.5 L1316.0,2070.6 L1319.0,2070.7 L1322.0,2070.8 L1325.0,2070.9 L1328.0,2071.0 L1331.0,2071.1 L1334.0,2071.2 L1337.0,2071.2 L1340.0,2071.3 L1343.0,2071.4 L1346.0,2071.5 L1349.0,2071.6 L1352.0,2071.7 L1355.0,2071.7 L1358.0,2071.8 L1361.0,2071.9 L1364.0,2072.0 L1367.0,2072.1 L1370.0,2072.1 L1373.0,2072.2 L1376.0,2072.3 L1379.0,2072.4 L1382.0,2072.4 L1385.0,2072.5 L1388.0,2072.6 L1391.0,2072.7 L1394.0,2072.7 L1397.0,2072.8 L1400.0,2072.9 L1403.0,2072.9 L1406.0,2073.0 L1409.0,2073.1 L1412.0,2073.1 L1415.0,2073.2 L1418.0,2073.3 L1421.0,2073.3 L1424.0,2073.4 L1427.0,2073.5 L1430.0,2073.5 L1433.0,2073.6 L1436.0,2073.6 L1439.0,2073.7 L1442.0,2073.7 L1445.0,2073.8 L1448.0,2073.9 L1451.0,2073.9 L1454.0,2074.0 L1457.0,2074.0 L1460.0,2074.1 L1463.0,2074.1 L1466.0,2074.2 L1469.0,2074.2 L1472.0,2074.2 L1475.0,2074.3 L1478.0,2074.3 L1481.0,2074.4 L1484.0,2074.4 L1487.0,2074.5 L1490.0,2074.5 L1493.0,2074.5 L1496.0,2074.6 L1499.0,2074.6 L1502.0,2074.6 L1505.0,2074.7 L1508.0,2074.7 L1511.0,2074.7 L1514.0,2074.8 L1517.0,2074.8 L1520.0,2074.8 L1523.0,2074.8 L1526.0,2074.9 L1529.0,2074.9 L1532.0,2074.9 L1535.0,2074.9 L1538.0,2074.9 L1541.0,2075.0 L1544.0,2075.0 L1547.0,2075.0 L1550.0,2075.0 L1553.0,2075.0 L1556.0,2075.0 L1559.0,2075.0 L1562.0,2075.0 L1565.0,2075.0 L1568.0,2075.0 L1571.0,2075.0 L1574.0,2075.0 L1577.0,2075.0 L1580.0,2075.0 L1583.0,2075.0 L1586.0,2075.0 L1589.0,2075.0 L1592.0,2075.0 L1595.0,2075.0 L1598.0,2075.0 L1601.0,2075.0 L1604.0,2075.0 L1607.0,2075.0 L1610.0,2074.9 L1613.0,2074.9 L1616.0,2074.9 L1619.0,2074.9 L1622.0,2074.9 L1625.0,2074.8 L1628.0,2074.8 L1631.0,2074.8 L1634.0,2074.8 L1637.0,2074.7 L1640.0,2074.7 L1643.0,2074.7 L1646.0,2074.6 L1649.0,2074.6 L1652.0,2074.5 L1655.0,2074.5 L1658.0,2074.5 L1661.0,2074.4 L1664.0,2074.4 L1667.0,2074.3 L1670.0,2074.3 L1673.0,2074.2 L1676.0,2074.2" fill="none" stroke="#FF00FF" stroke-width="6.6" stroke-linejoin="round"/>
<path d="M137.0,2718.6 L166.3,2713.5 L179.8,2721.6 L196.5,2718.6 L214.6,2708.0 L229.7,2715.6 L244.8,2712.6 L259.9,2717.7 L276.5,2708.6 L293.1,2708.6 L308.2,2711.1 L323.4,2703.5 L338.5,2704.4 L368.7,2685.4 L386.8,2686.3 L398.9,2681.8 L414.0,2691.4 L429.1,2676.3 L447.2,2682.4 L474.4,2679.3 L507.6,2661.2 L519.7,2671.8 L536.3,2677.7 L552.1,2655.1 L568.0,2650.5 L586.1,2640.3 L597.4,2639.2 L626.9,2624.5 L636.0,2616.6 L649.6,2597.3 L660.9,2579.2 L674.5,2584.8 L688.1,2579.2 L703.9,2561.0 L715.3,2552.0 L737.9,2531.6 L753.8,2529.3 L771.9,2518.0 L791.3,2504.6 L814.0,2500.0 L843.4,2479.7 L861.6,2484.2 L877.4,2467.2 L897.8,2458.1 L909.2,2451.3 L920.5,2459.3 L938.6,2460.4 L959.0,2471.7 L972.6,2476.3 L983.9,2474.0 L997.5,2485.3 L1017.9,2479.7 L1029.3,2477.4 L1047.4,2485.3 L1061.0,2501.5 L1082.7,2527.6 L1094.0,2543.4 L1107.6,2552.5 L1123.4,2572.9 L1139.3,2580.8 L1155.2,2604.6 L1173.3,2627.3 L1186.9,2639.8 L1207.3,2647.7 L1230.0,2661.3 L1248.1,2683.9 L1263.9,2697.5 L1277.5,2704.3 L1293.4,2697.5 L1322.9,2706.6 L1340.0,2731.4 L1366.4,2736.7 L1384.9,2736.7 L1414.0,2744.6 L1432.5,2732.7 L1448.4,2734.0 L1472.2,2752.5 L1503.9,2757.8 L1525.0,2756.5 L1551.5,2759.1 L1570.0,2753.8 L1585.8,2763.1 L1604.3,2764.4 L1620.2,2773.7 L1646.6,2778.4 L1670.4,2761.8 L1675.0,2760.4" fill="none" stroke="#000000" stroke-width="6.5" stroke-linejoin="miter" stroke-miterlimit="3"/>
<path d="M137.0,2725.0 L140.0,2724.8 L143.0,2724.6 L146.0,2724.4 L149.0,2724.1 L152.0,2723.9 L155.0,2723.7 L158.0,2723.5 L161.0,2723.3 L164.0,2723.2 L167.0,2723.0 L170.0,2722.8 L173.0,2722.6 L176.1,2722.4 L179.1,2722.3 L182.1,2722.1 L185.1,2721.9 L188.1,2721.7 L191.1,2721.6 L194.1,2721.4 L197.1,2721.2 L200.1,2721.1 L203.1,2720.9 L206.1,2720.8 L209.1,2720.6 L212.1,2720.4 L215.1,2720.2 L218.1,2720.1 L221.1,2719.9 L224.1,2719.7 L227.1,2719.6 L230.1,2719.4 L233.1,2719.2 L236.1,2719.0 L239.1,2718.8 L242.1,2718.6 L245.1,2718.5 L248.1,2718.3 L251.1,2718.1 L254.2,2717.8 L257.2,2717.6 L260.2,2717.4 L263.2,2717.2 L266.2,2717.0 L269.2,2716.7 L272.2,2716.5 L275.2,2716.2 L278.2,2716.0 L281.2,2715.7 L284.2,2715.4 L287.2,2715.2 L290.2,2714.9 L293.2,2714.6 L296.2,2714.3 L299.2,2714.0 L302.2,2713.6 L305.2,2713.3 L308.2,2713.0 L311.2,2712.6 L314.2,2712.3 L317.2,2711.9 L320.2,2711.5 L323.2,2711.1 L326.2,2710.7 L329.2,2710.3 L332.3,2709.8 L335.3,2709.4 L338.3,2708.9 L341.3,2708.5 L344.3,2708.0 L347.3,2707.5 L350.3,2707.0 L353.3,2706.5 L356.3,2705.9 L359.3,2705.4 L362.3,2704.8 L365.3,2704.2 L368.3,2703.6 L371.3,2703.0 L374.3,2702.4 L377.3,2701.8 L380.3,2701.2 L383.3,2700.5 L386.3,2699.9 L389.3,2699.2 L392.3,2698.5 L395.3,2697.8 L398.3,2697.1 L401.3,2696.4 L404.3,2695.7 L407.4,2695.0 L410.4,2694.2 L413.4,2693.5 L416.4,2692.7 L419.4,2691.9 L422.4,2691.2 L425.4,2690.4 L428.4,2689.6 L431.4,2688.7 L434.4,2687.9 L437.4,2687.1 L440.4,2686.3 L443.4,2685.4 L446.4,2684.6 L449.4,2683.7 L452.4,2682.8 L455.4,2681.9 L458.4,2681.1 L461.4,2680.2 L464.4,2679.3 L467.4,2678.3 L470.4,2677.4 L473.4,2676.5 L476.4,2675.5 L479.4,2674.6 L482.4,2673.6 L485.5,2672.6 L488.5,2671.5 L491.5,2670.5 L494.5,2669.4 L497.5,2668.3 L500.5,2667.1 L503.5,2666.0 L506.5,2664.7 L509.5,2663.5 L512.5,2662.2 L515.5,2660.9 L518.5,2659.6 L521.5,2658.2 L524.5,2656.8 L527.5,2655.4 L530.5,2654.0 L533.5,2652.5 L536.5,2651.0 L539.5,2649.5 L542.5,2647.9 L545.5,2646.4 L548.5,2644.8 L551.5,2643.2 L554.5,2641.5 L557.5,2639.9 L560.6,2638.2 L563.6,2636.5 L566.6,2634.8 L569.6,2633.0 L572.6,2631.3 L575.6,2629.5 L578.6,2627.7 L581.6,2625.9 L584.6,2624.1 L587.6,2622.3 L590.6,2620.4 L593.6,2618.6 L596.6,2616.7 L599.6,2614.8 L602.6,2612.9 L605.6,2611.0 L608.6,2609.1 L611.6,2607.2 L614.6,2605.3 L617.6,2603.3 L620.6,2601.4 L623.6,2599.4 L626.6,2597.5 L629.6,2595.5 L632.6,2593.5 L635.6,2591.6 L638.7,2589.6 L641.7,2587.6 L644.7,2585.6 L647.7,2583.7 L650.7,2581.7 L653.7,2579.7 L656.7,2577.7 L659.7,2575.7 L662.7,2573.8 L665.7,2571.8 L668.7,2569.8 L671.7,2567.9 L674.7,2565.9 L677.7,2563.9 L680.7,2562.0 L683.7,2560.0 L686.7,2558.1 L689.7,2556.2 L692.7,2554.3 L695.7,2552.4 L698.7,2550.5 L701.7,2548.6 L704.7,2546.7 L707.7,2544.8 L710.7,2543.0 L713.8,2541.1 L716.8,2539.3 L719.8,2537.5 L722.8,2535.7 L725.8,2533.9 L728.8,2532.2 L731.8,2530.4 L734.8,2528.7 L737.8,2527.0 L740.8,2525.3 L743.8,2523.6 L746.8,2522.0 L749.8,2520.3 L752.8,2518.7 L755.8,2517.1 L758.8,2515.5 L761.8,2513.9 L764.8,2512.3 L767.8,2510.8 L770.8,2509.3 L773.8,2507.8 L776.8,2506.3 L779.8,2504.8 L782.8,2503.3 L785.8,2501.9 L788.8,2500.4 L791.9,2499.0 L794.9,2497.6 L797.9,2496.2 L800.9,2494.9 L803.9,2493.5 L806.9,2492.2 L809.9,2490.9 L812.9,2489.5 L815.9,2488.3 L818.9,2487.0 L821.9,2485.7 L824.9,2484.5 L827.9,2483.3 L830.9,2482.0 L833.9,2480.8 L836.9,2479.7 L839.9,2478.5 L842.9,2477.4 L845.9,2476.2 L848.9,2475.1 L851.9,2474.0 L854.9,2472.9 L857.9,2471.8 L860.9,2470.8 L863.9,2469.7 L866.9,2468.7 L870.0,2467.7 L873.0,2466.7 L876.0,2465.7 L879.0,2464.8 L882.0,2463.8 L885.0,2462.9 L888.0,2462.0 L891.0,2461.2 L894.0,2460.4 L897.0,2459.6 L900.0,2458.8 L903.0,2458.2 L906.0,2457.5 L909.0,2456.9 L912.0,2456.4 L915.0,2455.9 L918.0,2455.5 L921.0,2455.1 L924.0,2454.8 L927.0,2454.5 L930.0,2454.4 L933.0,2454.3 L936.0,2454.3 L939.0,2454.3 L942.0,2454.5 L945.1,2454.7 L948.1,2455.0 L951.1,2455.4 L954.1,2455.9 L957.1,2456.5 L960.1,2457.2 L963.1,2458.0 L966.1,2458.9 L969.1,2459.9 L972.1,2461.1 L975.1,2462.3 L978.1,2463.6 L981.1,2465.1 L984.1,2466.7 L987.1,2468.4 L990.1,2470.3 L993.1,2472.2 L996.1,2474.3 L999.1,2476.4 L1002.1,2478.6 L1005.1,2480.8 L1008.1,2483.1 L1011.1,2485.5 L1014.1,2487.9 L1017.1,2490.3 L1020.1,2492.7 L1023.2,2495.1 L1026.2,2497.6 L1029.2,2500.0 L1032.2,2502.3 L1035.2,2504.7 L1038.2,2507.0 L1041.2,2509.2 L1044.2,2511.3 L1047.2,2513.4 L1050.2,2515.4 L1053.2,2517.3 L1056.2,2519.1 L1059.2,2520.8 L1062.2,2522.4 L1065.2,2523.9 L1068.2,2525.4 L1071.2,2526.8 L1074.2,2528.1 L1077.2,2529.4 L1080.2,2530.7 L1083.2,2532.0 L1086.2,2533.2 L1089.2,2534.4 L1092.2,2535.7 L1095.2,2536.9 L1098.2,2538.2 L1101.3,2539.5 L1104.3,2540.8 L1107.3,2542.2 L1110.3,2543.6 L1113.3,2545.1 L1116.3,2546.6 L1119.3,2548.3 L1122.3,2550.0 L1125.3,2551.8 L1128.3,2553.7 L1131.3,2555.8 L1134.3,2557.9 L1137.3,2560.2 L1140.3,2562.5 L1143.3,2565.0 L1146.3,2567.5 L1149.3,2570.1 L1152.3,2572.8 L1155.3,2575.6 L1158.3,2578.4 L1161.3,2581.3 L1164.3,2584.3 L1167.3,2587.3 L1170.3,2590.4 L1173.3,2593.5 L1176.4,2596.7 L1179.4,2599.9 L1182.4,2603.2 L1185.4,2606.4 L1188.4,2609.7 L1191.4,2613.1 L1194.4,2616.4 L1197.4,2619.8 L1200.4,2623.1 L1203.4,2626.5 L1206.4,2629.8 L1209.4,2633.2 L1212.4,2636.5 L1215.4,2639.9 L1218.4,2643.2 L1221.4,2646.5 L1224.4,2649.7 L1227.4,2653.0 L1230.4,2656.1 L1233.4,2659.3 L1236.4,2662.4 L1239.4,2665.4 L1242.4,2668.4 L1245.4,2671.3 L1248.4,2674.2 L1251.4,2677.0 L1254.5,2679.7 L1257.5,2682.4 L1260.5,2685.0 L1263.5,2687.6 L1266.5,2690.1 L1269.5,2692.5 L1272.5,2694.9 L1275.5,2697.1 L1278.5,2699.4 L1281.5,2701.5 L1284.5,2703.6 L1287.5,2705.6 L1290.5,2707.6 L1293.5,2709.4 L1296.5,2711.2 L1299.5,2712.9 L1302.5,2714.6 L1305.5,2716.2 L1308.5,2717.7 L1311.5,2719.1 L1314.5,2720.4 L1317.5,2721.7 L1320.5,2722.9 L1323.5,2724.1 L1326.5,2725.2 L1329.6,2726.2 L1332.6,2727.2 L1335.6,2728.1 L1338.6,2729.0 L1341.6,2729.9 L1344.6,2730.7 L1347.6,2731.5 L1350.6,2732.3 L1353.6,2733.1 L1356.6,2733.8 L1359.6,2734.5 L1362.6,2735.2 L1365.6,2735.9 L1368.6,2736.6 L1371.6,2737.3 L1374.6,2738.0 L1377.6,2738.6 L1380.6,2739.3 L1383.6,2739.9 L1386.6,2740.6 L1389.6,2741.2 L1392.6,2741.8 L1395.6,2742.4 L1398.6,2743.0 L1401.6,2743.6 L1404.6,2744.2 L1407.7,2744.8 L1410.7,2745.4 L1413.7,2745.9 L1416.7,2746.5 L1419.7,2747.0 L1422.7,2747.6 L1425.7,2748.1 L1428.7,2748.6 L1431.7,2749.1 L1434.7,2749.6 L1437.7,2750.1 L1440.7,2750.6 L1443.7,2751.1 L1446.7,2751.5 L1449.7,2752.0 L1452.7,2752.4 L1455.7,2752.9 L1458.7,2753.3 L1461.7,2753.8 L1464.7,2754.2 L1467.7,2754.6 L1470.7,2755.0 L1473.7,2755.4 L1476.7,2755.8 L1479.7,2756.2 L1482.8,2756.5 L1485.8,2756.9 L1488.8,2757.3 L1491.8,2757.6 L1494.8,2758.0 L1497.8,2758.3 L1500.8,2758.6 L1503.8,2759.0 L1506.8,2759.3 L1509.8,2759.6 L1512.8,2759.9 L1515.8,2760.2 L1518.8,2760.5 L1521.8,2760.8 L1524.8,2761.0 L1527.8,2761.3 L1530.8,2761.6 L1533.8,2761.8 L1536.8,2762.1 L1539.8,2762.3 L1542.8,2762.5 L1545.8,2762.8 L1548.8,2763.0 L1551.8,2763.2 L1554.8,2763.4 L1557.8,2763.6 L1560.9,2763.8 L1563.9,2764.0 L1566.9,2764.2 L1569.9,2764.4 L1572.9,2764.5 L1575.9,2764.7 L1578.9,2764.9 L1581.9,2765.0 L1584.9,2765.2 L1587.9,2765.3 L1590.9,2765.4 L1593.9,2765.6 L1596.9,2765.7 L1599.9,2765.8 L1602.9,2765.9 L1605.9,2766.0 L1608.9,2766.1 L1611.9,2766.2 L1614.9,2766.3 L1617.9,2766.4 L1620.9,2766.5 L1623.9,2766.6 L1626.9,2766.6 L1629.9,2766.7 L1632.9,2766.7 L1635.9,2766.8 L1639.0,2766.8 L1642.0,2766.9 L1645.0,2766.9 L1648.0,2767.0 L1651.0,2767.0 L1654.0,2767.0 L1657.0,2767.0 L1660.0,2767.0 L1663.0,2767.0 L1666.0,2767.0 L1669.0,2767.0 L1672.0,2767.0 L1675.0,2767.0" fill="none" stroke="#FF0000" stroke-width="6.6" stroke-linejoin="round"/>
<path d="M800.0,2742.4 L803.0,2742.6 L806.0,2742.8 L809.0,2743.0 L812.0,2743.1 L815.0,2743.3 L818.0,2743.5 L821.0,2743.7 L824.1,2743.9 L827.1,2744.1 L830.1,2744.3 L833.1,2744.5 L836.1,2744.7 L839.1,2744.8 L842.1,2745.0 L845.1,2745.2 L848.1,2745.4 L851.1,2745.6 L854.1,2745.8 L857.1,2746.0 L860.1,2746.1 L863.1,2746.3 L866.2,2746.5 L869.2,2746.7 L872.2,2746.9 L875.2,2747.1 L878.2,2747.3 L881.2,2747.4 L884.2,2747.6 L887.2,2747.8 L890.2,2748.0 L893.2,2748.2 L896.2,2748.4 L899.2,2748.5 L902.2,2748.7 L905.2,2748.9 L908.2,2749.1 L911.3,2749.3 L914.3,2749.4 L917.3,2749.6 L920.3,2749.8 L923.3,2750.0 L926.3,2750.2 L929.3,2750.3 L932.3,2750.5 L935.3,2750.7 L938.3,2750.9 L941.3,2751.1 L944.3,2751.2 L947.3,2751.4 L950.3,2751.6 L953.4,2751.8 L956.4,2751.9 L959.4,2752.1 L962.4,2752.3 L965.4,2752.5 L968.4,2752.7 L971.4,2752.8 L974.4,2753.0 L977.4,2753.2 L980.4,2753.3 L983.4,2753.5 L986.4,2753.7 L989.4,2753.9 L992.4,2754.0 L995.4,2754.2 L998.5,2754.4 L1001.5,2754.5 L1004.5,2754.7 L1007.5,2754.9 L1010.5,2755.1 L1013.5,2755.2 L1016.5,2755.4 L1019.5,2755.6 L1022.5,2755.7 L1025.5,2755.9 L1028.5,2756.1 L1031.5,2756.2 L1034.5,2756.4 L1037.5,2756.5 L1040.5,2756.7 L1043.6,2756.9 L1046.6,2757.0 L1049.6,2757.2 L1052.6,2757.4 L1055.6,2757.5 L1058.6,2757.7 L1061.6,2757.8 L1064.6,2758.0 L1067.6,2758.2 L1070.6,2758.3 L1073.6,2758.5 L1076.6,2758.6 L1079.6,2758.8 L1082.6,2758.9 L1085.7,2759.1 L1088.7,2759.3 L1091.7,2759.4 L1094.7,2759.6 L1097.7,2759.7 L1100.7,2759.9 L1103.7,2760.0 L1106.7,2760.2 L1109.7,2760.3 L1112.7,2760.5 L1115.7,2760.6 L1118.7,2760.8 L1121.7,2760.9 L1124.7,2761.1 L1127.7,2761.2 L1130.8,2761.3 L1133.8,2761.5 L1136.8,2761.6 L1139.8,2761.8 L1142.8,2761.9 L1145.8,2762.1 L1148.8,2762.2 L1151.8,2762.3 L1154.8,2762.5 L1157.8,2762.6 L1160.8,2762.8 L1163.8,2762.9 L1166.8,2763.0 L1169.8,2763.2 L1172.9,2763.3 L1175.9,2763.4 L1178.9,2763.6 L1181.9,2763.7 L1184.9,2763.8 L1187.9,2764.0 L1190.9,2764.1 L1193.9,2764.2 L1196.9,2764.4 L1199.9,2764.5 L1202.9,2764.6 L1205.9,2764.7 L1208.9,2764.9 L1211.9,2765.0 L1214.9,2765.1 L1218.0,2765.2 L1221.0,2765.4 L1224.0,2765.5 L1227.0,2765.6 L1230.0,2765.7 L1233.0,2765.8 L1236.0,2765.9 L1239.0,2766.1 L1242.0,2766.2 L1245.0,2766.3 L1248.0,2766.4 L1251.0,2766.5 L1254.0,2766.6 L1257.0,2766.7 L1260.1,2766.9 L1263.1,2767.0 L1266.1,2767.1 L1269.1,2767.2 L1272.1,2767.3 L1275.1,2767.4 L1278.1,2767.5 L1281.1,2767.6 L1284.1,2767.7 L1287.1,2767.8 L1290.1,2767.9 L1293.1,2768.0 L1296.1,2768.1 L1299.1,2768.2 L1302.1,2768.3 L1305.2,2768.4 L1308.2,2768.5 L1311.2,2768.6 L1314.2,2768.7 L1317.2,2768.8 L1320.2,2768.9 L1323.2,2769.0 L1326.2,2769.1 L1329.2,2769.1 L1332.2,2769.2 L1335.2,2769.3 L1338.2,2769.4 L1341.2,2769.5 L1344.2,2769.6 L1347.3,2769.6 L1350.3,2769.7 L1353.3,2769.8 L1356.3,2769.9 L1359.3,2770.0 L1362.3,2770.0 L1365.3,2770.1 L1368.3,2770.2 L1371.3,2770.3 L1374.3,2770.3 L1377.3,2770.4 L1380.3,2770.5 L1383.3,2770.5 L1386.3,2770.6 L1389.3,2770.7 L1392.4,2770.7 L1395.4,2770.8 L1398.4,2770.9 L1401.4,2770.9 L1404.4,2771.0 L1407.4,2771.0 L1410.4,2771.1 L1413.4,2771.2 L1416.4,2771.2 L1419.4,2771.3 L1422.4,2771.3 L1425.4,2771.4 L1428.4,2771.4 L1431.4,2771.5 L1434.5,2771.5 L1437.5,2771.6 L1440.5,2771.6 L1443.5,2771.7 L1446.5,2771.7 L1449.5,2771.8 L1452.5,2771.8 L1455.5,2771.8 L1458.5,2771.9 L1461.5,2771.9 L1464.5,2771.9 L1467.5,2772.0 L1470.5,2772.0 L1473.5,2772.0 L1476.5,2772.1 L1479.6,2772.1 L1482.6,2772.1 L1485.6,2772.2 L1488.6,2772.2 L1491.6,2772.2 L1494.6,2772.2 L1497.6,2772.3 L1500.6,2772.3 L1503.6,2772.3 L1506.6,2772.3 L1509.6,2772.3 L1512.6,2772.3 L1515.6,2772.4 L1518.6,2772.4 L1521.6,2772.4 L1524.7,2772.4 L1527.7,2772.4 L1530.7,2772.4 L1533.7,2772.4 L1536.7,2772.4 L1539.7,2772.4 L1542.7,2772.4 L1545.7,2772.4 L1548.7,2772.4 L1551.7,2772.4 L1554.7,2772.4 L1557.7,2772.4 L1560.7,2772.4 L1563.7,2772.4 L1566.8,2772.4 L1569.8,2772.4 L1572.8,2772.3 L1575.8,2772.3 L1578.8,2772.3 L1581.8,2772.3 L1584.8,2772.3 L1587.8,2772.3 L1590.8,2772.2 L1593.8,2772.2 L1596.8,2772.2 L1599.8,2772.2 L1602.8,2772.1 L1605.8,2772.1 L1608.8,2772.1 L1611.9,2772.0 L1614.9,2772.0 L1617.9,2772.0 L1620.9,2771.9 L1623.9,2771.9 L1626.9,2771.8 L1629.9,2771.8 L1632.9,2771.8 L1635.9,2771.7 L1638.9,2771.7 L1641.9,2771.6 L1644.9,2771.6 L1647.9,2771.5 L1650.9,2771.5 L1654.0,2771.4 L1657.0,2771.4 L1660.0,2771.3 L1663.0,2771.2 L1666.0,2771.2 L1669.0,2771.1 L1672.0,2771.0 L1675.0,2771.0" fill="none" stroke="#8000FF" stroke-width="6.6" stroke-linejoin="round"/>
<path d="M137.0,2725.1 L140.0,2725.0 L143.0,2725.0 L146.0,2725.0 L149.0,2724.9 L152.0,2724.9 L155.0,2724.8 L158.0,2724.8 L161.0,2724.7 L164.0,2724.7 L167.0,2724.6 L170.0,2724.5 L173.0,2724.5 L176.1,2724.4 L179.1,2724.3 L182.1,2724.2 L185.1,2724.1 L188.1,2724.1 L191.1,2724.0 L194.1,2723.9 L197.1,2723.8 L200.1,2723.7 L203.1,2723.6 L206.1,2723.5 L209.1,2723.4 L212.1,2723.3 L215.1,2723.1 L218.1,2723.0 L221.1,2722.9 L224.1,2722.8 L227.1,2722.6 L230.1,2722.5 L233.1,2722.3 L236.1,2722.2 L239.1,2722.0 L242.1,2721.9 L245.1,2721.7 L248.1,2721.5 L251.1,2721.4 L254.2,2721.2 L257.2,2721.0 L260.2,2720.8 L263.2,2720.6 L266.2,2720.5 L269.2,2720.3 L272.2,2720.1 L275.2,2719.8 L278.2,2719.6 L281.2,2719.4 L284.2,2719.2 L287.2,2719.0 L290.2,2718.7 L293.2,2718.5 L296.2,2718.2 L299.2,2718.0 L302.2,2717.7 L305.2,2717.5 L308.2,2717.2 L311.2,2716.9 L314.2,2716.6 L317.2,2716.4 L320.2,2716.1 L323.2,2715.8 L326.2,2715.5 L329.2,2715.1 L332.3,2714.8 L335.3,2714.5 L338.3,2714.2 L341.3,2713.8 L344.3,2713.5 L347.3,2713.2 L350.3,2712.8 L353.3,2712.4 L356.3,2712.1 L359.3,2711.7 L362.3,2711.3 L365.3,2710.9 L368.3,2710.5 L371.3,2710.1 L374.3,2709.7 L377.3,2709.3 L380.3,2708.9 L383.3,2708.5 L386.3,2708.0 L389.3,2707.6 L392.3,2707.2 L395.3,2706.7 L398.3,2706.2 L401.3,2705.8 L404.3,2705.3 L407.4,2704.8 L410.4,2704.3 L413.4,2703.8 L416.4,2703.3 L419.4,2702.8 L422.4,2702.2 L425.4,2701.7 L428.4,2701.1 L431.4,2700.6 L434.4,2700.0 L437.4,2699.4 L440.4,2698.8 L443.4,2698.2 L446.4,2697.6 L449.4,2697.0 L452.4,2696.4 L455.4,2695.7 L458.4,2695.0 L461.4,2694.4 L464.4,2693.7 L467.4,2693.0 L470.4,2692.3 L473.4,2691.5 L476.4,2690.8 L479.4,2690.0 L482.4,2689.2 L485.5,2688.4 L488.5,2687.6 L491.5,2686.8 L494.5,2686.0 L497.5,2685.1 L500.5,2684.2 L503.5,2683.3 L506.5,2682.4 L509.5,2681.5 L512.5,2680.5 L515.5,2679.6 L518.5,2678.6 L521.5,2677.6 L524.5,2676.5 L527.5,2675.5 L530.5,2674.4 L533.5,2673.3 L536.5,2672.2 L539.5,2671.1 L542.5,2670.0 L545.5,2668.8 L548.5,2667.6 L551.5,2666.4 L554.5,2665.2 L557.5,2663.9 L560.6,2662.6 L563.6,2661.4 L566.6,2660.1 L569.6,2658.8 L572.6,2657.5 L575.6,2656.1 L578.6,2654.8 L581.6,2653.5 L584.6,2652.2 L587.6,2650.8 L590.6,2649.5 L593.6,2648.2 L596.6,2646.9 L599.6,2645.5 L602.6,2644.2 L605.6,2642.9 L608.6,2641.6 L611.6,2640.4 L614.6,2639.1 L617.6,2637.9 L620.6,2636.6 L623.6,2635.4 L626.6,2634.2 L629.6,2633.1 L632.6,2631.9 L635.6,2630.8 L638.7,2629.7 L641.7,2628.6 L644.7,2627.6 L647.7,2626.6 L650.7,2625.6 L653.7,2624.7 L656.7,2623.8 L659.7,2623.0 L662.7,2622.1 L665.7,2621.4 L668.7,2620.6 L671.7,2619.9 L674.7,2619.3 L677.7,2618.7 L680.7,2618.2 L683.7,2617.7 L686.7,2617.2 L689.7,2616.8 L692.7,2616.5 L695.7,2616.2 L698.7,2616.0 L701.7,2615.8 L704.7,2615.7 L707.7,2615.6 L710.7,2615.5 L713.8,2615.5 L716.8,2615.6 L719.8,2615.7 L722.8,2615.8 L725.8,2616.0 L728.8,2616.2 L731.8,2616.5 L734.8,2616.8 L737.8,2617.2 L740.8,2617.6 L743.8,2618.0 L746.8,2618.5 L749.8,2619.1 L752.8,2619.6 L755.8,2620.2 L758.8,2620.9 L761.8,2621.6 L764.8,2622.3 L767.8,2623.1 L770.8,2623.9 L773.8,2624.8 L776.8,2625.7 L779.8,2626.6 L782.8,2627.5 L785.8,2628.5 L788.8,2629.6 L791.9,2630.6 L794.9,2631.7 L797.9,2632.9 L800.9,2634.0 L803.9,2635.2 L806.9,2636.5 L809.9,2637.7 L812.9,2639.0 L815.9,2640.4 L818.9,2641.7 L821.9,2643.1 L824.9,2644.5 L827.9,2645.9 L830.9,2647.3 L833.9,2648.7 L836.9,2650.2 L839.9,2651.6 L842.9,2653.1 L845.9,2654.6 L848.9,2656.1 L851.9,2657.6 L854.9,2659.1 L857.9,2660.6 L860.9,2662.2 L863.9,2663.7 L866.9,2665.2 L870.0,2666.7 L873.0,2668.2 L876.0,2669.7 L879.0,2671.2 L882.0,2672.6 L885.0,2674.1 L888.0,2675.6 L891.0,2677.0 L894.0,2678.5 L897.0,2679.9 L900.0,2681.4 L903.0,2682.8 L906.0,2684.2 L909.0,2685.6 L912.0,2687.0 L915.0,2688.3 L918.0,2689.7 L921.0,2691.0 L924.0,2692.4 L927.0,2693.7 L930.0,2695.0 L933.0,2696.3 L936.0,2697.5 L939.0,2698.8 L942.0,2700.0 L945.1,2701.2 L948.1,2702.4 L951.1,2703.6 L954.1,2704.8 L957.1,2705.9 L960.1,2707.0 L963.1,2708.1 L966.1,2709.2 L969.1,2710.3 L972.1,2711.3 L975.1,2712.3 L978.1,2713.4 L981.1,2714.3 L984.1,2715.3 L987.1,2716.3 L990.1,2717.2 L993.1,2718.1 L996.1,2719.0 L999.1,2719.9 L1002.1,2720.7 L1005.1,2721.6 L1008.1,2722.4 L1011.1,2723.2 L1014.1,2724.0 L1017.1,2724.8 L1020.1,2725.6 L1023.2,2726.4 L1026.2,2727.1 L1029.2,2727.8 L1032.2,2728.6 L1035.2,2729.3 L1038.2,2730.0 L1041.2,2730.7 L1044.2,2731.3 L1047.2,2732.0 L1050.2,2732.6 L1053.2,2733.3 L1056.2,2733.9 L1059.2,2734.5 L1062.2,2735.1 L1065.2,2735.8 L1068.2,2736.3 L1071.2,2736.9 L1074.2,2737.5 L1077.2,2738.1 L1080.2,2738.6 L1083.2,2739.2 L1086.2,2739.7 L1089.2,2740.3 L1092.2,2740.8 L1095.2,2741.4 L1098.2,2741.9 L1101.3,2742.4 L1104.3,2742.9 L1107.3,2743.4 L1110.3,2743.9 L1113.3,2744.4 L1116.3,2744.9 L1119.3,2745.3 L1122.3,2745.8 L1125.3,2746.3 L1128.3,2746.7 L1131.3,2747.2 L1134.3,2747.6 L1137.3,2748.1 L1140.3,2748.5 L1143.3,2748.9 L1146.3,2749.4 L1149.3,2749.8 L1152.3,2750.2 L1155.3,2750.6 L1158.3,2751.0 L1161.3,2751.4 L1164.3,2751.8 L1167.3,2752.1 L1170.3,2752.5 L1173.3,2752.9 L1176.4,2753.2 L1179.4,2753.6 L1182.4,2753.9 L1185.4,2754.3 L1188.4,2754.6 L1191.4,2755.0 L1194.4,2755.3 L1197.4,2755.6 L1200.4,2755.9 L1203.4,2756.3 L1206.4,2756.6 L1209.4,2756.9 L1212.4,2757.2 L1215.4,2757.5 L1218.4,2757.8 L1221.4,2758.0 L1224.4,2758.3 L1227.4,2758.6 L1230.4,2758.9 L1233.4,2759.1 L1236.4,2759.4 L1239.4,2759.6 L1242.4,2759.9 L1245.4,2760.1 L1248.4,2760.4 L1251.4,2760.6 L1254.5,2760.9 L1257.5,2761.1 L1260.5,2761.3 L1263.5,2761.5 L1266.5,2761.7 L1269.5,2762.0 L1272.5,2762.2 L1275.5,2762.4 L1278.5,2762.6 L1281.5,2762.8 L1284.5,2763.0 L1287.5,2763.1 L1290.5,2763.3 L1293.5,2763.5 L1296.5,2763.7 L1299.5,2763.9 L1302.5,2764.0 L1305.5,2764.2 L1308.5,2764.4 L1311.5,2764.5 L1314.5,2764.7 L1317.5,2764.8 L1320.5,2765.0 L1323.5,2765.1 L1326.5,2765.2 L1329.6,2765.4 L1332.6,2765.5 L1335.6,2765.7 L1338.6,2765.8 L1341.6,2765.9 L1344.6,2766.0 L1347.6,2766.1 L1350.6,2766.3 L1353.6,2766.4 L1356.6,2766.5 L1359.6,2766.6 L1362.6,2766.7 L1365.6,2766.8 L1368.6,2766.9 L1371.6,2767.0 L1374.6,2767.1 L1377.6,2767.2 L1380.6,2767.3 L1383.6,2767.3 L1386.6,2767.4 L1389.6,2767.5 L1392.6,2767.6 L1395.6,2767.7 L1398.6,2767.7 L1401.6,2767.8 L1404.6,2767.9 L1407.7,2767.9 L1410.7,2768.0 L1413.7,2768.1 L1416.7,2768.1 L1419.7,2768.2 L1422.7,2768.2 L1425.7,2768.3 L1428.7,2768.3 L1431.7,2768.4 L1434.7,2768.4 L1437.7,2768.5 L1440.7,2768.5 L1443.7,2768.6 L1446.7,2768.6 L1449.7,2768.7 L1452.7,2768.7 L1455.7,2768.7 L1458.7,2768.8 L1461.7,2768.8 L1464.7,2768.8 L1467.7,2768.9 L1470.7,2768.9 L1473.7,2768.9 L1476.7,2769.0 L1479.7,2769.0 L1482.8,2769.0 L1485.8,2769.0 L1488.8,2769.1 L1491.8,2769.1 L1494.8,2769.1 L1497.8,2769.1 L1500.8,2769.1 L1503.8,2769.2 L1506.8,2769.2 L1509.8,2769.2 L1512.8,2769.2 L1515.8,2769.2 L1518.8,2769.3 L1521.8,2769.3 L1524.8,2769.3 L1527.8,2769.3 L1530.8,2769.3 L1533.8,2769.3 L1536.8,2769.3 L1539.8,2769.4 L1542.8,2769.4 L1545.8,2769.4 L1548.8,2769.4 L1551.8,2769.4 L1554.8,2769.4 L1557.8,2769.4 L1560.9,2769.5 L1563.9,2769.5 L1566.9,2769.5 L1569.9,2769.5 L1572.9,2769.5 L1575.9,2769.5 L1578.9,2769.5 L1581.9,2769.6 L1584.9,2769.6 L1587.9,2769.6 L1590.9,2769.6 L1593.9,2769.6 L1596.9,2769.6 L1599.9,2769.7 L1602.9,2769.7 L1605.9,2769.7 L1608.9,2769.7 L1611.9,2769.7 L1614.9,2769.8 L1617.9,2769.8 L1620.9,2769.8 L1623.9,2769.8 L1626.9,2769.9 L1629.9,2769.9 L1632.9,2769.9 L1635.9,2770.0 L1639.0,2770.0 L1642.0,2770.0 L1645.0,2770.1 L1648.0,2770.1 L1651.0,2770.1 L1654.0,2770.2 L1657.0,2770.2 L1660.0,2770.2 L1663.0,2770.3 L1666.0,2770.3 L1669.0,2770.4 L1672.0,2770.4 L1675.0,2770.5" fill="none" stroke="#008080" stroke-width="6.6" stroke-linejoin="round"/>
<path d="M137.0,2730.0 L140.0,2730.0 L143.0,2730.1 L146.0,2730.1 L149.0,2730.1 L152.0,2730.2 L155.0,2730.2 L158.0,2730.2 L161.0,2730.3 L164.0,2730.3 L167.0,2730.3 L170.0,2730.4 L173.0,2730.4 L176.1,2730.4 L179.1,2730.5 L182.1,2730.5 L185.1,2730.5 L188.1,2730.5 L191.1,2730.6 L194.1,2730.6 L197.1,2730.6 L200.1,2730.7 L203.1,2730.7 L206.1,2730.7 L209.1,2730.7 L212.1,2730.8 L215.1,2730.8 L218.1,2730.8 L221.1,2730.8 L224.1,2730.9 L227.1,2730.9 L230.1,2730.9 L233.1,2730.9 L236.1,2731.0 L239.1,2731.0 L242.1,2731.0 L245.1,2731.0 L248.1,2731.1 L251.1,2731.1 L254.2,2731.1 L257.2,2731.1 L260.2,2731.1 L263.2,2731.2 L266.2,2731.2 L269.2,2731.2 L272.2,2731.2 L275.2,2731.3 L278.2,2731.3 L281.2,2731.3 L284.2,2731.3 L287.2,2731.3 L290.2,2731.4 L293.2,2731.4 L296.2,2731.4 L299.2,2731.4 L302.2,2731.5 L305.2,2731.5 L308.2,2731.5 L311.2,2731.5 L314.2,2731.5 L317.2,2731.6 L320.2,2731.6 L323.2,2731.6 L326.2,2731.6 L329.2,2731.7 L332.3,2731.7 L335.3,2731.7 L338.3,2731.7 L341.3,2731.8 L344.3,2731.8 L347.3,2731.8 L350.3,2731.8 L353.3,2731.9 L356.3,2731.9 L359.3,2731.9 L362.3,2731.9 L365.3,2732.0 L368.3,2732.0 L371.3,2732.0 L374.3,2732.0 L377.3,2732.1 L380.3,2732.1 L383.3,2732.1 L386.3,2732.1 L389.3,2732.2 L392.3,2732.2 L395.3,2732.2 L398.3,2732.3 L401.3,2732.3 L404.3,2732.3 L407.4,2732.3 L410.4,2732.4 L413.4,2732.4 L416.4,2732.4 L419.4,2732.5 L422.4,2732.5 L425.4,2732.5 L428.4,2732.6 L431.4,2732.6 L434.4,2732.6 L437.4,2732.7 L440.4,2732.7 L443.4,2732.7 L446.4,2732.8 L449.4,2732.8 L452.4,2732.9 L455.4,2732.9 L458.4,2732.9 L461.4,2733.0 L464.4,2733.0 L467.4,2733.1 L470.4,2733.1 L473.4,2733.1 L476.4,2733.2 L479.4,2733.2 L482.4,2733.3 L485.5,2733.3 L488.5,2733.4 L491.5,2733.4 L494.5,2733.5 L497.5,2733.5 L500.5,2733.5 L503.5,2733.6 L506.5,2733.6 L509.5,2733.7 L512.5,2733.7 L515.5,2733.8 L518.5,2733.9 L521.5,2733.9 L524.5,2734.0 L527.5,2734.0 L530.5,2734.1 L533.5,2734.1 L536.5,2734.2 L539.5,2734.2 L542.5,2734.3 L545.5,2734.4 L548.5,2734.4 L551.5,2734.5 L554.5,2734.6 L557.5,2734.6 L560.6,2734.7 L563.6,2734.8 L566.6,2734.8 L569.6,2734.9 L572.6,2735.0 L575.6,2735.0 L578.6,2735.1 L581.6,2735.2 L584.6,2735.2 L587.6,2735.3 L590.6,2735.4 L593.6,2735.5 L596.6,2735.5 L599.6,2735.6 L602.6,2735.7 L605.6,2735.8 L608.6,2735.9 L611.6,2736.0 L614.6,2736.0 L617.6,2736.1 L620.6,2736.2 L623.6,2736.3 L626.6,2736.4 L629.6,2736.5 L632.6,2736.6 L635.6,2736.7 L638.7,2736.8 L641.7,2736.9 L644.7,2736.9 L647.7,2737.0 L650.7,2737.1 L653.7,2737.2 L656.7,2737.3 L659.7,2737.4 L662.7,2737.5 L665.7,2737.6 L668.7,2737.8 L671.7,2737.9 L674.7,2738.0 L677.7,2738.1 L680.7,2738.2 L683.7,2738.3 L686.7,2738.4 L689.7,2738.5 L692.7,2738.6 L695.7,2738.7 L698.7,2738.8 L701.7,2738.9 L704.7,2739.0 L707.7,2739.1 L710.7,2739.2 L713.8,2739.3 L716.8,2739.4 L719.8,2739.5 L722.8,2739.6 L725.8,2739.7 L728.8,2739.8 L731.8,2739.9 L734.8,2740.0 L737.8,2740.1 L740.8,2740.2 L743.8,2740.3 L746.8,2740.4 L749.8,2740.5 L752.8,2740.6 L755.8,2740.7 L758.8,2740.8 L761.8,2740.9 L764.8,2741.0 L767.8,2741.1 L770.8,2741.1 L773.8,2741.2 L776.8,2741.3 L779.8,2741.4 L782.8,2741.5 L785.8,2741.5 L788.8,2741.6 L791.9,2741.7 L794.9,2741.7 L797.9,2741.8 L800.9,2741.9 L803.9,2741.9 L806.9,2742.0 L809.9,2742.1 L812.9,2742.1 L815.9,2742.2 L818.9,2742.2 L821.9,2742.3 L824.9,2742.3 L827.9,2742.3 L830.9,2742.4 L833.9,2742.4 L836.9,2742.4 L839.9,2742.5 L842.9,2742.5 L845.9,2742.5 L848.9,2742.5 L851.9,2742.6 L854.9,2742.6 L857.9,2742.6 L860.9,2742.6 L863.9,2742.6 L866.9,2742.6 L870.0,2742.6 L873.0,2742.6 L876.0,2742.6 L879.0,2742.5 L882.0,2742.5 L885.0,2742.5 L888.0,2742.5 L891.0,2742.4 L894.0,2742.4 L897.0,2742.3 L900.0,2742.3 L903.0,2742.2 L906.0,2742.2 L909.0,2742.1 L912.0,2742.1 L915.0,2742.0 L918.0,2741.9 L921.0,2741.8 L924.0,2741.7 L927.0,2741.6 L930.0,2741.5 L933.0,2741.4 L936.0,2741.3 L939.0,2741.2 L942.0,2741.0 L945.1,2740.8 L948.1,2740.7 L951.1,2740.5 L954.1,2740.2 L957.1,2740.0 L960.1,2739.7 L963.1,2739.5 L966.1,2739.1 L969.1,2738.8 L972.1,2738.5 L975.1,2738.1 L978.1,2737.7 L981.1,2737.2 L984.1,2736.8 L987.1,2736.3 L990.1,2735.7 L993.1,2735.2 L996.1,2734.6 L999.1,2733.9 L1002.1,2733.3 L1005.1,2732.5 L1008.1,2731.8 L1011.1,2731.0 L1014.1,2730.2 L1017.1,2729.3 L1020.1,2728.4 L1023.2,2727.4 L1026.2,2726.4 L1029.2,2725.3 L1032.2,2724.2 L1035.2,2723.1 L1038.2,2721.9 L1041.2,2720.7 L1044.2,2719.4 L1047.2,2718.1 L1050.2,2716.7 L1053.2,2715.4 L1056.2,2714.0 L1059.2,2712.6 L1062.2,2711.2 L1065.2,2709.8 L1068.2,2708.3 L1071.2,2706.9 L1074.2,2705.4 L1077.2,2704.0 L1080.2,2702.6 L1083.2,2701.1 L1086.2,2699.7 L1089.2,2698.3 L1092.2,2696.9 L1095.2,2695.5 L1098.2,2694.2 L1101.3,2692.9 L1104.3,2691.6 L1107.3,2690.3 L1110.3,2689.1 L1113.3,2687.9 L1116.3,2686.8 L1119.3,2685.8 L1122.3,2684.8 L1125.3,2683.9 L1128.3,2683.1 L1131.3,2682.4 L1134.3,2681.8 L1137.3,2681.3 L1140.3,2680.9 L1143.3,2680.7 L1146.3,2680.6 L1149.3,2680.7 L1152.3,2680.8 L1155.3,2681.2 L1158.3,2681.7 L1161.3,2682.3 L1164.3,2683.1 L1167.3,2684.0 L1170.3,2685.0 L1173.3,2686.1 L1176.4,2687.3 L1179.4,2688.6 L1182.4,2690.0 L1185.4,2691.5 L1188.4,2693.1 L1191.4,2694.7 L1194.4,2696.4 L1197.4,2698.1 L1200.4,2699.9 L1203.4,2701.8 L1206.4,2703.6 L1209.4,2705.5 L1212.4,2707.4 L1215.4,2709.4 L1218.4,2711.3 L1221.4,2713.3 L1224.4,2715.2 L1227.4,2717.2 L1230.4,2719.1 L1233.4,2721.1 L1236.4,2723.0 L1239.4,2724.8 L1242.4,2726.7 L1245.4,2728.5 L1248.4,2730.3 L1251.4,2732.0 L1254.5,2733.7 L1257.5,2735.3 L1260.5,2736.8 L1263.5,2738.3 L1266.5,2739.7 L1269.5,2741.0 L1272.5,2742.3 L1275.5,2743.4 L1278.5,2744.6 L1281.5,2745.6 L1284.5,2746.6 L1287.5,2747.5 L1290.5,2748.4 L1293.5,2749.2 L1296.5,2749.9 L1299.5,2750.6 L1302.5,2751.3 L1305.5,2751.9 L1308.5,2752.5 L1311.5,2753.0 L1314.5,2753.5 L1317.5,2754.0 L1320.5,2754.4 L1323.5,2754.8 L1326.5,2755.1 L1329.6,2755.5 L1332.6,2755.8 L1335.6,2756.1 L1338.6,2756.3 L1341.6,2756.6 L1344.6,2756.8 L1347.6,2757.0 L1350.6,2757.3 L1353.6,2757.5 L1356.6,2757.7 L1359.6,2757.9 L1362.6,2758.1 L1365.6,2758.3 L1368.6,2758.5 L1371.6,2758.7 L1374.6,2759.0 L1377.6,2759.2 L1380.6,2759.4 L1383.6,2759.6 L1386.6,2759.8 L1389.6,2760.0 L1392.6,2760.3 L1395.6,2760.5 L1398.6,2760.7 L1401.6,2760.9 L1404.6,2761.1 L1407.7,2761.3 L1410.7,2761.6 L1413.7,2761.8 L1416.7,2762.0 L1419.7,2762.2 L1422.7,2762.4 L1425.7,2762.6 L1428.7,2762.9 L1431.7,2763.1 L1434.7,2763.3 L1437.7,2763.5 L1440.7,2763.7 L1443.7,2763.9 L1446.7,2764.1 L1449.7,2764.3 L1452.7,2764.5 L1455.7,2764.7 L1458.7,2764.9 L1461.7,2765.1 L1464.7,2765.3 L1467.7,2765.5 L1470.7,2765.7 L1473.7,2765.9 L1476.7,2766.1 L1479.7,2766.3 L1482.8,2766.5 L1485.8,2766.7 L1488.8,2766.9 L1491.8,2767.0 L1494.8,2767.2 L1497.8,2767.4 L1500.8,2767.6 L1503.8,2767.7 L1506.8,2767.9 L1509.8,2768.1 L1512.8,2768.2 L1515.8,2768.4 L1518.8,2768.5 L1521.8,2768.7 L1524.8,2768.8 L1527.8,2769.0 L1530.8,2769.1 L1533.8,2769.2 L1536.8,2769.4 L1539.8,2769.5 L1542.8,2769.6 L1545.8,2769.7 L1548.8,2769.9 L1551.8,2770.0 L1554.8,2770.1 L1557.8,2770.2 L1560.9,2770.3 L1563.9,2770.4 L1566.9,2770.5 L1569.9,2770.5 L1572.9,2770.6 L1575.9,2770.7 L1578.9,2770.8 L1581.9,2770.8 L1584.9,2770.9 L1587.9,2770.9 L1590.9,2771.0 L1593.9,2771.0 L1596.9,2771.0 L1599.9,2771.1 L1602.9,2771.1 L1605.9,2771.1 L1608.9,2771.1 L1611.9,2771.1 L1614.9,2771.1 L1617.9,2771.1 L1620.9,2771.1 L1623.9,2771.1 L1626.9,2771.1 L1629.9,2771.0 L1632.9,2771.0 L1635.9,2770.9 L1639.0,2770.9 L1642.0,2770.8 L1645.0,2770.8 L1648.0,2770.7 L1651.0,2770.6 L1654.0,2770.5 L1657.0,2770.4 L1660.0,2770.3 L1663.0,2770.2 L1666.0,2770.1 L1669.0,2770.0 L1672.0,2769.8 L1675.0,2769.7" fill="none" stroke="#FF00FF" stroke-width="6.6" stroke-linejoin="round"/>
<path d="M137.0,2725.8 L140.0,2725.7 L143.0,2725.7 L146.0,2725.6 L149.0,2725.5 L152.0,2725.5 L155.0,2725.4 L158.0,2725.4 L161.0,2725.3 L164.0,2725.3 L167.0,2725.2 L170.0,2725.2 L173.0,2725.2 L176.1,2725.1 L179.1,2725.1 L182.1,2725.1 L185.1,2725.1 L188.1,2725.1 L191.1,2725.0 L194.1,2725.0 L197.1,2725.0 L200.1,2725.0 L203.1,2725.0 L206.1,2725.0 L209.1,2725.0 L212.1,2725.0 L215.1,2725.0 L218.1,2725.0 L221.1,2725.0 L224.1,2725.0 L227.1,2725.0 L230.1,2725.0 L233.1,2725.0 L236.1,2725.1 L239.1,2725.1 L242.1,2725.1 L245.1,2725.1 L248.1,2725.1 L251.1,2725.1 L254.2,2725.1 L257.2,2725.2 L260.2,2725.2 L263.2,2725.2 L266.2,2725.2 L269.2,2725.2 L272.2,2725.2 L275.2,2725.2 L278.2,2725.3 L281.2,2725.3 L284.2,2725.3 L287.2,2725.3 L290.2,2725.3 L293.2,2725.3 L296.2,2725.3 L299.2,2725.3 L302.2,2725.3 L305.2,2725.3 L308.2,2725.3 L311.2,2725.4 L314.2,2725.4 L317.2,2725.3 L320.2,2725.3 L323.2,2725.3 L326.2,2725.3 L329.2,2725.3 L332.3,2725.3 L335.3,2725.3 L338.3,2725.3 L341.3,2725.3 L344.3,2725.2 L347.3,2725.2 L350.3,2725.2 L353.3,2725.1 L356.3,2725.1 L359.3,2725.1 L362.3,2725.0 L365.3,2725.0 L368.3,2724.9 L371.3,2724.9 L374.3,2724.8 L377.3,2724.8 L380.3,2724.7 L383.3,2724.6 L386.3,2724.5 L389.3,2724.5 L392.3,2724.4 L395.3,2724.3 L398.3,2724.2 L401.3,2724.1 L404.3,2724.0 L407.4,2723.9 L410.4,2723.8 L413.4,2723.7 L416.4,2723.5 L419.4,2723.4 L422.4,2723.3 L425.4,2723.1 L428.4,2723.0 L431.4,2722.8 L434.4,2722.7 L437.4,2722.5 L440.4,2722.3 L443.4,2722.2 L446.4,2722.0 L449.4,2721.8 L452.4,2721.6 L455.4,2721.4 L458.4,2721.2 L461.4,2721.0 L464.4,2720.7 L467.4,2720.5 L470.4,2720.3 L473.4,2720.0 L476.4,2719.8 L479.4,2719.5 L482.4,2719.2 L485.5,2718.9 L488.5,2718.7 L491.5,2718.4 L494.5,2718.1 L497.5,2717.8 L500.5,2717.4 L503.5,2717.1 L506.5,2716.8 L509.5,2716.4 L512.5,2716.1 L515.5,2715.7 L518.5,2715.3 L521.5,2715.0 L524.5,2714.6 L527.5,2714.2 L530.5,2713.8 L533.5,2713.3 L536.5,2712.9 L539.5,2712.5 L542.5,2712.0 L545.5,2711.6 L548.5,2711.1 L551.5,2710.6 L554.5,2710.1 L557.5,2709.6 L560.6,2709.1 L563.6,2708.6 L566.6,2708.1 L569.6,2707.5 L572.6,2707.0 L575.6,2706.4 L578.6,2705.8 L581.6,2705.3 L584.6,2704.6 L587.6,2704.0 L590.6,2703.4 L593.6,2702.8 L596.6,2702.1 L599.6,2701.4 L602.6,2700.7 L605.6,2700.0 L608.6,2699.3 L611.6,2698.6 L614.6,2697.8 L617.6,2697.1 L620.6,2696.3 L623.6,2695.5 L626.6,2694.7 L629.6,2693.8 L632.6,2693.0 L635.6,2692.1 L638.7,2691.2 L641.7,2690.2 L644.7,2689.3 L647.7,2688.3 L650.7,2687.4 L653.7,2686.3 L656.7,2685.3 L659.7,2684.3 L662.7,2683.2 L665.7,2682.1 L668.7,2681.0 L671.7,2679.8 L674.7,2678.6 L677.7,2677.4 L680.7,2676.2 L683.7,2675.0 L686.7,2673.7 L689.7,2672.4 L692.7,2671.0 L695.7,2669.7 L698.7,2668.3 L701.7,2666.9 L704.7,2665.4 L707.7,2663.9 L710.7,2662.4 L713.8,2660.9 L716.8,2659.3 L719.8,2657.7 L722.8,2656.1 L725.8,2654.4 L728.8,2652.7 L731.8,2651.0 L734.8,2649.2 L737.8,2647.4 L740.8,2645.6 L743.8,2643.7 L746.8,2641.8 L749.8,2639.9 L752.8,2637.9 L755.8,2635.9 L758.8,2633.9 L761.8,2631.8 L764.8,2629.7 L767.8,2627.5 L770.8,2625.3 L773.8,2623.1 L776.8,2620.8 L779.8,2618.5 L782.8,2616.2 L785.8,2613.8 L788.8,2611.4 L791.9,2609.0 L794.9,2606.6 L797.9,2604.1 L800.9,2601.6 L803.9,2599.1 L806.9,2596.6 L809.9,2594.1 L812.9,2591.5 L815.9,2589.0 L818.9,2586.4 L821.9,2583.9 L824.9,2581.3 L827.9,2578.8 L830.9,2576.2 L833.9,2573.7 L836.9,2571.1 L839.9,2568.6 L842.9,2566.1 L845.9,2563.6 L848.9,2561.1 L851.9,2558.7 L854.9,2556.2 L857.9,2553.8 L860.9,2551.5 L863.9,2549.1 L866.9,2546.8 L870.0,2544.6 L873.0,2542.4 L876.0,2540.2 L879.0,2538.2 L882.0,2536.1 L885.0,2534.2 L888.0,2532.3 L891.0,2530.5 L894.0,2528.8 L897.0,2527.1 L900.0,2525.6 L903.0,2524.1 L906.0,2522.7 L909.0,2521.4 L912.0,2520.2 L915.0,2519.2 L918.0,2518.2 L921.0,2517.3 L924.0,2516.5 L927.0,2515.8 L930.0,2515.2 L933.0,2514.8 L936.0,2514.4 L939.0,2514.2 L942.0,2514.1 L945.1,2514.1 L948.1,2514.2 L951.1,2514.5 L954.1,2514.8 L957.1,2515.3 L960.1,2515.9 L963.1,2516.6 L966.1,2517.4 L969.1,2518.3 L972.1,2519.4 L975.1,2520.5 L978.1,2521.7 L981.1,2523.0 L984.1,2524.5 L987.1,2526.0 L990.1,2527.6 L993.1,2529.3 L996.1,2531.1 L999.1,2533.0 L1002.1,2534.9 L1005.1,2537.0 L1008.1,2539.1 L1011.1,2541.3 L1014.1,2543.5 L1017.1,2545.8 L1020.1,2548.2 L1023.2,2550.7 L1026.2,2553.2 L1029.2,2555.8 L1032.2,2558.4 L1035.2,2561.0 L1038.2,2563.7 L1041.2,2566.5 L1044.2,2569.2 L1047.2,2572.0 L1050.2,2574.9 L1053.2,2577.7 L1056.2,2580.6 L1059.2,2583.5 L1062.2,2586.4 L1065.2,2589.4 L1068.2,2592.3 L1071.2,2595.3 L1074.2,2598.2 L1077.2,2601.1 L1080.2,2604.1 L1083.2,2607.0 L1086.2,2609.9 L1089.2,2612.8 L1092.2,2615.7 L1095.2,2618.6 L1098.2,2621.4 L1101.3,2624.3 L1104.3,2627.0 L1107.3,2629.8 L1110.3,2632.5 L1113.3,2635.2 L1116.3,2637.8 L1119.3,2640.4 L1122.3,2643.0 L1125.3,2645.5 L1128.3,2648.0 L1131.3,2650.5 L1134.3,2652.9 L1137.3,2655.3 L1140.3,2657.6 L1143.3,2659.9 L1146.3,2662.2 L1149.3,2664.4 L1152.3,2666.6 L1155.3,2668.8 L1158.3,2670.9 L1161.3,2673.0 L1164.3,2675.1 L1167.3,2677.1 L1170.3,2679.1 L1173.3,2681.1 L1176.4,2683.0 L1179.4,2684.9 L1182.4,2686.7 L1185.4,2688.5 L1188.4,2690.3 L1191.4,2692.1 L1194.4,2693.8 L1197.4,2695.4 L1200.4,2697.1 L1203.4,2698.7 L1206.4,2700.3 L1209.4,2701.8 L1212.4,2703.3 L1215.4,2704.8 L1218.4,2706.2 L1221.4,2707.6 L1224.4,2709.0 L1227.4,2710.3 L1230.4,2711.7 L1233.4,2712.9 L1236.4,2714.2 L1239.4,2715.4 L1242.4,2716.6 L1245.4,2717.8 L1248.4,2719.0 L1251.4,2720.1 L1254.5,2721.2 L1257.5,2722.2 L1260.5,2723.3 L1263.5,2724.3 L1266.5,2725.3 L1269.5,2726.3 L1272.5,2727.2 L1275.5,2728.1 L1278.5,2729.0 L1281.5,2729.9 L1284.5,2730.8 L1287.5,2731.6 L1290.5,2732.4 L1293.5,2733.2 L1296.5,2734.0 L1299.5,2734.8 L1302.5,2735.5 L1305.5,2736.2 L1308.5,2736.9 L1311.5,2737.6 L1314.5,2738.3 L1317.5,2739.0 L1320.5,2739.6 L1323.5,2740.2 L1326.5,2740.9 L1329.6,2741.5 L1332.6,2742.0 L1335.6,2742.6 L1338.6,2743.2 L1341.6,2743.7 L1344.6,2744.3 L1347.6,2744.8 L1350.6,2745.3 L1353.6,2745.8 L1356.6,2746.3 L1359.6,2746.8 L1362.6,2747.3 L1365.6,2747.7 L1368.6,2748.2 L1371.6,2748.6 L1374.6,2749.1 L1377.6,2749.5 L1380.6,2750.0 L1383.6,2750.4 L1386.6,2750.8 L1389.6,2751.2 L1392.6,2751.6 L1395.6,2752.0 L1398.6,2752.4 L1401.6,2752.7 L1404.6,2753.1 L1407.7,2753.5 L1410.7,2753.8 L1413.7,2754.2 L1416.7,2754.5 L1419.7,2754.8 L1422.7,2755.2 L1425.7,2755.5 L1428.7,2755.8 L1431.7,2756.1 L1434.7,2756.4 L1437.7,2756.7 L1440.7,2757.0 L1443.7,2757.3 L1446.7,2757.5 L1449.7,2757.8 L1452.7,2758.1 L1455.7,2758.3 L1458.7,2758.6 L1461.7,2758.8 L1464.7,2759.1 L1467.7,2759.3 L1470.7,2759.5 L1473.7,2759.7 L1476.7,2760.0 L1479.7,2760.2 L1482.8,2760.4 L1485.8,2760.6 L1488.8,2760.8 L1491.8,2761.0 L1494.8,2761.2 L1497.8,2761.3 L1500.8,2761.5 L1503.8,2761.7 L1506.8,2761.9 L1509.8,2762.0 L1512.8,2762.2 L1515.8,2762.4 L1518.8,2762.5 L1521.8,2762.7 L1524.8,2762.8 L1527.8,2763.0 L1530.8,2763.1 L1533.8,2763.2 L1536.8,2763.4 L1539.8,2763.5 L1542.8,2763.6 L1545.8,2763.7 L1548.8,2763.9 L1551.8,2764.0 L1554.8,2764.1 L1557.8,2764.2 L1560.9,2764.3 L1563.9,2764.4 L1566.9,2764.5 L1569.9,2764.6 L1572.9,2764.7 L1575.9,2764.8 L1578.9,2764.9 L1581.9,2765.0 L1584.9,2765.1 L1587.9,2765.2 L1590.9,2765.2 L1593.9,2765.3 L1596.9,2765.4 L1599.9,2765.5 L1602.9,2765.6 L1605.9,2765.6 L1608.9,2765.7 L1611.9,2765.8 L1614.9,2765.9 L1617.9,2765.9 L1620.9,2766.0 L1623.9,2766.1 L1626.9,2766.1 L1629.9,2766.2 L1632.9,2766.3 L1635.9,2766.3 L1639.0,2766.4 L1642.0,2766.5 L1645.0,2766.5 L1648.0,2766.6 L1651.0,2766.7 L1654.0,2766.7 L1657.0,2766.8 L1660.0,2766.9 L1663.0,2766.9 L1666.0,2767.0 L1669.0,2767.0 L1672.0,2767.1 L1675.0,2767.2" fill="none" stroke="#0000FF" stroke-width="6.6" stroke-linejoin="round"/>
<path d="M137.0,3222.9 L148.1,3221.4 L172.3,3226.0 L202.5,3218.4 L217.6,3218.4 L232.7,3227.5 L247.8,3206.3 L262.9,3206.3 L278.0,3219.9 L296.2,3209.3 L311.3,3213.9 L338.5,3210.8 L353.6,3218.4 L371.7,3209.3 L395.9,3213.9 L432.1,3198.2 L459.3,3207.8 L477.4,3183.7 L507.6,3171.6 L522.7,3186.7 L526.1,3186.6 L555.5,3158.3 L571.4,3166.2 L590.6,3158.3 L602.0,3154.9 L633.7,3128.8 L647.3,3123.2 L667.7,3105.0 L685.8,3093.7 L694.9,3094.8 L713.0,3066.5 L724.3,3033.6 L742.5,3033.6 L756.1,3030.2 L770.8,2996.3 L786.8,2998.9 L802.7,2988.7 L818.5,2988.7 L847.6,2964.2 L862.7,2964.2 L877.8,2961.9 L897.4,2952.9 L911.0,2934.7 L926.1,2947.6 L945.7,2954.4 L968.4,2958.9 L991.1,2966.5 L1003.1,2966.5 L1018.2,2953.6 L1033.8,2967.2 L1049.7,2983.1 L1066.8,2982.7 L1078.1,3009.9 L1094.0,3026.8 L1109.9,3023.4 L1125.7,3034.8 L1141.6,3073.3 L1155.2,3089.2 L1171.0,3102.8 L1186.9,3106.2 L1202.8,3123.2 L1218.6,3150.3 L1236.8,3162.8 L1252.6,3167.3 L1275.3,3186.6 L1295.7,3203.6 L1311.5,3205.9 L1325.1,3195.7 L1341.0,3192.3 L1360.0,3211.5 L1371.7,3220.2 L1388.9,3211.0 L1406.1,3221.5 L1432.5,3226.8 L1451.0,3239.3 L1472.2,3239.3 L1509.2,3241.4 L1533.0,3249.3 L1559.4,3241.4 L1572.6,3240.8 L1588.5,3251.9 L1604.3,3242.7 L1633.4,3253.3 L1650.6,3248.0 L1665.1,3261.2 L1675.0,3259.9" fill="none" stroke="#000000" stroke-width="6.5" stroke-linejoin="miter" stroke-miterlimit="3"/>
<path d="M137.0,3235.8 L140.0,3235.8 L143.0,3235.7 L146.0,3235.7 L149.0,3235.6 L152.0,3235.6 L155.0,3235.5 L158.0,3235.4 L161.0,3235.3 L164.0,3235.2 L167.0,3235.1 L170.0,3235.0 L173.0,3234.9 L176.1,3234.8 L179.1,3234.7 L182.1,3234.5 L185.1,3234.4 L188.1,3234.2 L191.1,3234.1 L194.1,3233.9 L197.1,3233.8 L200.1,3233.6 L203.1,3233.4 L206.1,3233.3 L209.1,3233.1 L212.1,3232.9 L215.1,3232.7 L218.1,3232.5 L221.1,3232.3 L224.1,3232.1 L227.1,3231.9 L230.1,3231.7 L233.1,3231.4 L236.1,3231.2 L239.1,3231.0 L242.1,3230.7 L245.1,3230.5 L248.1,3230.2 L251.1,3230.0 L254.2,3229.7 L257.2,3229.5 L260.2,3229.2 L263.2,3228.9 L266.2,3228.6 L269.2,3228.4 L272.2,3228.1 L275.2,3227.8 L278.2,3227.5 L281.2,3227.2 L284.2,3226.9 L287.2,3226.6 L290.2,3226.3 L293.2,3225.9 L296.2,3225.6 L299.2,3225.3 L302.2,3225.0 L305.2,3224.6 L308.2,3224.3 L311.2,3224.0 L314.2,3223.6 L317.2,3223.3 L320.2,3222.9 L323.2,3222.6 L326.2,3222.2 L329.2,3221.8 L332.3,3221.5 L335.3,3221.1 L338.3,3220.7 L341.3,3220.4 L344.3,3220.0 L347.3,3219.6 L350.3,3219.2 L353.3,3218.8 L356.3,3218.4 L359.3,3218.0 L362.3,3217.6 L365.3,3217.2 L368.3,3216.8 L371.3,3216.4 L374.3,3216.0 L377.3,3215.5 L380.3,3215.1 L383.3,3214.6 L386.3,3214.2 L389.3,3213.7 L392.3,3213.2 L395.3,3212.7 L398.3,3212.2 L401.3,3211.7 L404.3,3211.2 L407.4,3210.7 L410.4,3210.1 L413.4,3209.6 L416.4,3209.0 L419.4,3208.5 L422.4,3207.9 L425.4,3207.3 L428.4,3206.6 L431.4,3206.0 L434.4,3205.4 L437.4,3204.7 L440.4,3204.0 L443.4,3203.4 L446.4,3202.7 L449.4,3201.9 L452.4,3201.2 L455.4,3200.5 L458.4,3199.7 L461.4,3198.9 L464.4,3198.1 L467.4,3197.3 L470.4,3196.4 L473.4,3195.6 L476.4,3194.7 L479.4,3193.8 L482.4,3192.9 L485.5,3192.0 L488.5,3191.0 L491.5,3190.0 L494.5,3189.0 L497.5,3188.0 L500.5,3187.0 L503.5,3185.9 L506.5,3184.8 L509.5,3183.7 L512.5,3182.6 L515.5,3181.4 L518.5,3180.2 L521.5,3179.0 L524.5,3177.8 L527.5,3176.6 L530.5,3175.3 L533.5,3174.1 L536.5,3172.8 L539.5,3171.5 L542.5,3170.1 L545.5,3168.8 L548.5,3167.4 L551.5,3166.0 L554.5,3164.6 L557.5,3163.2 L560.6,3161.8 L563.6,3160.3 L566.6,3158.8 L569.6,3157.3 L572.6,3155.8 L575.6,3154.3 L578.6,3152.8 L581.6,3151.2 L584.6,3149.7 L587.6,3148.1 L590.6,3146.5 L593.6,3144.9 L596.6,3143.2 L599.6,3141.6 L602.6,3139.9 L605.6,3138.3 L608.6,3136.6 L611.6,3134.9 L614.6,3133.2 L617.6,3131.5 L620.6,3129.8 L623.6,3128.0 L626.6,3126.3 L629.6,3124.5 L632.6,3122.7 L635.6,3120.9 L638.7,3119.2 L641.7,3117.4 L644.7,3115.5 L647.7,3113.7 L650.7,3111.9 L653.7,3110.0 L656.7,3108.2 L659.7,3106.3 L662.7,3104.5 L665.7,3102.6 L668.7,3100.7 L671.7,3098.8 L674.7,3096.9 L677.7,3095.0 L680.7,3093.1 L683.7,3091.2 L686.7,3089.3 L689.7,3087.3 L692.7,3085.4 L695.7,3083.5 L698.7,3081.5 L701.7,3079.6 L704.7,3077.6 L707.7,3075.6 L710.7,3073.7 L713.8,3071.7 L716.8,3069.7 L719.8,3067.8 L722.8,3065.8 L725.8,3063.8 L728.8,3061.8 L731.8,3059.9 L734.8,3057.9 L737.8,3055.9 L740.8,3053.9 L743.8,3051.9 L746.8,3049.9 L749.8,3047.9 L752.8,3045.9 L755.8,3043.9 L758.8,3041.9 L761.8,3039.8 L764.8,3037.8 L767.8,3035.8 L770.8,3033.7 L773.8,3031.7 L776.8,3029.7 L779.8,3027.6 L782.8,3025.5 L785.8,3023.5 L788.8,3021.4 L791.9,3019.3 L794.9,3017.2 L797.9,3015.1 L800.9,3013.0 L803.9,3010.9 L806.9,3008.8 L809.9,3006.7 L812.9,3004.5 L815.9,3002.4 L818.9,3000.2 L821.9,2998.1 L824.9,2995.9 L827.9,2993.7 L830.9,2991.5 L833.9,2989.3 L836.9,2987.2 L839.9,2985.0 L842.9,2982.8 L845.9,2980.6 L848.9,2978.4 L851.9,2976.3 L854.9,2974.1 L857.9,2972.0 L860.9,2969.9 L863.9,2967.9 L866.9,2965.8 L870.0,2963.8 L873.0,2961.9 L876.0,2960.0 L879.0,2958.1 L882.0,2956.2 L885.0,2954.5 L888.0,2952.7 L891.0,2951.1 L894.0,2949.5 L897.0,2947.9 L900.0,2946.4 L903.0,2945.0 L906.0,2943.7 L909.0,2942.4 L912.0,2941.3 L915.0,2940.2 L918.0,2939.2 L921.0,2938.3 L924.0,2937.5 L927.0,2936.8 L930.0,2936.2 L933.0,2935.7 L936.0,2935.3 L939.0,2935.0 L942.0,2934.8 L945.1,2934.8 L948.1,2934.9 L951.1,2935.1 L954.1,2935.4 L957.1,2935.8 L960.1,2936.4 L963.1,2937.1 L966.1,2937.8 L969.1,2938.7 L972.1,2939.7 L975.1,2940.8 L978.1,2942.0 L981.1,2943.3 L984.1,2944.6 L987.1,2946.1 L990.1,2947.7 L993.1,2949.4 L996.1,2951.1 L999.1,2952.9 L1002.1,2954.8 L1005.1,2956.8 L1008.1,2958.8 L1011.1,2960.9 L1014.1,2963.0 L1017.1,2965.1 L1020.1,2967.3 L1023.2,2969.4 L1026.2,2971.6 L1029.2,2973.8 L1032.2,2976.0 L1035.2,2978.1 L1038.2,2980.3 L1041.2,2982.4 L1044.2,2984.5 L1047.2,2986.5 L1050.2,2988.5 L1053.2,2990.4 L1056.2,2992.2 L1059.2,2994.0 L1062.2,2995.7 L1065.2,2997.3 L1068.2,2998.8 L1071.2,3000.3 L1074.2,3001.7 L1077.2,3003.1 L1080.2,3004.5 L1083.2,3005.8 L1086.2,3007.1 L1089.2,3008.4 L1092.2,3009.7 L1095.2,3011.0 L1098.2,3012.4 L1101.3,3013.7 L1104.3,3015.1 L1107.3,3016.6 L1110.3,3018.1 L1113.3,3019.6 L1116.3,3021.3 L1119.3,3023.0 L1122.3,3024.8 L1125.3,3026.7 L1128.3,3028.7 L1131.3,3030.9 L1134.3,3033.1 L1137.3,3035.4 L1140.3,3037.9 L1143.3,3040.4 L1146.3,3043.1 L1149.3,3045.8 L1152.3,3048.6 L1155.3,3051.5 L1158.3,3054.5 L1161.3,3057.5 L1164.3,3060.6 L1167.3,3063.8 L1170.3,3067.0 L1173.3,3070.3 L1176.4,3073.6 L1179.4,3076.9 L1182.4,3080.3 L1185.4,3083.8 L1188.4,3087.2 L1191.4,3090.7 L1194.4,3094.2 L1197.4,3097.7 L1200.4,3101.2 L1203.4,3104.7 L1206.4,3108.3 L1209.4,3111.8 L1212.4,3115.3 L1215.4,3118.8 L1218.4,3122.3 L1221.4,3125.7 L1224.4,3129.2 L1227.4,3132.5 L1230.4,3135.9 L1233.4,3139.2 L1236.4,3142.5 L1239.4,3145.7 L1242.4,3148.9 L1245.4,3152.0 L1248.4,3155.0 L1251.4,3158.0 L1254.5,3160.9 L1257.5,3163.8 L1260.5,3166.6 L1263.5,3169.3 L1266.5,3172.0 L1269.5,3174.6 L1272.5,3177.1 L1275.5,3179.6 L1278.5,3182.0 L1281.5,3184.3 L1284.5,3186.6 L1287.5,3188.8 L1290.5,3190.9 L1293.5,3192.9 L1296.5,3194.9 L1299.5,3196.8 L1302.5,3198.6 L1305.5,3200.3 L1308.5,3202.0 L1311.5,3203.6 L1314.5,3205.1 L1317.5,3206.5 L1320.5,3207.9 L1323.5,3209.2 L1326.5,3210.4 L1329.6,3211.6 L1332.6,3212.7 L1335.6,3213.8 L1338.6,3214.8 L1341.6,3215.8 L1344.6,3216.8 L1347.6,3217.7 L1350.6,3218.6 L1353.6,3219.5 L1356.6,3220.3 L1359.6,3221.1 L1362.6,3222.0 L1365.6,3222.8 L1368.6,3223.6 L1371.6,3224.3 L1374.6,3225.1 L1377.6,3225.8 L1380.6,3226.6 L1383.6,3227.3 L1386.6,3228.0 L1389.6,3228.7 L1392.6,3229.4 L1395.6,3230.1 L1398.6,3230.8 L1401.6,3231.4 L1404.6,3232.1 L1407.7,3232.7 L1410.7,3233.3 L1413.7,3233.9 L1416.7,3234.5 L1419.7,3235.1 L1422.7,3235.7 L1425.7,3236.2 L1428.7,3236.8 L1431.7,3237.3 L1434.7,3237.9 L1437.7,3238.4 L1440.7,3238.9 L1443.7,3239.4 L1446.7,3239.9 L1449.7,3240.4 L1452.7,3240.9 L1455.7,3241.3 L1458.7,3241.8 L1461.7,3242.2 L1464.7,3242.7 L1467.7,3243.1 L1470.7,3243.5 L1473.7,3243.9 L1476.7,3244.3 L1479.7,3244.7 L1482.8,3245.1 L1485.8,3245.4 L1488.8,3245.8 L1491.8,3246.2 L1494.8,3246.5 L1497.8,3246.8 L1500.8,3247.2 L1503.8,3247.5 L1506.8,3247.8 L1509.8,3248.1 L1512.8,3248.4 L1515.8,3248.7 L1518.8,3249.0 L1521.8,3249.3 L1524.8,3249.5 L1527.8,3249.8 L1530.8,3250.0 L1533.8,3250.3 L1536.8,3250.5 L1539.8,3250.8 L1542.8,3251.0 L1545.8,3251.2 L1548.8,3251.4 L1551.8,3251.6 L1554.8,3251.8 L1557.8,3252.0 L1560.9,3252.2 L1563.9,3252.4 L1566.9,3252.6 L1569.9,3252.7 L1572.9,3252.9 L1575.9,3253.1 L1578.9,3253.2 L1581.9,3253.4 L1584.9,3253.5 L1587.9,3253.7 L1590.9,3253.8 L1593.9,3253.9 L1596.9,3254.0 L1599.9,3254.2 L1602.9,3254.3 L1605.9,3254.4 L1608.9,3254.5 L1611.9,3254.6 L1614.9,3254.7 L1617.9,3254.8 L1620.9,3254.9 L1623.9,3255.0 L1626.9,3255.0 L1629.9,3255.1 L1632.9,3255.2 L1635.9,3255.3 L1639.0,3255.3 L1642.0,3255.4 L1645.0,3255.5 L1648.0,3255.5 L1651.0,3255.6 L1654.0,3255.6 L1657.0,3255.7 L1660.0,3255.7 L1663.0,3255.8 L1666.0,3255.8 L1669.0,3255.9 L1672.0,3255.9 L1675.0,3255.9" fill="none" stroke="#FF0000" stroke-width="6.6" stroke-linejoin="round"/>
<path d="M800.0,3245.8 L803.0,3245.9 L806.0,3246.1 L809.0,3246.2 L812.0,3246.4 L815.0,3246.5 L818.0,3246.6 L821.0,3246.8 L824.1,3246.9 L827.1,3247.0 L830.1,3247.1 L833.1,3247.3 L836.1,3247.4 L839.1,3247.5 L842.1,3247.7 L845.1,3247.8 L848.1,3247.9 L851.1,3248.0 L854.1,3248.2 L857.1,3248.3 L860.1,3248.4 L863.1,3248.5 L866.2,3248.7 L869.2,3248.8 L872.2,3248.9 L875.2,3249.0 L878.2,3249.2 L881.2,3249.3 L884.2,3249.4 L887.2,3249.5 L890.2,3249.6 L893.2,3249.8 L896.2,3249.9 L899.2,3250.0 L902.2,3250.1 L905.2,3250.2 L908.2,3250.3 L911.3,3250.5 L914.3,3250.6 L917.3,3250.7 L920.3,3250.8 L923.3,3250.9 L926.3,3251.0 L929.3,3251.1 L932.3,3251.2 L935.3,3251.3 L938.3,3251.5 L941.3,3251.6 L944.3,3251.7 L947.3,3251.8 L950.3,3251.9 L953.4,3252.0 L956.4,3252.1 L959.4,3252.2 L962.4,3252.3 L965.4,3252.4 L968.4,3252.5 L971.4,3252.6 L974.4,3252.7 L977.4,3252.8 L980.4,3252.9 L983.4,3253.0 L986.4,3253.1 L989.4,3253.2 L992.4,3253.3 L995.4,3253.4 L998.5,3253.5 L1001.5,3253.6 L1004.5,3253.7 L1007.5,3253.8 L1010.5,3253.9 L1013.5,3254.0 L1016.5,3254.1 L1019.5,3254.2 L1022.5,3254.3 L1025.5,3254.4 L1028.5,3254.5 L1031.5,3254.6 L1034.5,3254.6 L1037.5,3254.7 L1040.5,3254.8 L1043.6,3254.9 L1046.6,3255.0 L1049.6,3255.1 L1052.6,3255.2 L1055.6,3255.3 L1058.6,3255.3 L1061.6,3255.4 L1064.6,3255.5 L1067.6,3255.6 L1070.6,3255.7 L1073.6,3255.8 L1076.6,3255.9 L1079.6,3255.9 L1082.6,3256.0 L1085.7,3256.1 L1088.7,3256.2 L1091.7,3256.3 L1094.7,3256.3 L1097.7,3256.4 L1100.7,3256.5 L1103.7,3256.6 L1106.7,3256.7 L1109.7,3256.7 L1112.7,3256.8 L1115.7,3256.9 L1118.7,3257.0 L1121.7,3257.0 L1124.7,3257.1 L1127.7,3257.2 L1130.8,3257.2 L1133.8,3257.3 L1136.8,3257.4 L1139.8,3257.5 L1142.8,3257.5 L1145.8,3257.6 L1148.8,3257.7 L1151.8,3257.7 L1154.8,3257.8 L1157.8,3257.9 L1160.8,3257.9 L1163.8,3258.0 L1166.8,3258.1 L1169.8,3258.1 L1172.9,3258.2 L1175.9,3258.3 L1178.9,3258.3 L1181.9,3258.4 L1184.9,3258.5 L1187.9,3258.5 L1190.9,3258.6 L1193.9,3258.7 L1196.9,3258.7 L1199.9,3258.8 L1202.9,3258.8 L1205.9,3258.9 L1208.9,3258.9 L1211.9,3259.0 L1214.9,3259.1 L1218.0,3259.1 L1221.0,3259.2 L1224.0,3259.2 L1227.0,3259.3 L1230.0,3259.3 L1233.0,3259.4 L1236.0,3259.5 L1239.0,3259.5 L1242.0,3259.6 L1245.0,3259.6 L1248.0,3259.7 L1251.0,3259.7 L1254.0,3259.8 L1257.0,3259.8 L1260.1,3259.9 L1263.1,3259.9 L1266.1,3260.0 L1269.1,3260.0 L1272.1,3260.1 L1275.1,3260.1 L1278.1,3260.2 L1281.1,3260.2 L1284.1,3260.2 L1287.1,3260.3 L1290.1,3260.3 L1293.1,3260.4 L1296.1,3260.4 L1299.1,3260.5 L1302.1,3260.5 L1305.2,3260.6 L1308.2,3260.6 L1311.2,3260.6 L1314.2,3260.7 L1317.2,3260.7 L1320.2,3260.8 L1323.2,3260.8 L1326.2,3260.8 L1329.2,3260.9 L1332.2,3260.9 L1335.2,3260.9 L1338.2,3261.0 L1341.2,3261.0 L1344.2,3261.1 L1347.3,3261.1 L1350.3,3261.1 L1353.3,3261.2 L1356.3,3261.2 L1359.3,3261.2 L1362.3,3261.3 L1365.3,3261.3 L1368.3,3261.3 L1371.3,3261.3 L1374.3,3261.4 L1377.3,3261.4 L1380.3,3261.4 L1383.3,3261.5 L1386.3,3261.5 L1389.3,3261.5 L1392.4,3261.6 L1395.4,3261.6 L1398.4,3261.6 L1401.4,3261.6 L1404.4,3261.7 L1407.4,3261.7 L1410.4,3261.7 L1413.4,3261.7 L1416.4,3261.8 L1419.4,3261.8 L1422.4,3261.8 L1425.4,3261.8 L1428.4,3261.8 L1431.4,3261.9 L1434.5,3261.9 L1437.5,3261.9 L1440.5,3261.9 L1443.5,3261.9 L1446.5,3262.0 L1449.5,3262.0 L1452.5,3262.0 L1455.5,3262.0 L1458.5,3262.0 L1461.5,3262.0 L1464.5,3262.1 L1467.5,3262.1 L1470.5,3262.1 L1473.5,3262.1 L1476.5,3262.1 L1479.6,3262.1 L1482.6,3262.1 L1485.6,3262.2 L1488.6,3262.2 L1491.6,3262.2 L1494.6,3262.2 L1497.6,3262.2 L1500.6,3262.2 L1503.6,3262.2 L1506.6,3262.2 L1509.6,3262.2 L1512.6,3262.3 L1515.6,3262.3 L1518.6,3262.3 L1521.6,3262.3 L1524.7,3262.3 L1527.7,3262.3 L1530.7,3262.3 L1533.7,3262.3 L1536.7,3262.3 L1539.7,3262.3 L1542.7,3262.3 L1545.7,3262.3 L1548.7,3262.3 L1551.7,3262.3 L1554.7,3262.3 L1557.7,3262.3 L1560.7,3262.3 L1563.7,3262.3 L1566.8,3262.3 L1569.8,3262.3 L1572.8,3262.3 L1575.8,3262.3 L1578.8,3262.3 L1581.8,3262.3 L1584.8,3262.3 L1587.8,3262.3 L1590.8,3262.3 L1593.8,3262.3 L1596.8,3262.3 L1599.8,3262.3 L1602.8,3262.3 L1605.8,3262.3 L1608.8,3262.3 L1611.9,3262.3 L1614.9,3262.3 L1617.9,3262.3 L1620.9,3262.2 L1623.9,3262.2 L1626.9,3262.2 L1629.9,3262.2 L1632.9,3262.2 L1635.9,3262.2 L1638.9,3262.2 L1641.9,3262.2 L1644.9,3262.2 L1647.9,3262.2 L1650.9,3262.1 L1654.0,3262.1 L1657.0,3262.1 L1660.0,3262.1 L1663.0,3262.1 L1666.0,3262.1 L1669.0,3262.1 L1672.0,3262.0 L1675.0,3262.0" fill="none" stroke="#8000FF" stroke-width="6.6" stroke-linejoin="round"/>
<path d="M137.0,3237.2 L140.0,3237.4 L143.0,3237.6 L146.0,3237.8 L149.0,3238.0 L152.0,3238.1 L155.0,3238.2 L158.0,3238.3 L161.0,3238.4 L164.0,3238.5 L167.0,3238.6 L170.0,3238.6 L173.0,3238.6 L176.1,3238.7 L179.1,3238.7 L182.1,3238.7 L185.1,3238.6 L188.1,3238.6 L191.1,3238.6 L194.1,3238.5 L197.1,3238.4 L200.1,3238.4 L203.1,3238.3 L206.1,3238.2 L209.1,3238.0 L212.1,3237.9 L215.1,3237.8 L218.1,3237.6 L221.1,3237.5 L224.1,3237.3 L227.1,3237.1 L230.1,3236.9 L233.1,3236.7 L236.1,3236.5 L239.1,3236.3 L242.1,3236.1 L245.1,3235.9 L248.1,3235.6 L251.1,3235.4 L254.2,3235.1 L257.2,3234.9 L260.2,3234.6 L263.2,3234.3 L266.2,3234.1 L269.2,3233.8 L272.2,3233.5 L275.2,3233.2 L278.2,3232.9 L281.2,3232.6 L284.2,3232.3 L287.2,3232.0 L290.2,3231.6 L293.2,3231.3 L296.2,3231.0 L299.2,3230.7 L302.2,3230.3 L305.2,3230.0 L308.2,3229.7 L311.2,3229.3 L314.2,3229.0 L317.2,3228.6 L320.2,3228.3 L323.2,3227.9 L326.2,3227.6 L329.2,3227.2 L332.3,3226.9 L335.3,3226.5 L338.3,3226.2 L341.3,3225.8 L344.3,3225.5 L347.3,3225.2 L350.3,3224.8 L353.3,3224.5 L356.3,3224.1 L359.3,3223.8 L362.3,3223.4 L365.3,3223.1 L368.3,3222.7 L371.3,3222.4 L374.3,3222.0 L377.3,3221.7 L380.3,3221.3 L383.3,3221.0 L386.3,3220.6 L389.3,3220.3 L392.3,3219.9 L395.3,3219.6 L398.3,3219.2 L401.3,3218.8 L404.3,3218.5 L407.4,3218.1 L410.4,3217.8 L413.4,3217.4 L416.4,3217.0 L419.4,3216.6 L422.4,3216.3 L425.4,3215.9 L428.4,3215.5 L431.4,3215.1 L434.4,3214.7 L437.4,3214.3 L440.4,3213.9 L443.4,3213.5 L446.4,3213.1 L449.4,3212.7 L452.4,3212.3 L455.4,3211.9 L458.4,3211.5 L461.4,3211.1 L464.4,3210.7 L467.4,3210.2 L470.4,3209.8 L473.4,3209.3 L476.4,3208.9 L479.4,3208.4 L482.4,3207.9 L485.5,3207.4 L488.5,3206.9 L491.5,3206.4 L494.5,3205.8 L497.5,3205.3 L500.5,3204.7 L503.5,3204.1 L506.5,3203.4 L509.5,3202.8 L512.5,3202.1 L515.5,3201.4 L518.5,3200.7 L521.5,3199.9 L524.5,3199.2 L527.5,3198.4 L530.5,3197.6 L533.5,3196.8 L536.5,3196.0 L539.5,3195.2 L542.5,3194.4 L545.5,3193.5 L548.5,3192.7 L551.5,3191.8 L554.5,3190.9 L557.5,3190.0 L560.6,3189.2 L563.6,3188.3 L566.6,3187.4 L569.6,3186.5 L572.6,3185.5 L575.6,3184.6 L578.6,3183.7 L581.6,3182.8 L584.6,3181.9 L587.6,3181.0 L590.6,3180.1 L593.6,3179.2 L596.6,3178.3 L599.6,3177.4 L602.6,3176.5 L605.6,3175.6 L608.6,3174.7 L611.6,3173.8 L614.6,3173.0 L617.6,3172.1 L620.6,3171.3 L623.6,3170.4 L626.6,3169.6 L629.6,3168.8 L632.6,3168.0 L635.6,3167.2 L638.7,3166.4 L641.7,3165.7 L644.7,3165.0 L647.7,3164.2 L650.7,3163.6 L653.7,3162.9 L656.7,3162.2 L659.7,3161.6 L662.7,3161.0 L665.7,3160.4 L668.7,3159.8 L671.7,3159.3 L674.7,3158.8 L677.7,3158.3 L680.7,3157.8 L683.7,3157.4 L686.7,3157.0 L689.7,3156.6 L692.7,3156.3 L695.7,3155.9 L698.7,3155.7 L701.7,3155.4 L704.7,3155.2 L707.7,3155.0 L710.7,3154.9 L713.8,3154.8 L716.8,3154.7 L719.8,3154.7 L722.8,3154.7 L725.8,3154.8 L728.8,3154.8 L731.8,3155.0 L734.8,3155.2 L737.8,3155.4 L740.8,3155.6 L743.8,3156.0 L746.8,3156.3 L749.8,3156.7 L752.8,3157.2 L755.8,3157.7 L758.8,3158.2 L761.8,3158.8 L764.8,3159.4 L767.8,3160.1 L770.8,3160.8 L773.8,3161.5 L776.8,3162.3 L779.8,3163.1 L782.8,3163.9 L785.8,3164.8 L788.8,3165.7 L791.9,3166.6 L794.9,3167.6 L797.9,3168.5 L800.9,3169.5 L803.9,3170.6 L806.9,3171.6 L809.9,3172.7 L812.9,3173.7 L815.9,3174.8 L818.9,3175.9 L821.9,3177.0 L824.9,3178.1 L827.9,3179.3 L830.9,3180.4 L833.9,3181.5 L836.9,3182.7 L839.9,3183.8 L842.9,3185.0 L845.9,3186.1 L848.9,3187.2 L851.9,3188.4 L854.9,3189.5 L857.9,3190.6 L860.9,3191.7 L863.9,3192.8 L866.9,3193.9 L870.0,3195.0 L873.0,3196.1 L876.0,3197.1 L879.0,3198.2 L882.0,3199.2 L885.0,3200.2 L888.0,3201.2 L891.0,3202.1 L894.0,3203.1 L897.0,3204.0 L900.0,3205.0 L903.0,3205.9 L906.0,3206.8 L909.0,3207.7 L912.0,3208.5 L915.0,3209.4 L918.0,3210.2 L921.0,3211.1 L924.0,3211.9 L927.0,3212.7 L930.0,3213.5 L933.0,3214.3 L936.0,3215.1 L939.0,3215.8 L942.0,3216.6 L945.1,3217.3 L948.1,3218.0 L951.1,3218.8 L954.1,3219.5 L957.1,3220.2 L960.1,3220.9 L963.1,3221.5 L966.1,3222.2 L969.1,3222.9 L972.1,3223.5 L975.1,3224.1 L978.1,3224.8 L981.1,3225.4 L984.1,3226.0 L987.1,3226.6 L990.1,3227.2 L993.1,3227.8 L996.1,3228.4 L999.1,3228.9 L1002.1,3229.5 L1005.1,3230.0 L1008.1,3230.6 L1011.1,3231.1 L1014.1,3231.7 L1017.1,3232.2 L1020.1,3232.7 L1023.2,3233.2 L1026.2,3233.7 L1029.2,3234.2 L1032.2,3234.7 L1035.2,3235.2 L1038.2,3235.7 L1041.2,3236.1 L1044.2,3236.6 L1047.2,3237.1 L1050.2,3237.5 L1053.2,3238.0 L1056.2,3238.4 L1059.2,3238.8 L1062.2,3239.2 L1065.2,3239.7 L1068.2,3240.1 L1071.2,3240.5 L1074.2,3240.9 L1077.2,3241.3 L1080.2,3241.7 L1083.2,3242.0 L1086.2,3242.4 L1089.2,3242.8 L1092.2,3243.2 L1095.2,3243.5 L1098.2,3243.9 L1101.3,3244.2 L1104.3,3244.5 L1107.3,3244.9 L1110.3,3245.2 L1113.3,3245.5 L1116.3,3245.8 L1119.3,3246.2 L1122.3,3246.5 L1125.3,3246.8 L1128.3,3247.1 L1131.3,3247.4 L1134.3,3247.6 L1137.3,3247.9 L1140.3,3248.2 L1143.3,3248.5 L1146.3,3248.7 L1149.3,3249.0 L1152.3,3249.2 L1155.3,3249.5 L1158.3,3249.7 L1161.3,3250.0 L1164.3,3250.2 L1167.3,3250.4 L1170.3,3250.7 L1173.3,3250.9 L1176.4,3251.1 L1179.4,3251.3 L1182.4,3251.5 L1185.4,3251.7 L1188.4,3251.9 L1191.4,3252.1 L1194.4,3252.3 L1197.4,3252.5 L1200.4,3252.7 L1203.4,3252.9 L1206.4,3253.0 L1209.4,3253.2 L1212.4,3253.4 L1215.4,3253.5 L1218.4,3253.7 L1221.4,3253.8 L1224.4,3254.0 L1227.4,3254.1 L1230.4,3254.3 L1233.4,3254.4 L1236.4,3254.6 L1239.4,3254.7 L1242.4,3254.8 L1245.4,3254.9 L1248.4,3255.1 L1251.4,3255.2 L1254.5,3255.3 L1257.5,3255.4 L1260.5,3255.5 L1263.5,3255.6 L1266.5,3255.7 L1269.5,3255.8 L1272.5,3255.9 L1275.5,3256.0 L1278.5,3256.1 L1281.5,3256.2 L1284.5,3256.3 L1287.5,3256.3 L1290.5,3256.4 L1293.5,3256.5 L1296.5,3256.6 L1299.5,3256.6 L1302.5,3256.7 L1305.5,3256.8 L1308.5,3256.8 L1311.5,3256.9 L1314.5,3257.0 L1317.5,3257.0 L1320.5,3257.1 L1323.5,3257.1 L1326.5,3257.2 L1329.6,3257.2 L1332.6,3257.2 L1335.6,3257.3 L1338.6,3257.3 L1341.6,3257.4 L1344.6,3257.4 L1347.6,3257.4 L1350.6,3257.5 L1353.6,3257.5 L1356.6,3257.5 L1359.6,3257.6 L1362.6,3257.6 L1365.6,3257.6 L1368.6,3257.6 L1371.6,3257.7 L1374.6,3257.7 L1377.6,3257.7 L1380.6,3257.7 L1383.6,3257.7 L1386.6,3257.7 L1389.6,3257.8 L1392.6,3257.8 L1395.6,3257.8 L1398.6,3257.8 L1401.6,3257.8 L1404.6,3257.8 L1407.7,3257.8 L1410.7,3257.8 L1413.7,3257.8 L1416.7,3257.8 L1419.7,3257.8 L1422.7,3257.9 L1425.7,3257.9 L1428.7,3257.9 L1431.7,3257.9 L1434.7,3257.9 L1437.7,3257.9 L1440.7,3257.9 L1443.7,3257.9 L1446.7,3257.9 L1449.7,3257.9 L1452.7,3257.9 L1455.7,3257.9 L1458.7,3257.9 L1461.7,3257.9 L1464.7,3257.9 L1467.7,3257.9 L1470.7,3257.9 L1473.7,3257.9 L1476.7,3257.9 L1479.7,3257.9 L1482.8,3257.9 L1485.8,3257.9 L1488.8,3257.9 L1491.8,3257.9 L1494.8,3257.9 L1497.8,3257.9 L1500.8,3257.9 L1503.8,3257.9 L1506.8,3257.9 L1509.8,3257.9 L1512.8,3257.9 L1515.8,3257.9 L1518.8,3257.9 L1521.8,3257.9 L1524.8,3257.9 L1527.8,3258.0 L1530.8,3258.0 L1533.8,3258.0 L1536.8,3258.0 L1539.8,3258.0 L1542.8,3258.0 L1545.8,3258.1 L1548.8,3258.1 L1551.8,3258.1 L1554.8,3258.1 L1557.8,3258.1 L1560.9,3258.2 L1563.9,3258.2 L1566.9,3258.2 L1569.9,3258.3 L1572.9,3258.3 L1575.9,3258.3 L1578.9,3258.4 L1581.9,3258.4 L1584.9,3258.4 L1587.9,3258.5 L1590.9,3258.5 L1593.9,3258.6 L1596.9,3258.6 L1599.9,3258.7 L1602.9,3258.7 L1605.9,3258.8 L1608.9,3258.8 L1611.9,3258.9 L1614.9,3259.0 L1617.9,3259.0 L1620.9,3259.1 L1623.9,3259.2 L1626.9,3259.2 L1629.9,3259.3 L1632.9,3259.4 L1635.9,3259.5 L1639.0,3259.5 L1642.0,3259.6 L1645.0,3259.7 L1648.0,3259.8 L1651.0,3259.9 L1654.0,3260.0 L1657.0,3260.1 L1660.0,3260.2 L1663.0,3260.3 L1666.0,3260.4 L1669.0,3260.5 L1672.0,3260.7 L1675.0,3260.8" fill="none" stroke="#008080" stroke-width="6.6" stroke-linejoin="round"/>
<path d="M137.0,3241.2 L140.0,3241.1 L143.0,3241.1 L146.0,3241.1 L149.0,3241.1 L152.0,3241.0 L155.0,3241.0 L158.0,3241.0 L161.0,3240.9 L164.0,3240.9 L167.0,3240.9 L170.0,3240.9 L173.0,3240.9 L176.1,3240.8 L179.1,3240.8 L182.1,3240.8 L185.1,3240.8 L188.1,3240.8 L191.1,3240.8 L194.1,3240.7 L197.1,3240.7 L200.1,3240.7 L203.1,3240.7 L206.1,3240.7 L209.1,3240.7 L212.1,3240.7 L215.1,3240.7 L218.1,3240.7 L221.1,3240.7 L224.1,3240.7 L227.1,3240.7 L230.1,3240.6 L233.1,3240.6 L236.1,3240.6 L239.1,3240.6 L242.1,3240.6 L245.1,3240.6 L248.1,3240.6 L251.1,3240.7 L254.2,3240.7 L257.2,3240.7 L260.2,3240.7 L263.2,3240.7 L266.2,3240.7 L269.2,3240.7 L272.2,3240.7 L275.2,3240.7 L278.2,3240.7 L281.2,3240.7 L284.2,3240.7 L287.2,3240.7 L290.2,3240.8 L293.2,3240.8 L296.2,3240.8 L299.2,3240.8 L302.2,3240.8 L305.2,3240.8 L308.2,3240.8 L311.2,3240.9 L314.2,3240.9 L317.2,3240.9 L320.2,3240.9 L323.2,3240.9 L326.2,3240.9 L329.2,3241.0 L332.3,3241.0 L335.3,3241.0 L338.3,3241.0 L341.3,3241.1 L344.3,3241.1 L347.3,3241.1 L350.3,3241.1 L353.3,3241.1 L356.3,3241.2 L359.3,3241.2 L362.3,3241.2 L365.3,3241.2 L368.3,3241.3 L371.3,3241.3 L374.3,3241.3 L377.3,3241.4 L380.3,3241.4 L383.3,3241.4 L386.3,3241.4 L389.3,3241.5 L392.3,3241.5 L395.3,3241.5 L398.3,3241.6 L401.3,3241.6 L404.3,3241.6 L407.4,3241.7 L410.4,3241.7 L413.4,3241.7 L416.4,3241.8 L419.4,3241.8 L422.4,3241.8 L425.4,3241.8 L428.4,3241.9 L431.4,3241.9 L434.4,3242.0 L437.4,3242.0 L440.4,3242.0 L443.4,3242.1 L446.4,3242.1 L449.4,3242.1 L452.4,3242.2 L455.4,3242.2 L458.4,3242.2 L461.4,3242.3 L464.4,3242.3 L467.4,3242.3 L470.4,3242.4 L473.4,3242.4 L476.4,3242.4 L479.4,3242.5 L482.4,3242.5 L485.5,3242.6 L488.5,3242.6 L491.5,3242.6 L494.5,3242.7 L497.5,3242.7 L500.5,3242.7 L503.5,3242.8 L506.5,3242.8 L509.5,3242.9 L512.5,3242.9 L515.5,3242.9 L518.5,3243.0 L521.5,3243.0 L524.5,3243.0 L527.5,3243.1 L530.5,3243.1 L533.5,3243.1 L536.5,3243.2 L539.5,3243.2 L542.5,3243.3 L545.5,3243.3 L548.5,3243.3 L551.5,3243.4 L554.5,3243.4 L557.5,3243.4 L560.6,3243.5 L563.6,3243.5 L566.6,3243.5 L569.6,3243.6 L572.6,3243.6 L575.6,3243.7 L578.6,3243.7 L581.6,3243.7 L584.6,3243.8 L587.6,3243.8 L590.6,3243.8 L593.6,3243.9 L596.6,3243.9 L599.6,3243.9 L602.6,3244.0 L605.6,3244.0 L608.6,3244.0 L611.6,3244.1 L614.6,3244.1 L617.6,3244.1 L620.6,3244.2 L623.6,3244.2 L626.6,3244.2 L629.6,3244.3 L632.6,3244.3 L635.6,3244.3 L638.7,3244.3 L641.7,3244.4 L644.7,3244.4 L647.7,3244.4 L650.7,3244.5 L653.7,3244.5 L656.7,3244.5 L659.7,3244.5 L662.7,3244.6 L665.7,3244.6 L668.7,3244.6 L671.7,3244.6 L674.7,3244.7 L677.7,3244.7 L680.7,3244.7 L683.7,3244.7 L686.7,3244.8 L689.7,3244.8 L692.7,3244.8 L695.7,3244.8 L698.7,3244.8 L701.7,3244.9 L704.7,3244.9 L707.7,3244.9 L710.7,3244.9 L713.8,3244.9 L716.8,3245.0 L719.8,3245.0 L722.8,3245.0 L725.8,3245.0 L728.8,3245.0 L731.8,3245.0 L734.8,3245.1 L737.8,3245.1 L740.8,3245.1 L743.8,3245.1 L746.8,3245.1 L749.8,3245.1 L752.8,3245.1 L755.8,3245.1 L758.8,3245.1 L761.8,3245.1 L764.8,3245.2 L767.8,3245.2 L770.8,3245.2 L773.8,3245.2 L776.8,3245.2 L779.8,3245.2 L782.8,3245.2 L785.8,3245.2 L788.8,3245.2 L791.9,3245.2 L794.9,3245.2 L797.9,3245.2 L800.9,3245.2 L803.9,3245.2 L806.9,3245.2 L809.9,3245.2 L812.9,3245.1 L815.9,3245.1 L818.9,3245.1 L821.9,3245.1 L824.9,3245.1 L827.9,3245.1 L830.9,3245.1 L833.9,3245.0 L836.9,3245.0 L839.9,3245.0 L842.9,3244.9 L845.9,3244.9 L848.9,3244.8 L851.9,3244.8 L854.9,3244.7 L857.9,3244.6 L860.9,3244.6 L863.9,3244.5 L866.9,3244.4 L870.0,3244.3 L873.0,3244.2 L876.0,3244.1 L879.0,3244.0 L882.0,3243.9 L885.0,3243.8 L888.0,3243.6 L891.0,3243.5 L894.0,3243.3 L897.0,3243.2 L900.0,3243.0 L903.0,3242.8 L906.0,3242.6 L909.0,3242.4 L912.0,3242.2 L915.0,3242.0 L918.0,3241.8 L921.0,3241.5 L924.0,3241.3 L927.0,3241.0 L930.0,3240.7 L933.0,3240.4 L936.0,3240.1 L939.0,3239.8 L942.0,3239.5 L945.1,3239.1 L948.1,3238.8 L951.1,3238.4 L954.1,3238.0 L957.1,3237.6 L960.1,3237.2 L963.1,3236.8 L966.1,3236.3 L969.1,3235.9 L972.1,3235.4 L975.1,3234.9 L978.1,3234.3 L981.1,3233.8 L984.1,3233.2 L987.1,3232.6 L990.1,3232.0 L993.1,3231.3 L996.1,3230.7 L999.1,3229.9 L1002.1,3229.2 L1005.1,3228.4 L1008.1,3227.6 L1011.1,3226.7 L1014.1,3225.8 L1017.1,3224.8 L1020.1,3223.8 L1023.2,3222.8 L1026.2,3221.7 L1029.2,3220.5 L1032.2,3219.4 L1035.2,3218.1 L1038.2,3216.8 L1041.2,3215.5 L1044.2,3214.1 L1047.2,3212.6 L1050.2,3211.1 L1053.2,3209.5 L1056.2,3207.9 L1059.2,3206.1 L1062.2,3204.4 L1065.2,3202.5 L1068.2,3200.6 L1071.2,3198.7 L1074.2,3196.8 L1077.2,3194.8 L1080.2,3192.8 L1083.2,3190.7 L1086.2,3188.7 L1089.2,3186.7 L1092.2,3184.7 L1095.2,3182.8 L1098.2,3180.8 L1101.3,3179.0 L1104.3,3177.1 L1107.3,3175.4 L1110.3,3173.7 L1113.3,3172.1 L1116.3,3170.6 L1119.3,3169.2 L1122.3,3167.9 L1125.3,3166.8 L1128.3,3165.9 L1131.3,3165.2 L1134.3,3164.6 L1137.3,3164.2 L1140.3,3164.0 L1143.3,3163.9 L1146.3,3164.0 L1149.3,3164.2 L1152.3,3164.6 L1155.3,3165.1 L1158.3,3165.7 L1161.3,3166.5 L1164.3,3167.3 L1167.3,3168.3 L1170.3,3169.4 L1173.3,3170.6 L1176.4,3171.9 L1179.4,3173.3 L1182.4,3174.8 L1185.4,3176.3 L1188.4,3178.0 L1191.4,3179.6 L1194.4,3181.4 L1197.4,3183.2 L1200.4,3185.1 L1203.4,3187.0 L1206.4,3188.9 L1209.4,3190.9 L1212.4,3192.9 L1215.4,3194.9 L1218.4,3197.0 L1221.4,3199.0 L1224.4,3201.1 L1227.4,3203.1 L1230.4,3205.2 L1233.4,3207.2 L1236.4,3209.2 L1239.4,3211.2 L1242.4,3213.2 L1245.4,3215.1 L1248.4,3217.0 L1251.4,3218.9 L1254.5,3220.7 L1257.5,3222.4 L1260.5,3224.1 L1263.5,3225.7 L1266.5,3227.2 L1269.5,3228.6 L1272.5,3230.0 L1275.5,3231.3 L1278.5,3232.6 L1281.5,3233.8 L1284.5,3234.9 L1287.5,3235.9 L1290.5,3236.9 L1293.5,3237.9 L1296.5,3238.8 L1299.5,3239.6 L1302.5,3240.4 L1305.5,3241.1 L1308.5,3241.8 L1311.5,3242.5 L1314.5,3243.1 L1317.5,3243.7 L1320.5,3244.2 L1323.5,3244.7 L1326.5,3245.2 L1329.6,3245.7 L1332.6,3246.1 L1335.6,3246.5 L1338.6,3246.9 L1341.6,3247.2 L1344.6,3247.6 L1347.6,3247.9 L1350.6,3248.2 L1353.6,3248.5 L1356.6,3248.8 L1359.6,3249.1 L1362.6,3249.4 L1365.6,3249.7 L1368.6,3250.0 L1371.6,3250.2 L1374.6,3250.5 L1377.6,3250.8 L1380.6,3251.0 L1383.6,3251.3 L1386.6,3251.6 L1389.6,3251.8 L1392.6,3252.1 L1395.6,3252.3 L1398.6,3252.6 L1401.6,3252.8 L1404.6,3253.0 L1407.7,3253.3 L1410.7,3253.5 L1413.7,3253.7 L1416.7,3253.9 L1419.7,3254.2 L1422.7,3254.4 L1425.7,3254.6 L1428.7,3254.8 L1431.7,3255.0 L1434.7,3255.2 L1437.7,3255.4 L1440.7,3255.6 L1443.7,3255.8 L1446.7,3256.0 L1449.7,3256.2 L1452.7,3256.4 L1455.7,3256.6 L1458.7,3256.7 L1461.7,3256.9 L1464.7,3257.1 L1467.7,3257.2 L1470.7,3257.4 L1473.7,3257.6 L1476.7,3257.7 L1479.7,3257.9 L1482.8,3258.0 L1485.8,3258.2 L1488.8,3258.3 L1491.8,3258.4 L1494.8,3258.6 L1497.8,3258.7 L1500.8,3258.8 L1503.8,3259.0 L1506.8,3259.1 L1509.8,3259.2 L1512.8,3259.3 L1515.8,3259.4 L1518.8,3259.5 L1521.8,3259.6 L1524.8,3259.7 L1527.8,3259.8 L1530.8,3259.9 L1533.8,3260.0 L1536.8,3260.1 L1539.8,3260.2 L1542.8,3260.3 L1545.8,3260.4 L1548.8,3260.4 L1551.8,3260.5 L1554.8,3260.6 L1557.8,3260.6 L1560.9,3260.7 L1563.9,3260.7 L1566.9,3260.8 L1569.9,3260.8 L1572.9,3260.9 L1575.9,3260.9 L1578.9,3261.0 L1581.9,3261.0 L1584.9,3261.0 L1587.9,3261.1 L1590.9,3261.1 L1593.9,3261.1 L1596.9,3261.1 L1599.9,3261.1 L1602.9,3261.2 L1605.9,3261.2 L1608.9,3261.2 L1611.9,3261.2 L1614.9,3261.2 L1617.9,3261.2 L1620.9,3261.2 L1623.9,3261.1 L1626.9,3261.1 L1629.9,3261.1 L1632.9,3261.1 L1635.9,3261.1 L1639.0,3261.0 L1642.0,3261.0 L1645.0,3261.0 L1648.0,3260.9 L1651.0,3260.9 L1654.0,3260.8 L1657.0,3260.8 L1660.0,3260.7 L1663.0,3260.7 L1666.0,3260.6 L1669.0,3260.5 L1672.0,3260.5 L1675.0,3260.4" fill="none" stroke="#FF00FF" stroke-width="6.6" stroke-linejoin="round"/>
<path d="M137.0,3238.0 L140.0,3238.0 L143.0,3238.0 L146.0,3238.1 L149.0,3238.1 L152.0,3238.2 L155.0,3238.2 L158.0,3238.2 L161.0,3238.3 L164.0,3238.3 L167.0,3238.3 L170.0,3238.4 L173.0,3238.4 L176.1,3238.4 L179.1,3238.4 L182.1,3238.5 L185.1,3238.5 L188.1,3238.5 L191.1,3238.5 L194.1,3238.5 L197.1,3238.6 L200.1,3238.6 L203.1,3238.6 L206.1,3238.6 L209.1,3238.6 L212.1,3238.6 L215.1,3238.6 L218.1,3238.6 L221.1,3238.6 L224.1,3238.6 L227.1,3238.6 L230.1,3238.6 L233.1,3238.6 L236.1,3238.6 L239.1,3238.6 L242.1,3238.6 L245.1,3238.6 L248.1,3238.6 L251.1,3238.6 L254.2,3238.5 L257.2,3238.5 L260.2,3238.5 L263.2,3238.5 L266.2,3238.4 L269.2,3238.4 L272.2,3238.4 L275.2,3238.3 L278.2,3238.3 L281.2,3238.2 L284.2,3238.2 L287.2,3238.1 L290.2,3238.1 L293.2,3238.0 L296.2,3238.0 L299.2,3237.9 L302.2,3237.8 L305.2,3237.8 L308.2,3237.7 L311.2,3237.6 L314.2,3237.5 L317.2,3237.5 L320.2,3237.4 L323.2,3237.3 L326.2,3237.2 L329.2,3237.1 L332.3,3237.0 L335.3,3236.9 L338.3,3236.8 L341.3,3236.7 L344.3,3236.5 L347.3,3236.4 L350.3,3236.3 L353.3,3236.2 L356.3,3236.0 L359.3,3235.9 L362.3,3235.8 L365.3,3235.6 L368.3,3235.5 L371.3,3235.3 L374.3,3235.2 L377.3,3235.0 L380.3,3234.8 L383.3,3234.7 L386.3,3234.5 L389.3,3234.3 L392.3,3234.1 L395.3,3233.9 L398.3,3233.7 L401.3,3233.5 L404.3,3233.3 L407.4,3233.1 L410.4,3232.9 L413.4,3232.7 L416.4,3232.5 L419.4,3232.2 L422.4,3232.0 L425.4,3231.8 L428.4,3231.5 L431.4,3231.3 L434.4,3231.0 L437.4,3230.8 L440.4,3230.5 L443.4,3230.2 L446.4,3230.0 L449.4,3229.7 L452.4,3229.4 L455.4,3229.1 L458.4,3228.8 L461.4,3228.5 L464.4,3228.2 L467.4,3227.9 L470.4,3227.5 L473.4,3227.2 L476.4,3226.9 L479.4,3226.5 L482.4,3226.2 L485.5,3225.9 L488.5,3225.5 L491.5,3225.1 L494.5,3224.8 L497.5,3224.4 L500.5,3224.0 L503.5,3223.6 L506.5,3223.2 L509.5,3222.8 L512.5,3222.4 L515.5,3222.0 L518.5,3221.6 L521.5,3221.2 L524.5,3220.7 L527.5,3220.3 L530.5,3219.8 L533.5,3219.4 L536.5,3218.9 L539.5,3218.4 L542.5,3218.0 L545.5,3217.5 L548.5,3217.0 L551.5,3216.5 L554.5,3216.0 L557.5,3215.4 L560.6,3214.9 L563.6,3214.3 L566.6,3213.8 L569.6,3213.2 L572.6,3212.6 L575.6,3212.0 L578.6,3211.4 L581.6,3210.7 L584.6,3210.1 L587.6,3209.4 L590.6,3208.7 L593.6,3208.0 L596.6,3207.3 L599.6,3206.6 L602.6,3205.8 L605.6,3205.1 L608.6,3204.3 L611.6,3203.5 L614.6,3202.6 L617.6,3201.8 L620.6,3200.9 L623.6,3200.0 L626.6,3199.1 L629.6,3198.1 L632.6,3197.2 L635.6,3196.2 L638.7,3195.1 L641.7,3194.1 L644.7,3193.0 L647.7,3191.9 L650.7,3190.8 L653.7,3189.6 L656.7,3188.5 L659.7,3187.3 L662.7,3186.0 L665.7,3184.8 L668.7,3183.5 L671.7,3182.1 L674.7,3180.8 L677.7,3179.4 L680.7,3178.0 L683.7,3176.5 L686.7,3175.0 L689.7,3173.5 L692.7,3172.0 L695.7,3170.4 L698.7,3168.7 L701.7,3167.1 L704.7,3165.4 L707.7,3163.6 L710.7,3161.9 L713.8,3160.1 L716.8,3158.2 L719.8,3156.3 L722.8,3154.4 L725.8,3152.5 L728.8,3150.4 L731.8,3148.4 L734.8,3146.3 L737.8,3144.2 L740.8,3142.0 L743.8,3139.8 L746.8,3137.5 L749.8,3135.2 L752.8,3132.9 L755.8,3130.5 L758.8,3128.1 L761.8,3125.6 L764.8,3123.1 L767.8,3120.5 L770.8,3117.9 L773.8,3115.2 L776.8,3112.5 L779.8,3109.7 L782.8,3106.9 L785.8,3104.1 L788.8,3101.2 L791.9,3098.3 L794.9,3095.4 L797.9,3092.4 L800.9,3089.4 L803.9,3086.4 L806.9,3083.4 L809.9,3080.3 L812.9,3077.2 L815.9,3074.1 L818.9,3071.1 L821.9,3068.0 L824.9,3064.9 L827.9,3061.7 L830.9,3058.6 L833.9,3055.5 L836.9,3052.4 L839.9,3049.4 L842.9,3046.3 L845.9,3043.2 L848.9,3040.2 L851.9,3037.2 L854.9,3034.2 L857.9,3031.2 L860.9,3028.3 L863.9,3025.4 L866.9,3022.6 L870.0,3019.8 L873.0,3017.1 L876.0,3014.4 L879.0,3011.9 L882.0,3009.4 L885.0,3007.0 L888.0,3004.7 L891.0,3002.5 L894.0,3000.4 L897.0,2998.4 L900.0,2996.5 L903.0,2994.8 L906.0,2993.1 L909.0,2991.6 L912.0,2990.2 L915.0,2988.9 L918.0,2987.7 L921.0,2986.6 L924.0,2985.6 L927.0,2984.8 L930.0,2984.0 L933.0,2983.4 L936.0,2982.9 L939.0,2982.5 L942.0,2982.2 L945.1,2982.1 L948.1,2982.0 L951.1,2982.1 L954.1,2982.3 L957.1,2982.6 L960.1,2983.0 L963.1,2983.6 L966.1,2984.2 L969.1,2985.0 L972.1,2985.9 L975.1,2986.9 L978.1,2988.1 L981.1,2989.3 L984.1,2990.7 L987.1,2992.2 L990.1,2993.8 L993.1,2995.5 L996.1,2997.4 L999.1,2999.4 L1002.1,3001.5 L1005.1,3003.7 L1008.1,3006.0 L1011.1,3008.4 L1014.1,3010.9 L1017.1,3013.5 L1020.1,3016.1 L1023.2,3018.9 L1026.2,3021.7 L1029.2,3024.5 L1032.2,3027.5 L1035.2,3030.5 L1038.2,3033.5 L1041.2,3036.6 L1044.2,3039.7 L1047.2,3042.8 L1050.2,3046.0 L1053.2,3049.2 L1056.2,3052.4 L1059.2,3055.6 L1062.2,3058.8 L1065.2,3062.0 L1068.2,3065.2 L1071.2,3068.5 L1074.2,3071.7 L1077.2,3074.9 L1080.2,3078.0 L1083.2,3081.2 L1086.2,3084.4 L1089.2,3087.5 L1092.2,3090.7 L1095.2,3093.8 L1098.2,3096.9 L1101.3,3100.0 L1104.3,3103.0 L1107.3,3106.0 L1110.3,3109.0 L1113.3,3112.0 L1116.3,3114.9 L1119.3,3117.8 L1122.3,3120.7 L1125.3,3123.5 L1128.3,3126.4 L1131.3,3129.1 L1134.3,3131.9 L1137.3,3134.6 L1140.3,3137.3 L1143.3,3139.9 L1146.3,3142.5 L1149.3,3145.1 L1152.3,3147.7 L1155.3,3150.2 L1158.3,3152.6 L1161.3,3155.1 L1164.3,3157.5 L1167.3,3159.8 L1170.3,3162.1 L1173.3,3164.4 L1176.4,3166.6 L1179.4,3168.8 L1182.4,3170.9 L1185.4,3173.0 L1188.4,3175.1 L1191.4,3177.1 L1194.4,3179.1 L1197.4,3181.0 L1200.4,3182.9 L1203.4,3184.7 L1206.4,3186.5 L1209.4,3188.2 L1212.4,3189.9 L1215.4,3191.6 L1218.4,3193.2 L1221.4,3194.7 L1224.4,3196.3 L1227.4,3197.8 L1230.4,3199.2 L1233.4,3200.6 L1236.4,3202.0 L1239.4,3203.4 L1242.4,3204.7 L1245.4,3205.9 L1248.4,3207.2 L1251.4,3208.4 L1254.5,3209.5 L1257.5,3210.7 L1260.5,3211.8 L1263.5,3212.9 L1266.5,3213.9 L1269.5,3214.9 L1272.5,3215.9 L1275.5,3216.9 L1278.5,3217.8 L1281.5,3218.7 L1284.5,3219.6 L1287.5,3220.4 L1290.5,3221.3 L1293.5,3222.1 L1296.5,3222.8 L1299.5,3223.6 L1302.5,3224.3 L1305.5,3225.1 L1308.5,3225.8 L1311.5,3226.4 L1314.5,3227.1 L1317.5,3227.7 L1320.5,3228.4 L1323.5,3229.0 L1326.5,3229.6 L1329.6,3230.1 L1332.6,3230.7 L1335.6,3231.3 L1338.6,3231.8 L1341.6,3232.3 L1344.6,3232.8 L1347.6,3233.3 L1350.6,3233.8 L1353.6,3234.3 L1356.6,3234.8 L1359.6,3235.3 L1362.6,3235.7 L1365.6,3236.2 L1368.6,3236.6 L1371.6,3237.1 L1374.6,3237.5 L1377.6,3237.9 L1380.6,3238.3 L1383.6,3238.7 L1386.6,3239.2 L1389.6,3239.6 L1392.6,3239.9 L1395.6,3240.3 L1398.6,3240.7 L1401.6,3241.1 L1404.6,3241.5 L1407.7,3241.8 L1410.7,3242.2 L1413.7,3242.5 L1416.7,3242.9 L1419.7,3243.2 L1422.7,3243.6 L1425.7,3243.9 L1428.7,3244.2 L1431.7,3244.5 L1434.7,3244.8 L1437.7,3245.1 L1440.7,3245.4 L1443.7,3245.7 L1446.7,3246.0 L1449.7,3246.3 L1452.7,3246.6 L1455.7,3246.9 L1458.7,3247.1 L1461.7,3247.4 L1464.7,3247.7 L1467.7,3247.9 L1470.7,3248.2 L1473.7,3248.4 L1476.7,3248.7 L1479.7,3248.9 L1482.8,3249.1 L1485.8,3249.4 L1488.8,3249.6 L1491.8,3249.8 L1494.8,3250.0 L1497.8,3250.3 L1500.8,3250.5 L1503.8,3250.7 L1506.8,3250.9 L1509.8,3251.1 L1512.8,3251.3 L1515.8,3251.5 L1518.8,3251.6 L1521.8,3251.8 L1524.8,3252.0 L1527.8,3252.2 L1530.8,3252.4 L1533.8,3252.5 L1536.8,3252.7 L1539.8,3252.9 L1542.8,3253.0 L1545.8,3253.2 L1548.8,3253.3 L1551.8,3253.5 L1554.8,3253.6 L1557.8,3253.8 L1560.9,3253.9 L1563.9,3254.1 L1566.9,3254.2 L1569.9,3254.4 L1572.9,3254.5 L1575.9,3254.6 L1578.9,3254.7 L1581.9,3254.9 L1584.9,3255.0 L1587.9,3255.1 L1590.9,3255.2 L1593.9,3255.4 L1596.9,3255.5 L1599.9,3255.6 L1602.9,3255.7 L1605.9,3255.8 L1608.9,3255.9 L1611.9,3256.1 L1614.9,3256.2 L1617.9,3256.3 L1620.9,3256.4 L1623.9,3256.5 L1626.9,3256.6 L1629.9,3256.7 L1632.9,3256.8 L1635.9,3256.9 L1639.0,3257.0 L1642.0,3257.1 L1645.0,3257.2 L1648.0,3257.3 L1651.0,3257.4 L1654.0,3257.5 L1657.0,3257.6 L1660.0,3257.7 L1663.0,3257.8 L1666.0,3257.8 L1669.0,3257.9 L1672.0,3258.0 L1675.0,3258.1" fill="none" stroke="#0000FF" stroke-width="6.6" stroke-linejoin="round"/>
</svg></body></html>
